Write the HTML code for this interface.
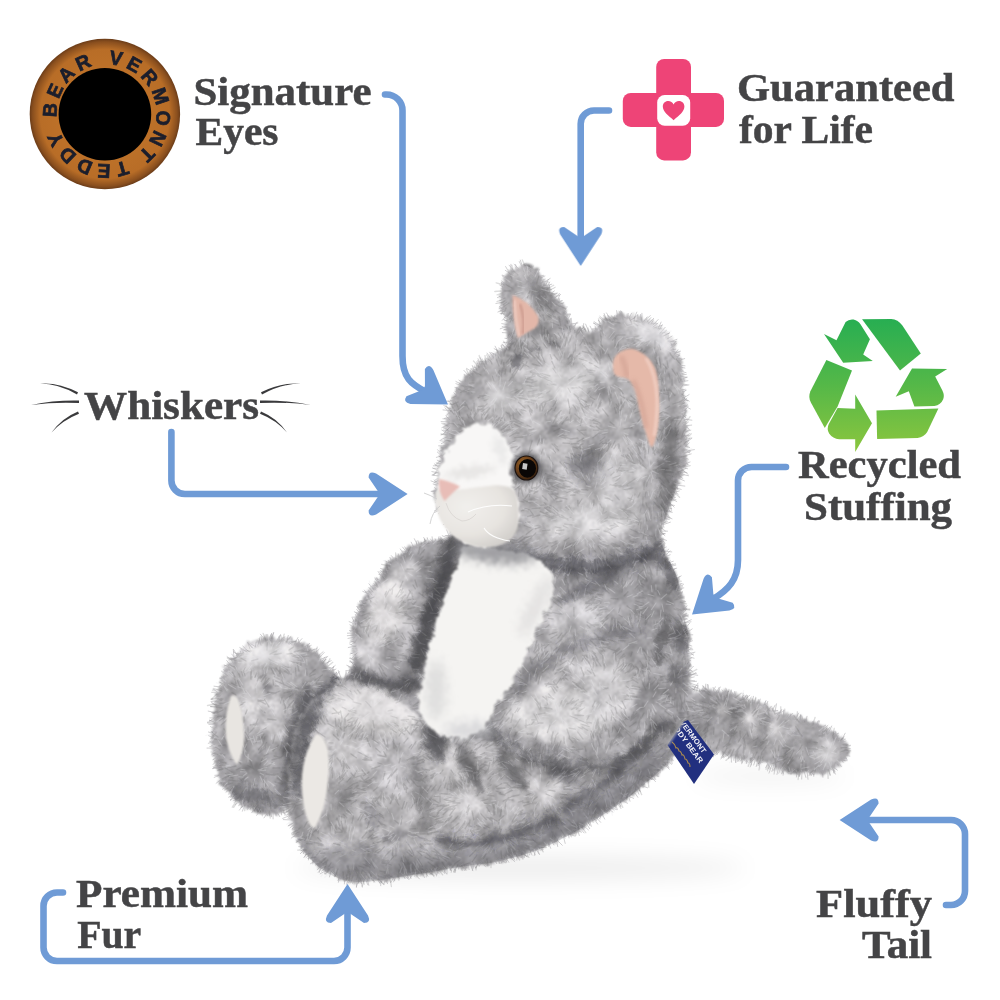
<!DOCTYPE html>
<html><head><meta charset="utf-8"><title>Plush cat features</title>
<style>
html,body{margin:0;padding:0;background:#fff;}
body{width:1000px;height:1000px;overflow:hidden;font-family:"Liberation Serif",serif;}
svg{display:block}
.lbl text{font-family:"Liberation Serif",serif;font-weight:bold;fill:#444446;stroke:#444446;stroke-width:0.5px;}
</style></head>
<body>
<svg width="1000" height="1000" viewBox="0 0 1000 1000">
<defs>

<radialGradient id="eyeg" cx="50%" cy="50%" r="50%">
<stop offset="0" stop-color="#c87a2c"/><stop offset="0.86" stop-color="#b86d27"/><stop offset="0.96" stop-color="#8a4f1e"/><stop offset="1" stop-color="#6b3c18"/>
</radialGradient>

<linearGradient id="recg" x1="0" y1="115" x2="0" y2="950" gradientUnits="userSpaceOnUse"><stop offset="0" stop-color="#27ae52"/><stop offset="0.5" stop-color="#55b848"/><stop offset="1" stop-color="#8cc63e"/></linearGradient>

<filter id="fur" filterUnits="userSpaceOnUse" x="180" y="240" width="700" height="670" color-interpolation-filters="sRGB">
  <feTurbulence type="fractalNoise" baseFrequency="0.07" numOctaves="1" seed="2" result="n0"/>
  <feDisplacementMap in="SourceGraphic" in2="n0" scale="9" xChannelSelector="R" yChannelSelector="G" result="d0"/>
  <feTurbulence type="fractalNoise" baseFrequency="0.28" numOctaves="2" seed="7" result="n"/>
  <feDisplacementMap in="d0" in2="n" scale="7" xChannelSelector="R" yChannelSelector="G" result="d"/>
  <feTurbulence type="fractalNoise" baseFrequency="0.05" numOctaves="2" seed="5" result="nl"/>
  <feTurbulence type="fractalNoise" baseFrequency="0.4" numOctaves="2" seed="9" result="nh"/>
  <feComposite in="nl" in2="nh" operator="arithmetic" k1="0" k2="0.55" k3="0.45" k4="0" result="nm"/>
  <feColorMatrix in="nm" type="matrix" values="2 0 0 0 -0.5  2 0 0 0 -0.5  2 0 0 0 -0.5  0 0 0 0 1" result="ns"/>
  <feComposite in="d" in2="ns" operator="arithmetic" k1="0.56" k2="0.73" k3="0" k4="0" result="m"/>
  <feComposite in="m" in2="d" operator="in" result="mm"/>
  <feGaussianBlur in="mm" stdDeviation="0.8" result="bl"/>
  <feColorMatrix in="bl" type="matrix" values="0.945 0 0 0 0  0 0.935 0 0 0  0 0 0.928 0 0  0 0 0 1 0"/>
</filter>
<filter id="furW" filterUnits="userSpaceOnUse" x="180" y="240" width="700" height="670" color-interpolation-filters="sRGB">
  <feTurbulence type="fractalNoise" baseFrequency="0.15" numOctaves="2" seed="17" result="n"/>
  <feDisplacementMap in="SourceGraphic" in2="n" scale="10" xChannelSelector="R" yChannelSelector="G" result="d"/>
  <feGaussianBlur in="d" stdDeviation="1.2"/>
</filter>
<filter id="rag" filterUnits="userSpaceOnUse" x="180" y="240" width="700" height="670">
  <feTurbulence type="fractalNoise" baseFrequency="0.09" numOctaves="2" seed="31" result="n"/>
  <feDisplacementMap in="SourceGraphic" in2="n" scale="16" xChannelSelector="R" yChannelSelector="G" result="d"/>
  <feTurbulence type="fractalNoise" baseFrequency="0.35" numOctaves="1" seed="4" result="n2"/>
  <feDisplacementMap in="d" in2="n2" scale="6" xChannelSelector="R" yChannelSelector="G"/>
</filter>
<filter id="hb" filterUnits="userSpaceOnUse" x="180" y="240" width="700" height="670"><feGaussianBlur stdDeviation="0.45"/></filter>
<filter id="bs"><feGaussianBlur stdDeviation="0.8"/></filter>
<filter id="b2" x="-30%" y="-30%" width="160%" height="160%"><feGaussianBlur stdDeviation="2"/></filter>
<filter id="b3" x="-30%" y="-30%" width="160%" height="160%"><feGaussianBlur stdDeviation="3"/></filter>
<filter id="gb8" filterUnits="userSpaceOnUse" x="150" y="220" width="760" height="720"><feGaussianBlur stdDeviation="8"/></filter>
<filter id="gb5" filterUnits="userSpaceOnUse" x="150" y="220" width="760" height="720"><feGaussianBlur stdDeviation="5"/></filter>
<filter id="gb3" filterUnits="userSpaceOnUse" x="150" y="220" width="760" height="720"><feGaussianBlur stdDeviation="3"/></filter>
<filter id="gb2" filterUnits="userSpaceOnUse" x="150" y="220" width="760" height="720"><feGaussianBlur stdDeviation="1.8"/></filter>
<filter id="gbs" filterUnits="userSpaceOnUse" x="150" y="220" width="760" height="720"><feGaussianBlur stdDeviation="0.9"/></filter>
<filter id="sh" filterUnits="userSpaceOnUse" x="150" y="700" width="800" height="260"><feGaussianBlur stdDeviation="11"/></filter>

<clipPath id="catclip"><path d="M436.0,491.0 C435.8,484.0 436.0,475.5 437.5,467.0 C439.0,458.5 443.2,449.5 445.0,440.0 C446.8,430.5 445.5,419.3 448.0,410.0 C450.5,400.7 455.0,391.3 460.0,384.0 C465.0,376.7 471.5,371.5 478.0,366.0 C484.5,360.5 493.8,354.8 499.0,351.0 C504.2,347.2 508.2,349.0 509.0,343.0 C509.8,337.0 504.9,323.7 503.5,315.0 C502.1,306.3 499.5,298.2 500.5,291.0 C501.5,283.8 505.5,275.8 509.5,271.5 C513.5,267.2 519.2,264.8 524.5,265.5 C529.8,266.2 535.8,270.8 541.0,276.0 C546.2,281.2 551.5,290.0 556.0,297.0 C560.5,304.0 564.5,312.8 568.0,318.0 C571.5,323.2 573.0,326.5 577.0,328.5 C581.0,330.5 587.5,331.5 592.0,330.0 C596.5,328.5 598.0,322.0 604.0,319.5 C610.0,317.0 620.0,314.8 628.0,315.0 C636.0,315.2 644.8,317.0 652.0,321.0 C659.2,325.0 666.5,331.5 671.5,339.0 C676.5,346.5 679.8,356.5 682.0,366.0 C684.2,375.5 684.3,385.0 685.0,396.0 C685.7,407.0 685.5,423.0 686.0,432.0 C686.5,441.0 688.7,442.8 688.0,450.0 C687.3,457.2 684.7,466.7 682.0,475.0 C679.3,483.3 675.0,491.8 672.0,500.0 C669.0,508.2 665.7,516.7 664.0,524.0 C662.3,531.3 659.7,534.7 662.0,544.0 C664.3,553.3 674.0,567.3 678.0,580.0 C682.0,592.7 684.0,606.7 686.0,620.0 C688.0,633.3 688.8,648.7 690.0,660.0 C691.2,671.3 690.0,683.0 693.0,688.0 C696.0,693.0 700.2,688.7 708.0,690.0 C715.8,691.3 728.0,692.3 740.0,696.0 C752.0,699.7 766.7,707.0 780.0,712.0 C793.3,717.0 809.3,721.3 820.0,726.0 C830.7,730.7 839.5,735.0 844.0,740.0 C848.5,745.0 849.0,751.0 847.0,756.0 C845.0,761.0 839.8,767.0 832.0,770.0 C824.2,773.0 812.0,775.0 800.0,774.0 C788.0,773.0 772.0,767.0 760.0,764.0 C748.0,761.0 737.0,758.0 728.0,756.0 C719.0,754.0 713.3,753.3 706.0,752.0 C698.7,750.7 692.7,744.0 684.0,748.0 C675.3,752.0 664.3,767.0 654.0,776.0 C643.7,785.0 634.3,793.2 622.0,802.0 C609.7,810.8 593.7,821.2 580.0,829.0 C566.3,836.8 553.3,843.7 540.0,849.0 C526.7,854.3 513.3,858.0 500.0,861.0 C486.7,864.0 476.7,864.3 460.0,867.0 C443.3,869.7 417.3,874.5 400.0,877.0 C382.7,879.5 368.3,882.8 356.0,882.0 C343.7,881.2 334.8,877.3 326.0,872.0 C317.2,866.7 308.8,858.3 303.0,850.0 C297.2,841.7 293.7,828.7 291.0,822.0 C288.3,815.3 290.5,811.3 287.0,810.0 C283.5,808.7 277.5,814.7 270.0,814.0 C262.5,813.3 250.0,811.3 242.0,806.0 C234.0,800.7 227.0,793.0 222.0,782.0 C217.0,771.0 212.8,755.0 212.0,740.0 C211.2,725.0 213.5,706.0 217.0,692.0 C220.5,678.0 224.5,665.2 233.0,656.0 C241.5,646.8 256.8,639.2 268.0,637.0 C279.2,634.8 291.3,640.0 300.0,643.0 C308.7,646.0 313.7,649.3 320.0,655.0 C326.3,660.7 333.2,673.8 338.0,677.0 C342.8,680.2 346.3,677.5 349.0,674.0 C351.7,670.5 353.5,663.7 354.0,656.0 C354.5,648.3 350.0,638.0 352.0,628.0 C354.0,618.0 359.7,606.7 366.0,596.0 C372.3,585.3 381.3,572.7 390.0,564.0 C398.7,555.3 408.8,548.2 418.0,544.0 C427.2,539.8 439.2,541.3 445.0,539.0 C450.8,536.7 453.5,535.0 452.5,530.0 C451.5,525.0 441.8,515.5 439.0,509.0 C436.2,502.5 436.2,498.0 436.0,491.0Z"/></clipPath>
<radialGradient id="pg1" gradientUnits="userSpaceOnUse" cx="770" cy="728" r="70"><stop offset="0" stop-color="#c4c4c8"/><stop offset="1" stop-color="#a8a8ad"/></radialGradient>
<clipPath id="pc1"><path d="M686.0,704.0 C688.0,694.7 694.3,694.3 698.0,692.0 C701.7,689.7 701.0,689.3 708.0,690.0 C715.0,690.7 728.0,692.3 740.0,696.0 C752.0,699.7 766.7,707.0 780.0,712.0 C793.3,717.0 809.3,721.3 820.0,726.0 C830.7,730.7 839.5,735.0 844.0,740.0 C848.5,745.0 849.0,751.0 847.0,756.0 C845.0,761.0 839.8,767.0 832.0,770.0 C824.2,773.0 812.0,775.0 800.0,774.0 C788.0,773.0 772.0,767.0 760.0,764.0 C748.0,761.0 737.0,758.0 728.0,756.0 C719.0,754.0 713.0,753.3 706.0,752.0 C699.0,750.7 689.3,756.0 686.0,748.0 C682.7,740.0 684.0,713.3 686.0,704.0Z"/></clipPath>
<radialGradient id="pg2" gradientUnits="userSpaceOnUse" cx="600" cy="640" r="110"><stop offset="0" stop-color="#bcbcc0"/><stop offset="1" stop-color="#a8a8ad"/></radialGradient>
<clipPath id="pc2"><path d="M450.0,540.0 C435.0,544.2 435.0,550.0 430.0,560.0 C425.0,570.0 422.5,583.3 420.0,600.0 C417.5,616.7 415.0,640.0 415.0,660.0 C415.0,680.0 415.8,703.3 420.0,720.0 C424.2,736.7 426.7,748.3 440.0,760.0 C453.3,771.7 480.0,783.3 500.0,790.0 C520.0,796.7 540.0,798.3 560.0,800.0 C580.0,801.7 604.7,804.7 620.0,800.0 C635.3,795.3 641.7,781.3 652.0,772.0 C662.3,762.7 675.2,756.0 682.0,744.0 C688.8,732.0 691.7,714.0 693.0,700.0 C694.3,686.0 691.2,673.3 690.0,660.0 C688.8,646.7 688.0,633.3 686.0,620.0 C684.0,606.7 682.0,592.7 678.0,580.0 C674.0,567.3 675.0,550.7 662.0,544.0 C649.0,537.3 623.7,541.5 600.0,540.0 C576.3,538.5 545.0,535.0 520.0,535.0 C495.0,535.0 465.0,535.8 450.0,540.0Z"/></clipPath>
<radialGradient id="pg3" gradientUnits="userSpaceOnUse" cx="262" cy="700" r="95"><stop offset="0" stop-color="#cdcdd1"/><stop offset="1" stop-color="#a2a2a7"/></radialGradient>
<clipPath id="pc3"><path d="M268.0,637.0 C279.2,634.8 291.0,639.8 300.0,643.0 C309.0,646.2 315.3,649.8 322.0,656.0 C328.7,662.2 335.8,669.3 340.0,680.0 C344.2,690.7 346.7,705.0 347.0,720.0 C347.3,735.0 346.2,755.7 342.0,770.0 C337.8,784.3 330.7,798.3 322.0,806.0 C313.3,813.7 300.0,814.7 290.0,816.0 C280.0,817.3 270.0,815.7 262.0,814.0 C254.0,812.3 248.7,811.3 242.0,806.0 C235.3,800.7 227.0,793.0 222.0,782.0 C217.0,771.0 212.8,755.0 212.0,740.0 C211.2,725.0 213.5,706.0 217.0,692.0 C220.5,678.0 224.5,665.2 233.0,656.0 C241.5,646.8 256.8,639.2 268.0,637.0Z"/></clipPath>
<radialGradient id="pg4" gradientUnits="userSpaceOnUse" cx="388" cy="615" r="62"><stop offset="0" stop-color="#cdcdd1"/><stop offset="1" stop-color="#a0a0a5"/></radialGradient>
<clipPath id="pc4"><path d="M462.0,535.0 C457.3,530.7 446.3,533.5 440.0,534.0 C433.7,534.5 430.2,535.0 424.0,538.0 C417.8,541.0 409.5,546.7 403.0,552.0 C396.5,557.3 390.8,562.7 385.0,570.0 C379.2,577.3 372.8,586.8 368.0,596.0 C363.2,605.2 359.2,616.0 356.0,625.0 C352.8,634.0 349.3,642.3 349.0,650.0 C348.7,657.7 350.2,666.0 354.0,671.0 C357.8,676.0 365.2,677.8 372.0,680.0 C378.8,682.2 387.3,683.3 395.0,684.0 C402.7,684.7 411.2,686.7 418.0,684.0 C424.8,681.3 431.7,677.3 436.0,668.0 C440.3,658.7 440.5,640.7 444.0,628.0 C447.5,615.3 453.0,603.3 457.0,592.0 C461.0,580.7 467.2,569.5 468.0,560.0 C468.8,550.5 466.7,539.3 462.0,535.0Z"/></clipPath>
<radialGradient id="pg5" gradientUnits="userSpaceOnUse" cx="400" cy="770" r="240"><stop offset="0" stop-color="#c8c8cc"/><stop offset="0.55" stop-color="#b6b6ba"/><stop offset="1" stop-color="#a6a6ab"/></radialGradient>
<clipPath id="pc5"><path d="M346.0,679.0 C336.8,679.3 332.3,684.5 325.0,690.0 C317.7,695.5 307.8,702.0 302.0,712.0 C296.2,722.0 292.3,737.0 290.0,750.0 C287.7,763.0 287.8,778.0 288.0,790.0 C288.2,802.0 288.5,812.0 291.0,822.0 C293.5,832.0 297.2,841.7 303.0,850.0 C308.8,858.3 317.2,866.7 326.0,872.0 C334.8,877.3 343.7,881.2 356.0,882.0 C368.3,882.8 382.7,879.5 400.0,877.0 C417.3,874.5 443.3,869.7 460.0,867.0 C476.7,864.3 486.7,864.0 500.0,861.0 C513.3,858.0 526.7,854.3 540.0,849.0 C553.3,843.7 566.3,836.8 580.0,829.0 C593.7,821.2 609.7,810.8 622.0,802.0 C634.3,793.2 643.7,785.0 654.0,776.0 C664.3,767.0 677.7,758.0 684.0,748.0 C690.3,738.0 696.0,719.3 692.0,716.0 C688.0,712.7 675.3,723.2 660.0,728.0 C644.7,732.8 620.0,742.2 600.0,745.0 C580.0,747.8 560.0,745.8 540.0,745.0 C520.0,744.2 495.8,741.7 480.0,740.0 C464.2,738.3 454.2,738.0 445.0,735.0 C435.8,732.0 431.7,727.2 425.0,722.0 C418.3,716.8 412.5,709.7 405.0,704.0 C397.5,698.3 389.8,692.2 380.0,688.0 C370.2,683.8 355.2,678.7 346.0,679.0Z"/></clipPath>
<radialGradient id="pg6" gradientUnits="userSpaceOnUse" cx="575" cy="680" r="105"><stop offset="0" stop-color="#c6c6ca"/><stop offset="1" stop-color="#a3a3a8"/></radialGradient>
<clipPath id="pc6"><path d="M560.0,570.0 C553.3,576.3 546.7,588.3 540.0,600.0 C533.3,611.7 526.7,626.7 520.0,640.0 C513.3,653.3 505.0,667.5 500.0,680.0 C495.0,692.5 490.5,705.0 490.0,715.0 C489.5,725.0 492.0,733.2 497.0,740.0 C502.0,746.8 509.5,751.5 520.0,756.0 C530.5,760.5 546.7,765.2 560.0,767.0 C573.3,768.8 588.3,769.5 600.0,767.0 C611.7,764.5 621.3,759.5 630.0,752.0 C638.7,744.5 646.0,734.0 652.0,722.0 C658.0,710.0 662.7,693.7 666.0,680.0 C669.3,666.3 671.7,653.3 672.0,640.0 C672.3,626.7 671.7,610.8 668.0,600.0 C664.3,589.2 659.7,581.3 650.0,575.0 C640.3,568.7 621.7,564.2 610.0,562.0 C598.3,559.8 588.3,560.7 580.0,562.0 C571.7,563.3 566.7,563.7 560.0,570.0Z"/></clipPath>
<radialGradient id="pg7" gradientUnits="userSpaceOnUse" cx="525" cy="300" r="45"><stop offset="0" stop-color="#c0c0c4"/><stop offset="1" stop-color="#a4a4a9"/></radialGradient>
<clipPath id="pc7"><path d="M507.0,348.0 C500.1,342.2 504.6,324.5 503.5,315.0 C502.4,305.5 499.5,298.2 500.5,291.0 C501.5,283.8 505.5,275.8 509.5,271.5 C513.5,267.2 519.2,264.8 524.5,265.5 C529.8,266.2 535.8,270.8 541.0,276.0 C546.2,281.2 551.5,290.0 556.0,297.0 C560.5,304.0 564.0,311.8 568.0,318.0 C572.0,324.2 583.8,328.7 580.0,334.0 C576.2,339.3 557.2,347.7 545.0,350.0 C532.8,352.3 513.9,353.8 507.0,348.0Z"/></clipPath>
<radialGradient id="pg8" gradientUnits="userSpaceOnUse" cx="560" cy="430" r="150"><stop offset="0" stop-color="#c6c6ca"/><stop offset="0.55" stop-color="#bcbcc0"/><stop offset="1" stop-color="#a9a9ae"/></radialGradient>
<clipPath id="pc8"><path d="M436.0,491.0 C435.4,483.0 436.0,475.5 437.5,467.0 C439.0,458.5 443.2,449.5 445.0,440.0 C446.8,430.5 445.5,419.3 448.0,410.0 C450.5,400.7 455.0,391.3 460.0,384.0 C465.0,376.7 471.5,371.5 478.0,366.0 C484.5,360.5 492.0,355.3 499.0,351.0 C506.0,346.7 512.3,343.0 520.0,340.0 C527.7,337.0 535.5,334.9 545.0,333.0 C554.5,331.1 569.2,329.0 577.0,328.5 C584.8,328.0 587.5,331.5 592.0,330.0 C596.5,328.5 598.0,322.0 604.0,319.5 C610.0,317.0 620.0,314.8 628.0,315.0 C636.0,315.2 644.8,317.0 652.0,321.0 C659.2,325.0 666.5,331.5 671.5,339.0 C676.5,346.5 679.8,356.5 682.0,366.0 C684.2,375.5 684.3,385.0 685.0,396.0 C685.7,407.0 685.5,423.0 686.0,432.0 C686.5,441.0 688.7,442.8 688.0,450.0 C687.3,457.2 684.7,466.7 682.0,475.0 C679.3,483.3 675.0,491.8 672.0,500.0 C669.0,508.2 666.8,516.3 664.0,524.0 C661.2,531.7 660.7,540.0 655.0,546.0 C649.3,552.0 640.8,556.3 630.0,560.0 C619.2,563.7 603.3,567.3 590.0,568.0 C576.7,568.7 561.7,566.3 550.0,564.0 C538.3,561.7 528.3,556.8 520.0,554.0 C511.7,551.2 506.7,548.0 500.0,547.0 C493.3,546.0 486.0,549.0 480.0,548.0 C474.0,547.0 469.3,544.3 464.0,541.0 C458.7,537.7 451.8,532.3 448.0,528.0 C444.2,523.7 443.0,521.2 441.0,515.0 C439.0,508.8 436.6,499.0 436.0,491.0Z"/></clipPath>
<radialGradient id="muzg" cx="0.38" cy="0.35" r="0.75"><stop offset="0" stop-color="#f1efec"/><stop offset="0.6" stop-color="#e7e4e0"/><stop offset="1" stop-color="#cfccc8"/></radialGradient>
<radialGradient id="cateye" cx="0.35" cy="0.3" r="0.8"><stop offset="0" stop-color="#96642a"/><stop offset="0.5" stop-color="#6a3f1a"/><stop offset="1" stop-color="#36200e"/></radialGradient>
<clipPath id="tagclip"><path d="M683,722 L688,720 L714,754.5 L694,784 L667.5,745 Z"/></clipPath>
</defs>
<rect width="1000" height="1000" fill="#fff"/>
<g filter="url(#sh)" fill="#000"><ellipse cx="520" cy="868" rx="225" ry="12" opacity="0.07"/><ellipse cx="770" cy="776" rx="75" ry="7" opacity="0.06"/></g>
<g filter="url(#fur)"><g clip-path="url(#catclip)"><path d="M436.0,491.0 C435.8,484.0 436.0,475.5 437.5,467.0 C439.0,458.5 443.2,449.5 445.0,440.0 C446.8,430.5 445.5,419.3 448.0,410.0 C450.5,400.7 455.0,391.3 460.0,384.0 C465.0,376.7 471.5,371.5 478.0,366.0 C484.5,360.5 493.8,354.8 499.0,351.0 C504.2,347.2 508.2,349.0 509.0,343.0 C509.8,337.0 504.9,323.7 503.5,315.0 C502.1,306.3 499.5,298.2 500.5,291.0 C501.5,283.8 505.5,275.8 509.5,271.5 C513.5,267.2 519.2,264.8 524.5,265.5 C529.8,266.2 535.8,270.8 541.0,276.0 C546.2,281.2 551.5,290.0 556.0,297.0 C560.5,304.0 564.5,312.8 568.0,318.0 C571.5,323.2 573.0,326.5 577.0,328.5 C581.0,330.5 587.5,331.5 592.0,330.0 C596.5,328.5 598.0,322.0 604.0,319.5 C610.0,317.0 620.0,314.8 628.0,315.0 C636.0,315.2 644.8,317.0 652.0,321.0 C659.2,325.0 666.5,331.5 671.5,339.0 C676.5,346.5 679.8,356.5 682.0,366.0 C684.2,375.5 684.3,385.0 685.0,396.0 C685.7,407.0 685.5,423.0 686.0,432.0 C686.5,441.0 688.7,442.8 688.0,450.0 C687.3,457.2 684.7,466.7 682.0,475.0 C679.3,483.3 675.0,491.8 672.0,500.0 C669.0,508.2 665.7,516.7 664.0,524.0 C662.3,531.3 659.7,534.7 662.0,544.0 C664.3,553.3 674.0,567.3 678.0,580.0 C682.0,592.7 684.0,606.7 686.0,620.0 C688.0,633.3 688.8,648.7 690.0,660.0 C691.2,671.3 690.0,683.0 693.0,688.0 C696.0,693.0 700.2,688.7 708.0,690.0 C715.8,691.3 728.0,692.3 740.0,696.0 C752.0,699.7 766.7,707.0 780.0,712.0 C793.3,717.0 809.3,721.3 820.0,726.0 C830.7,730.7 839.5,735.0 844.0,740.0 C848.5,745.0 849.0,751.0 847.0,756.0 C845.0,761.0 839.8,767.0 832.0,770.0 C824.2,773.0 812.0,775.0 800.0,774.0 C788.0,773.0 772.0,767.0 760.0,764.0 C748.0,761.0 737.0,758.0 728.0,756.0 C719.0,754.0 713.3,753.3 706.0,752.0 C698.7,750.7 692.7,744.0 684.0,748.0 C675.3,752.0 664.3,767.0 654.0,776.0 C643.7,785.0 634.3,793.2 622.0,802.0 C609.7,810.8 593.7,821.2 580.0,829.0 C566.3,836.8 553.3,843.7 540.0,849.0 C526.7,854.3 513.3,858.0 500.0,861.0 C486.7,864.0 476.7,864.3 460.0,867.0 C443.3,869.7 417.3,874.5 400.0,877.0 C382.7,879.5 368.3,882.8 356.0,882.0 C343.7,881.2 334.8,877.3 326.0,872.0 C317.2,866.7 308.8,858.3 303.0,850.0 C297.2,841.7 293.7,828.7 291.0,822.0 C288.3,815.3 290.5,811.3 287.0,810.0 C283.5,808.7 277.5,814.7 270.0,814.0 C262.5,813.3 250.0,811.3 242.0,806.0 C234.0,800.7 227.0,793.0 222.0,782.0 C217.0,771.0 212.8,755.0 212.0,740.0 C211.2,725.0 213.5,706.0 217.0,692.0 C220.5,678.0 224.5,665.2 233.0,656.0 C241.5,646.8 256.8,639.2 268.0,637.0 C279.2,634.8 291.3,640.0 300.0,643.0 C308.7,646.0 313.7,649.3 320.0,655.0 C326.3,660.7 333.2,673.8 338.0,677.0 C342.8,680.2 346.3,677.5 349.0,674.0 C351.7,670.5 353.5,663.7 354.0,656.0 C354.5,648.3 350.0,638.0 352.0,628.0 C354.0,618.0 359.7,606.7 366.0,596.0 C372.3,585.3 381.3,572.7 390.0,564.0 C398.7,555.3 408.8,548.2 418.0,544.0 C427.2,539.8 439.2,541.3 445.0,539.0 C450.8,536.7 453.5,535.0 452.5,530.0 C451.5,525.0 441.8,515.5 439.0,509.0 C436.2,502.5 436.2,498.0 436.0,491.0Z" fill="#adadb2"/>
<path d="M686.0,704.0 C688.0,694.7 694.3,694.3 698.0,692.0 C701.7,689.7 701.0,689.3 708.0,690.0 C715.0,690.7 728.0,692.3 740.0,696.0 C752.0,699.7 766.7,707.0 780.0,712.0 C793.3,717.0 809.3,721.3 820.0,726.0 C830.7,730.7 839.5,735.0 844.0,740.0 C848.5,745.0 849.0,751.0 847.0,756.0 C845.0,761.0 839.8,767.0 832.0,770.0 C824.2,773.0 812.0,775.0 800.0,774.0 C788.0,773.0 772.0,767.0 760.0,764.0 C748.0,761.0 737.0,758.0 728.0,756.0 C719.0,754.0 713.0,753.3 706.0,752.0 C699.0,750.7 689.3,756.0 686.0,748.0 C682.7,740.0 684.0,713.3 686.0,704.0Z" fill="url(#pg1)"/><g clip-path="url(#pc1)"><g filter="url(#gb3)"><ellipse cx="712" cy="714" rx="5" ry="20" fill="#85858a" opacity="0.5" transform="rotate(15 712 714)"/><ellipse cx="737" cy="723" rx="5" ry="20" fill="#85858a" opacity="0.5" transform="rotate(18 737 723)"/><ellipse cx="762" cy="733" rx="5" ry="20" fill="#85858a" opacity="0.5" transform="rotate(20 762 733)"/><ellipse cx="790" cy="745" rx="5" ry="20" fill="#85858a" opacity="0.5" transform="rotate(22 790 745)"/><ellipse cx="828" cy="752" rx="15" ry="12" fill="#cbcbcf" opacity="0.9" transform="rotate(0 828 752)"/><path d="M712.0,754.0 C720.0,755.8 745.3,761.8 760.0,765.0 C774.7,768.2 788.3,772.3 800.0,773.0 C811.7,773.7 825.0,769.7 830.0,769.0" fill="none" stroke="#9c9ca1" stroke-width="6" stroke-linecap="round" opacity="0.7"/></g><g filter="url(#gb2)"><ellipse cx="724" cy="710" rx="8" ry="6" fill="#d6d6da" opacity="0.8" transform="rotate(20 724 710)"/><ellipse cx="750" cy="718" rx="8" ry="6" fill="#d6d6da" opacity="0.8" transform="rotate(20 750 718)"/><ellipse cx="776" cy="728" rx="8" ry="6" fill="#d6d6da" opacity="0.8" transform="rotate(20 776 728)"/></g></g>
<path d="M450.0,540.0 C435.0,544.2 435.0,550.0 430.0,560.0 C425.0,570.0 422.5,583.3 420.0,600.0 C417.5,616.7 415.0,640.0 415.0,660.0 C415.0,680.0 415.8,703.3 420.0,720.0 C424.2,736.7 426.7,748.3 440.0,760.0 C453.3,771.7 480.0,783.3 500.0,790.0 C520.0,796.7 540.0,798.3 560.0,800.0 C580.0,801.7 604.7,804.7 620.0,800.0 C635.3,795.3 641.7,781.3 652.0,772.0 C662.3,762.7 675.2,756.0 682.0,744.0 C688.8,732.0 691.7,714.0 693.0,700.0 C694.3,686.0 691.2,673.3 690.0,660.0 C688.8,646.7 688.0,633.3 686.0,620.0 C684.0,606.7 682.0,592.7 678.0,580.0 C674.0,567.3 675.0,550.7 662.0,544.0 C649.0,537.3 623.7,541.5 600.0,540.0 C576.3,538.5 545.0,535.0 520.0,535.0 C495.0,535.0 465.0,535.8 450.0,540.0Z" fill="url(#pg2)"/><g clip-path="url(#pc2)"><g filter="url(#gb5)"><ellipse cx="640" cy="600" rx="20" ry="30" fill="#cbcbcf" opacity="0.6" transform="rotate(0 640 600)"/></g><g filter="url(#gb3)"><ellipse cx="673" cy="574" rx="8" ry="20" fill="#85858a" opacity="0.8" transform="rotate(-20 673 574)"/><ellipse cx="680" cy="638" rx="8" ry="17" fill="#85858a" opacity="0.8" transform="rotate(-15 680 638)"/><ellipse cx="676" cy="676" rx="9" ry="13" fill="#85858a" opacity="0.75" transform="rotate(-20 676 676)"/><ellipse cx="682" cy="712" rx="7" ry="16" fill="#85858a" opacity="0.5" transform="rotate(0 682 712)"/></g><g filter="url(#gb2)"><ellipse cx="655" cy="560" rx="20" ry="5" fill="#85858a" opacity="0.6" transform="rotate(18 655 560)"/></g></g>
<path d="M268.0,637.0 C279.2,634.8 291.0,639.8 300.0,643.0 C309.0,646.2 315.3,649.8 322.0,656.0 C328.7,662.2 335.8,669.3 340.0,680.0 C344.2,690.7 346.7,705.0 347.0,720.0 C347.3,735.0 346.2,755.7 342.0,770.0 C337.8,784.3 330.7,798.3 322.0,806.0 C313.3,813.7 300.0,814.7 290.0,816.0 C280.0,817.3 270.0,815.7 262.0,814.0 C254.0,812.3 248.7,811.3 242.0,806.0 C235.3,800.7 227.0,793.0 222.0,782.0 C217.0,771.0 212.8,755.0 212.0,740.0 C211.2,725.0 213.5,706.0 217.0,692.0 C220.5,678.0 224.5,665.2 233.0,656.0 C241.5,646.8 256.8,639.2 268.0,637.0Z" fill="url(#pg3)"/><g clip-path="url(#pc3)"><g filter="url(#gb3)"><ellipse cx="268" cy="656" rx="30" ry="14" fill="#e0e0e3" opacity="0.9" transform="rotate(-10 268 656)"/><ellipse cx="252" cy="700" rx="10" ry="24" fill="#d6d6da" opacity="0.8" transform="rotate(10 252 700)"/><ellipse cx="280" cy="720" rx="14" ry="22" fill="#cbcbcf" opacity="0.7" transform="rotate(10 280 720)"/><ellipse cx="300" cy="740" rx="12" ry="55" fill="#85858a" opacity="0.8" transform="rotate(8 300 740)"/><ellipse cx="255" cy="796" rx="26" ry="9" fill="#9c9ca1" opacity="0.8" transform="rotate(15 255 796)"/></g><g filter="url(#gb2)"><ellipse cx="268" cy="689" rx="4" ry="7" fill="#85858a" opacity="0.7" transform="rotate(0 268 689)"/><ellipse cx="262" cy="750" rx="6" ry="20" fill="#85858a" opacity="0.5" transform="rotate(15 262 750)"/><ellipse cx="226" cy="735" rx="5" ry="40" fill="#9c9ca1" opacity="0.6" transform="rotate(5 226 735)"/></g></g>
<g filter="url(#gb5)"><path d="M462.0,535.0 C457.3,530.7 446.3,533.5 440.0,534.0 C433.7,534.5 430.2,535.0 424.0,538.0 C417.8,541.0 409.5,546.7 403.0,552.0 C396.5,557.3 390.8,562.7 385.0,570.0 C379.2,577.3 372.8,586.8 368.0,596.0 C363.2,605.2 359.2,616.0 356.0,625.0 C352.8,634.0 349.3,642.3 349.0,650.0 C348.7,657.7 350.2,666.0 354.0,671.0 C357.8,676.0 365.2,677.8 372.0,680.0 C378.8,682.2 387.3,683.3 395.0,684.0 C402.7,684.7 411.2,686.7 418.0,684.0 C424.8,681.3 431.7,677.3 436.0,668.0 C440.3,658.7 440.5,640.7 444.0,628.0 C447.5,615.3 453.0,603.3 457.0,592.0 C461.0,580.7 467.2,569.5 468.0,560.0 C468.8,550.5 466.7,539.3 462.0,535.0Z" fill="#55555a" opacity="0.6" transform="translate(0,6)"/></g><path d="M462.0,535.0 C457.3,530.7 446.3,533.5 440.0,534.0 C433.7,534.5 430.2,535.0 424.0,538.0 C417.8,541.0 409.5,546.7 403.0,552.0 C396.5,557.3 390.8,562.7 385.0,570.0 C379.2,577.3 372.8,586.8 368.0,596.0 C363.2,605.2 359.2,616.0 356.0,625.0 C352.8,634.0 349.3,642.3 349.0,650.0 C348.7,657.7 350.2,666.0 354.0,671.0 C357.8,676.0 365.2,677.8 372.0,680.0 C378.8,682.2 387.3,683.3 395.0,684.0 C402.7,684.7 411.2,686.7 418.0,684.0 C424.8,681.3 431.7,677.3 436.0,668.0 C440.3,658.7 440.5,640.7 444.0,628.0 C447.5,615.3 453.0,603.3 457.0,592.0 C461.0,580.7 467.2,569.5 468.0,560.0 C468.8,550.5 466.7,539.3 462.0,535.0Z" fill="url(#pg4)"/><g clip-path="url(#pc4)"><g filter="url(#gb3)"><ellipse cx="386" cy="612" rx="17" ry="34" fill="#e0e0e3" opacity="0.95" transform="rotate(18 386 612)"/><ellipse cx="368" cy="652" rx="13" ry="15" fill="#d6d6da" opacity="0.85" transform="rotate(0 368 652)"/><ellipse cx="404" cy="572" rx="14" ry="9" fill="#d6d6da" opacity="0.8" transform="rotate(-35 404 572)"/><path d="M452.0,548.0 C449.8,555.0 443.2,577.0 439.0,590.0 C434.8,603.0 430.5,614.0 427.0,626.0 C423.5,638.0 419.5,656.0 418.0,662.0" fill="none" stroke="#707075" stroke-width="18" stroke-linecap="round" opacity="1"/><path d="M360.0,674.0 C364.7,675.7 379.0,682.7 388.0,684.0 C397.0,685.3 409.7,682.3 414.0,682.0" fill="none" stroke="#707075" stroke-width="9" stroke-linecap="round" opacity="0.85"/></g><g filter="url(#gb2)"><path d="M450.0,556.0 C448.0,562.0 441.7,581.0 438.0,592.0 C434.3,603.0 429.7,617.0 428.0,622.0" fill="none" stroke="#5a5a5f" stroke-width="7" stroke-linecap="round" opacity="0.7"/><ellipse cx="362" cy="612" rx="4" ry="22" fill="#9c9ca1" opacity="0.6" transform="rotate(20 362 612)"/></g></g>
<g filter="url(#gb5)"><path d="M346.0,679.0 C336.8,679.3 332.3,684.5 325.0,690.0 C317.7,695.5 307.8,702.0 302.0,712.0 C296.2,722.0 292.3,737.0 290.0,750.0 C287.7,763.0 287.8,778.0 288.0,790.0 C288.2,802.0 288.5,812.0 291.0,822.0 C293.5,832.0 297.2,841.7 303.0,850.0 C308.8,858.3 317.2,866.7 326.0,872.0 C334.8,877.3 343.7,881.2 356.0,882.0 C368.3,882.8 382.7,879.5 400.0,877.0 C417.3,874.5 443.3,869.7 460.0,867.0 C476.7,864.3 486.7,864.0 500.0,861.0 C513.3,858.0 526.7,854.3 540.0,849.0 C553.3,843.7 566.3,836.8 580.0,829.0 C593.7,821.2 609.7,810.8 622.0,802.0 C634.3,793.2 643.7,785.0 654.0,776.0 C664.3,767.0 677.7,758.0 684.0,748.0 C690.3,738.0 696.0,719.3 692.0,716.0 C688.0,712.7 675.3,723.2 660.0,728.0 C644.7,732.8 620.0,742.2 600.0,745.0 C580.0,747.8 560.0,745.8 540.0,745.0 C520.0,744.2 495.8,741.7 480.0,740.0 C464.2,738.3 454.2,738.0 445.0,735.0 C435.8,732.0 431.7,727.2 425.0,722.0 C418.3,716.8 412.5,709.7 405.0,704.0 C397.5,698.3 389.8,692.2 380.0,688.0 C370.2,683.8 355.2,678.7 346.0,679.0Z" fill="#55555a" opacity="0.6" transform="translate(-4,-3)"/></g><path d="M346.0,679.0 C336.8,679.3 332.3,684.5 325.0,690.0 C317.7,695.5 307.8,702.0 302.0,712.0 C296.2,722.0 292.3,737.0 290.0,750.0 C287.7,763.0 287.8,778.0 288.0,790.0 C288.2,802.0 288.5,812.0 291.0,822.0 C293.5,832.0 297.2,841.7 303.0,850.0 C308.8,858.3 317.2,866.7 326.0,872.0 C334.8,877.3 343.7,881.2 356.0,882.0 C368.3,882.8 382.7,879.5 400.0,877.0 C417.3,874.5 443.3,869.7 460.0,867.0 C476.7,864.3 486.7,864.0 500.0,861.0 C513.3,858.0 526.7,854.3 540.0,849.0 C553.3,843.7 566.3,836.8 580.0,829.0 C593.7,821.2 609.7,810.8 622.0,802.0 C634.3,793.2 643.7,785.0 654.0,776.0 C664.3,767.0 677.7,758.0 684.0,748.0 C690.3,738.0 696.0,719.3 692.0,716.0 C688.0,712.7 675.3,723.2 660.0,728.0 C644.7,732.8 620.0,742.2 600.0,745.0 C580.0,747.8 560.0,745.8 540.0,745.0 C520.0,744.2 495.8,741.7 480.0,740.0 C464.2,738.3 454.2,738.0 445.0,735.0 C435.8,732.0 431.7,727.2 425.0,722.0 C418.3,716.8 412.5,709.7 405.0,704.0 C397.5,698.3 389.8,692.2 380.0,688.0 C370.2,683.8 355.2,678.7 346.0,679.0Z" fill="url(#pg5)"/><g clip-path="url(#pc5)"><g filter="url(#gb3)"><ellipse cx="372" cy="712" rx="46" ry="22" fill="#e0e0e3" opacity="0.95" transform="rotate(12 372 712)"/><ellipse cx="340" cy="745" rx="18" ry="20" fill="#d6d6da" opacity="0.8" transform="rotate(0 340 745)"/><ellipse cx="350" cy="848" rx="40" ry="18" fill="#cbcbcf" opacity="0.7" transform="rotate(8 350 848)"/><ellipse cx="398" cy="765" rx="24" ry="30" fill="#cbcbcf" opacity="0.8" transform="rotate(0 398 765)"/><ellipse cx="470" cy="800" rx="26" ry="16" fill="#d6d6da" opacity="0.8" transform="rotate(-20 470 800)"/><ellipse cx="540" cy="792" rx="24" ry="13" fill="#d6d6da" opacity="0.8" transform="rotate(-25 540 792)"/><ellipse cx="600" cy="762" rx="22" ry="11" fill="#d6d6da" opacity="0.8" transform="rotate(-35 600 762)"/><ellipse cx="448" cy="765" rx="13" ry="20" fill="#d6d6da" opacity="0.8" transform="rotate(-20 448 765)"/><ellipse cx="346" cy="795" rx="8" ry="20" fill="#85858a" opacity="0.5" transform="rotate(10 346 795)"/><ellipse cx="372" cy="815" rx="6" ry="16" fill="#85858a" opacity="0.45" transform="rotate(-20 372 815)"/><ellipse cx="420" cy="792" rx="8" ry="40" fill="#85858a" opacity="0.5" transform="rotate(-12 420 792)"/><ellipse cx="436" cy="742" rx="10" ry="18" fill="#707075" opacity="0.8" transform="rotate(-20 436 742)"/><path d="M320.0,874.0 C333.3,873.8 375.0,874.8 400.0,873.0 C425.0,871.2 446.7,867.7 470.0,863.0 C493.3,858.3 518.3,853.7 540.0,845.0 C561.7,836.3 581.7,823.3 600.0,811.0 C618.3,798.7 641.7,777.7 650.0,771.0" fill="none" stroke="#9c9ca1" stroke-width="9" stroke-linecap="round" opacity="0.7"/></g><g filter="url(#gb2)"><ellipse cx="395" cy="836" rx="14" ry="5" fill="#85858a" opacity="0.7" transform="rotate(-20 395 836)"/><ellipse cx="300" cy="830" rx="6" ry="30" fill="#9c9ca1" opacity="0.6" transform="rotate(-10 300 830)"/><path d="M440.0,840.0 C446.7,840.5 466.7,844.2 480.0,843.0 C493.3,841.8 507.3,837.2 520.0,833.0 C532.7,828.8 550.0,820.5 556.0,818.0" fill="none" stroke="#85858a" stroke-width="8" stroke-linecap="round" opacity="0.75"/><path d="M566.0,808.0 C571.7,804.3 589.3,794.0 600.0,786.0 C610.7,778.0 621.0,768.3 630.0,760.0 C639.0,751.7 650.0,740.0 654.0,736.0" fill="none" stroke="#85858a" stroke-width="7" stroke-linecap="round" opacity="0.75"/><ellipse cx="470" cy="768" rx="6" ry="28" fill="#85858a" opacity="0.7" transform="rotate(-25 470 768)"/><ellipse cx="512" cy="772" rx="6" ry="24" fill="#85858a" opacity="0.7" transform="rotate(-40 512 772)"/><ellipse cx="560" cy="772" rx="6" ry="20" fill="#85858a" opacity="0.6" transform="rotate(-50 560 772)"/></g></g>
<g filter="url(#gb5)"><path d="M560.0,570.0 C553.3,576.3 546.7,588.3 540.0,600.0 C533.3,611.7 526.7,626.7 520.0,640.0 C513.3,653.3 505.0,667.5 500.0,680.0 C495.0,692.5 490.5,705.0 490.0,715.0 C489.5,725.0 492.0,733.2 497.0,740.0 C502.0,746.8 509.5,751.5 520.0,756.0 C530.5,760.5 546.7,765.2 560.0,767.0 C573.3,768.8 588.3,769.5 600.0,767.0 C611.7,764.5 621.3,759.5 630.0,752.0 C638.7,744.5 646.0,734.0 652.0,722.0 C658.0,710.0 662.7,693.7 666.0,680.0 C669.3,666.3 671.7,653.3 672.0,640.0 C672.3,626.7 671.7,610.8 668.0,600.0 C664.3,589.2 659.7,581.3 650.0,575.0 C640.3,568.7 621.7,564.2 610.0,562.0 C598.3,559.8 588.3,560.7 580.0,562.0 C571.7,563.3 566.7,563.7 560.0,570.0Z" fill="#55555a" opacity="0.55" transform="translate(-2,6)"/></g><path d="M560.0,570.0 C553.3,576.3 546.7,588.3 540.0,600.0 C533.3,611.7 526.7,626.7 520.0,640.0 C513.3,653.3 505.0,667.5 500.0,680.0 C495.0,692.5 490.5,705.0 490.0,715.0 C489.5,725.0 492.0,733.2 497.0,740.0 C502.0,746.8 509.5,751.5 520.0,756.0 C530.5,760.5 546.7,765.2 560.0,767.0 C573.3,768.8 588.3,769.5 600.0,767.0 C611.7,764.5 621.3,759.5 630.0,752.0 C638.7,744.5 646.0,734.0 652.0,722.0 C658.0,710.0 662.7,693.7 666.0,680.0 C669.3,666.3 671.7,653.3 672.0,640.0 C672.3,626.7 671.7,610.8 668.0,600.0 C664.3,589.2 659.7,581.3 650.0,575.0 C640.3,568.7 621.7,564.2 610.0,562.0 C598.3,559.8 588.3,560.7 580.0,562.0 C571.7,563.3 566.7,563.7 560.0,570.0Z" fill="url(#pg6)"/><g clip-path="url(#pc6)"><g filter="url(#gb5)"><ellipse cx="560" cy="715" rx="55" ry="30" fill="#e0e0e3" opacity="0.8" transform="rotate(-5 560 715)"/><ellipse cx="610" cy="690" rx="30" ry="30" fill="#d6d6da" opacity="0.7" transform="rotate(0 610 690)"/><ellipse cx="575" cy="620" rx="30" ry="26" fill="#d6d6da" opacity="0.7" transform="rotate(20 575 620)"/></g><g filter="url(#gb3)"><path d="M560.0,650.0 C566.3,648.0 584.3,641.3 598.0,638.0 C611.7,634.7 634.7,631.3 642.0,630.0" fill="none" stroke="#85858a" stroke-width="9" stroke-linecap="round" opacity="0.55"/><path d="M516.0,694.0 C518.7,690.3 525.3,677.7 532.0,672.0 C538.7,666.3 552.0,662.0 556.0,660.0" fill="none" stroke="#85858a" stroke-width="8" stroke-linecap="round" opacity="0.5"/></g><g filter="url(#gb2)"><ellipse cx="588" cy="588" rx="36" ry="6" fill="#85858a" opacity="0.7" transform="rotate(-25 588 588)"/><ellipse cx="662" cy="640" rx="6" ry="26" fill="#85858a" opacity="0.7" transform="rotate(10 662 640)"/><ellipse cx="640" cy="702" rx="6" ry="28" fill="#85858a" opacity="0.6" transform="rotate(25 640 702)"/><ellipse cx="598" cy="698" rx="3" ry="8" fill="#85858a" opacity="0.6" transform="rotate(0 598 698)"/><ellipse cx="540" cy="745" rx="30" ry="6" fill="#9c9ca1" opacity="0.5" transform="rotate(15 540 745)"/></g></g>
<path d="M507.0,348.0 C500.1,342.2 504.6,324.5 503.5,315.0 C502.4,305.5 499.5,298.2 500.5,291.0 C501.5,283.8 505.5,275.8 509.5,271.5 C513.5,267.2 519.2,264.8 524.5,265.5 C529.8,266.2 535.8,270.8 541.0,276.0 C546.2,281.2 551.5,290.0 556.0,297.0 C560.5,304.0 564.0,311.8 568.0,318.0 C572.0,324.2 583.8,328.7 580.0,334.0 C576.2,339.3 557.2,347.7 545.0,350.0 C532.8,352.3 513.9,353.8 507.0,348.0Z" fill="url(#pg7)"/><g clip-path="url(#pc7)"><g filter="url(#gb3)"><ellipse cx="541" cy="300" rx="6" ry="24" fill="#85858a" opacity="0.6" transform="rotate(-28 541 300)"/><ellipse cx="516" cy="272" rx="9" ry="6" fill="#d6d6da" opacity="0.8" transform="rotate(0 516 272)"/><ellipse cx="548" cy="320" rx="8" ry="10" fill="#cbcbcf" opacity="0.6" transform="rotate(-30 548 320)"/></g></g>
<g filter="url(#gb5)"><path d="M436.0,491.0 C435.4,483.0 436.0,475.5 437.5,467.0 C439.0,458.5 443.2,449.5 445.0,440.0 C446.8,430.5 445.5,419.3 448.0,410.0 C450.5,400.7 455.0,391.3 460.0,384.0 C465.0,376.7 471.5,371.5 478.0,366.0 C484.5,360.5 492.0,355.3 499.0,351.0 C506.0,346.7 512.3,343.0 520.0,340.0 C527.7,337.0 535.5,334.9 545.0,333.0 C554.5,331.1 569.2,329.0 577.0,328.5 C584.8,328.0 587.5,331.5 592.0,330.0 C596.5,328.5 598.0,322.0 604.0,319.5 C610.0,317.0 620.0,314.8 628.0,315.0 C636.0,315.2 644.8,317.0 652.0,321.0 C659.2,325.0 666.5,331.5 671.5,339.0 C676.5,346.5 679.8,356.5 682.0,366.0 C684.2,375.5 684.3,385.0 685.0,396.0 C685.7,407.0 685.5,423.0 686.0,432.0 C686.5,441.0 688.7,442.8 688.0,450.0 C687.3,457.2 684.7,466.7 682.0,475.0 C679.3,483.3 675.0,491.8 672.0,500.0 C669.0,508.2 666.8,516.3 664.0,524.0 C661.2,531.7 660.7,540.0 655.0,546.0 C649.3,552.0 640.8,556.3 630.0,560.0 C619.2,563.7 603.3,567.3 590.0,568.0 C576.7,568.7 561.7,566.3 550.0,564.0 C538.3,561.7 528.3,556.8 520.0,554.0 C511.7,551.2 506.7,548.0 500.0,547.0 C493.3,546.0 486.0,549.0 480.0,548.0 C474.0,547.0 469.3,544.3 464.0,541.0 C458.7,537.7 451.8,532.3 448.0,528.0 C444.2,523.7 443.0,521.2 441.0,515.0 C439.0,508.8 436.6,499.0 436.0,491.0Z" fill="#55555a" opacity="0.7" transform="translate(0,7)"/></g><path d="M436.0,491.0 C435.4,483.0 436.0,475.5 437.5,467.0 C439.0,458.5 443.2,449.5 445.0,440.0 C446.8,430.5 445.5,419.3 448.0,410.0 C450.5,400.7 455.0,391.3 460.0,384.0 C465.0,376.7 471.5,371.5 478.0,366.0 C484.5,360.5 492.0,355.3 499.0,351.0 C506.0,346.7 512.3,343.0 520.0,340.0 C527.7,337.0 535.5,334.9 545.0,333.0 C554.5,331.1 569.2,329.0 577.0,328.5 C584.8,328.0 587.5,331.5 592.0,330.0 C596.5,328.5 598.0,322.0 604.0,319.5 C610.0,317.0 620.0,314.8 628.0,315.0 C636.0,315.2 644.8,317.0 652.0,321.0 C659.2,325.0 666.5,331.5 671.5,339.0 C676.5,346.5 679.8,356.5 682.0,366.0 C684.2,375.5 684.3,385.0 685.0,396.0 C685.7,407.0 685.5,423.0 686.0,432.0 C686.5,441.0 688.7,442.8 688.0,450.0 C687.3,457.2 684.7,466.7 682.0,475.0 C679.3,483.3 675.0,491.8 672.0,500.0 C669.0,508.2 666.8,516.3 664.0,524.0 C661.2,531.7 660.7,540.0 655.0,546.0 C649.3,552.0 640.8,556.3 630.0,560.0 C619.2,563.7 603.3,567.3 590.0,568.0 C576.7,568.7 561.7,566.3 550.0,564.0 C538.3,561.7 528.3,556.8 520.0,554.0 C511.7,551.2 506.7,548.0 500.0,547.0 C493.3,546.0 486.0,549.0 480.0,548.0 C474.0,547.0 469.3,544.3 464.0,541.0 C458.7,537.7 451.8,532.3 448.0,528.0 C444.2,523.7 443.0,521.2 441.0,515.0 C439.0,508.8 436.6,499.0 436.0,491.0Z" fill="url(#pg8)"/><g clip-path="url(#pc8)"><g filter="url(#gb5)"><ellipse cx="563" cy="385" rx="48" ry="24" fill="#d6d6da" opacity="0.85" transform="rotate(-15 563 385)"/><ellipse cx="595" cy="490" rx="55" ry="42" fill="#cbcbcf" opacity="0.7" transform="rotate(0 595 490)"/><ellipse cx="585" cy="528" rx="55" ry="16" fill="#d6d6da" opacity="0.7" transform="rotate(-5 585 528)"/><ellipse cx="588" cy="466" rx="22" ry="15" fill="#85858a" opacity="0.6" transform="rotate(-10 588 466)"/></g><g filter="url(#gb3)"><ellipse cx="500" cy="395" rx="22" ry="13" fill="#cbcbcf" opacity="0.7" transform="rotate(-35 500 395)"/><ellipse cx="655" cy="336" rx="24" ry="17" fill="#d6d6da" opacity="0.9" transform="rotate(20 655 336)"/><ellipse cx="640" cy="322" rx="20" ry="7" fill="#d6d6da" opacity="0.8" transform="rotate(5 640 322)"/><ellipse cx="679" cy="395" rx="6" ry="45" fill="#cbcbcf" opacity="0.7" transform="rotate(0 679 395)"/><path d="M490.0,390.0 C495.0,389.3 510.0,386.8 520.0,386.0 C530.0,385.2 540.3,386.0 550.0,385.0 C559.7,384.0 573.3,380.8 578.0,380.0" fill="none" stroke="#9c9ca1" stroke-width="9" stroke-linecap="round" opacity="0.55"/><ellipse cx="468" cy="402" rx="7" ry="20" fill="#9c9ca1" opacity="0.7" transform="rotate(30 468 402)"/><ellipse cx="668" cy="470" rx="10" ry="50" fill="#9c9ca1" opacity="0.8" transform="rotate(5 668 470)"/><ellipse cx="640" cy="440" rx="6" ry="25" fill="#9c9ca1" opacity="0.4" transform="rotate(-10 640 440)"/><ellipse cx="548" cy="480" rx="10" ry="14" fill="#9c9ca1" opacity="0.5" transform="rotate(0 548 480)"/><ellipse cx="600" cy="440" rx="16" ry="8" fill="#9c9ca1" opacity="0.5" transform="rotate(-20 600 440)"/><path d="M520.0,556.0 C526.7,557.7 545.0,564.3 560.0,566.0 C575.0,567.7 594.2,568.7 610.0,566.0 C625.8,563.3 647.5,552.7 655.0,550.0" fill="none" stroke="#85858a" stroke-width="9" stroke-linecap="round" opacity="0.7"/></g><g filter="url(#gb2)"><ellipse cx="517" cy="361" rx="4" ry="10" fill="#85858a" opacity="0.8" transform="rotate(18 517 361)"/><ellipse cx="536" cy="348" rx="6" ry="3" fill="#85858a" opacity="0.75" transform="rotate(-20 536 348)"/><ellipse cx="553" cy="343" rx="7" ry="3" fill="#85858a" opacity="0.75" transform="rotate(5 553 343)"/><ellipse cx="601" cy="388" rx="5" ry="16" fill="#9c9ca1" opacity="0.7" transform="rotate(-15 601 388)"/><ellipse cx="535" cy="441" rx="15" ry="5" fill="#9c9ca1" opacity="0.7" transform="rotate(-15 535 441)"/><ellipse cx="560" cy="430" rx="18" ry="4" fill="#9c9ca1" opacity="0.5" transform="rotate(10 560 430)"/></g></g></g></g>
<g fill="none" stroke-linecap="round" filter="url(#hb)"><path d="M440,492l-8.2,-0.4M439,490l-7.9,1.3M439,489l-4.7,3.5M440,486l-6.9,-2.0M439,484l-8.0,-3.1M439,484l-4.9,-4.0M440,481l-5.1,0.2M439,480l-4.8,2.5M441,478l-5.3,1.4M440,476l-7.4,-0.7M440,475l-2.2,-6.7M439,473l-7.1,-1.4M439,472l-7.0,3.0M440,471l-7.6,-3.0M440,468l-6.5,0.4M440,468l-5.7,-4.1M440,466l-6.7,-0.2M442,466l-4.8,2.6M442,464l-5.8,-1.1M441,462l-3.8,-1.8M443,459l-4.0,-2.9M443,457l-5.7,-5.0M443,456l-5.4,-6.3M444,455l-7.7,2.4M445,454l-5.4,2.2M444,451l-4.3,0.0M446,450l-5.3,0.8M445,448l-4.2,-1.0M447,447l-5.5,0.5M446,446l-7.4,-0.2M448,445l-4.3,0.8M447,442l-7.0,-1.4M448,440l-6.7,3.7M448,439l-3.6,2.2M447,437l-6.0,2.6M448,435l-4.3,-1.1M448,434l-6.2,-3.9M449,432l-7.9,2.9M449,431l-5.8,-0.9M449,428l-5.2,5.1M450,427l-5.1,5.4M450,425l-6.2,-1.6M449,424l-7.2,3.7M450,422l-8.9,-0.4M450,420l-4.2,-4.1M450,419l-7.1,-0.2M450,417l-5.6,1.4M451,414l-1.2,-5.9M450,414l-5.0,-6.2M451,411l-4.6,4.3M451,411l-3.0,-3.2M451,411l-8.0,-1.1M451,409l-7.2,-3.5M453,406l-4.7,-5.4M454,406l-3.6,-2.9M455,405l-5.9,-1.1M454,402l-7.7,-0.8M455,401l-4.6,-0.6M456,400l-6.1,0.3M457,397l-0.6,-8.7M457,396l-3.1,-3.2M459,394l-2.3,-6.3M459,393l-3.9,-1.5M461,392l-4.1,-4.8M461,389l-6.0,-1.5M462,389l-5.3,1.5M463,386l-7.1,-2.3M462,387l-2.7,-3.9M463,385l-7.1,-3.5M465,384l-6.1,-3.9M467,383l-4.5,-1.6M467,382l-2.0,-4.5M467,380l-2.8,-5.7M469,380l-1.1,-5.5M470,377l-6.1,-6.6M471,376l-0.6,-5.5M472,376l-2.5,-4.4M474,373l-7.3,-4.5M475,373l-2.7,-7.4M477,372l-0.4,-6.9M478,370l-6.4,-1.2M479,369l-5.4,-1.8M480,369l-3.1,-7.4M481,367l-3.0,-8.3M482,367l-4.4,-6.3M484,366l-7.3,-2.9M484,365l-3.7,-7.3M487,365l-1.7,-5.0M489,362l-2.5,-3.7M488,362l-8.4,-0.7M490,361l-2.7,-3.1M492,360l-5.0,-6.9M493,359l0.2,-5.3M494,358l-4.4,-5.8M495,357l1.1,-4.1M497,356l-4.1,-2.0M498,355l-6.9,-2.4M499,354l-3.9,-7.8M501,353l-6.9,-4.4M503,352l-2.0,-6.1M503,351l-1.5,-5.9M505,351l-6.2,-3.0M506,350l-3.5,-5.9M507,348l-4.9,-3.2M508,348l-4.4,-6.9M510,346l-3.3,-2.6M512,342l-8.8,0.5M512,340l-2.9,3.4M510,339l-5.1,-0.7M512,338l-5.5,4.7M512,336l-5.0,4.5M510,335l-3.2,3.2M509,333l-6.7,-0.4M511,331l-7.0,-1.6M509,329l-5.2,1.0M510,328l-7.8,-1.4M508,326l-7.8,2.8M509,325l-7.2,-1.4M509,322l-5.1,-2.2M508,321l-3.9,-1.1M508,320l-3.7,-2.7M507,317l-4.1,-3.6M507,315l-4.7,5.3M506,314l-5.9,-0.5M506,312l-5.5,-1.2M506,311l-4.3,-2.4M506,311l-6.5,-4.0M505,309l-7.1,3.0M505,307l-5.9,1.6M504,305l-2.1,8.6M504,304l-4.8,3.0M504,302l-8.1,1.5M504,300l-4.1,0.6M505,300l-4.4,5.3M504,298l-4.4,-1.3M503,294l-4.0,1.3M505,294l-7.6,3.6M503,292l-1.2,7.2M503,291l-1.6,-8.5M505,290l-3.9,-1.4M504,290l-1.6,-3.7M506,288l-6.2,-2.8M506,286l-4.3,-3.2M507,285l-5.3,-3.9M508,284l-5.2,-0.9M509,282l-3.0,3.8M508,280l-6.0,-4.3M509,278l-6.7,-2.9M511,277l-2.2,-7.2M512,276l-4.0,-3.8M511,274l-5.7,-3.6M510,274l-4.4,-7.5M511,273l-0.1,-8.7M513,273l-1.1,-7.8M515,272l-5.9,-6.8M517,273l-1.8,-6.1M518,272l-2.4,-7.5M520,270l-5.9,-5.7M521,270l3.8,-6.3M523,269l-3.7,-7.4M525,269l1.8,-3.6M523,268l-2.7,-7.9M525,269l-1.5,-4.6M526,269l-0.1,-5.3M526,272l7.4,-1.1M528,271l5.3,-4.7M529,272l-2.5,-7.2M530,273l7.7,-3.5M532,274l-0.9,-4.1M535,274l-2.9,-2.8M536,277l3.2,-4.1M537,277l6.5,-1.6M537,278l2.1,-8.5M538,279l4.0,-1.3M540,278l4.9,-2.0M540,281l5.0,-1.9M542,281l6.5,1.1M543,283l7.2,-4.6M543,285l6.6,2.7M545,286l6.8,-1.8M545,287l3.2,-7.4M546,289l3.7,-6.9M548,289l1.8,-4.0M548,291l7.2,-3.6M549,292l0.5,-6.5M550,294l4.4,-3.1M551,294l6.4,-0.9M552,296l4.6,-2.4M553,298l3.5,-2.7M554,298l6.6,-3.5M554,299l5.4,-5.6M555,302l7.4,-1.3M557,303l4.7,-2.1M557,303l2.5,-7.8M557,305l6.8,-2.4M558,306l1.6,-7.3M559,308l8.3,-1.0M559,309l6.6,-0.3M560,311l-1.4,-6.9M562,312l4.1,-0.8M562,313l4.2,-4.5M563,314l7.5,0.1M564,316l2.4,-3.6M566,318l3.3,-3.9M565,319l2.3,-4.3M567,321l3.3,-6.6M568,324l2.9,-5.8M569,323l-1.5,-5.0M571,324l6.8,-1.0M571,327l0.3,-8.3M573,327l4.2,-4.9M573,330l2.7,-5.6M578,332l1.9,-4.7M579,332l6.5,-3.0M580,331l3.8,-3.7M582,332l-1.9,-5.6M583,332l0.7,-8.4M585,332l-0.7,-4.6M586,332l-1.1,-3.9M589,332l-3.4,-7.9M589,333l-1.0,-5.1M593,332l-2.9,-5.8M596,332l-3.3,-2.5M596,331l-0.9,-5.1M598,329l-5.7,-0.1M599,327l-5.4,-4.0M601,326l-6.9,-4.3M602,326l-8.4,-2.7M602,325l-3.5,-4.6M604,324l2.0,-5.2M605,322l-5.8,-4.4M606,322l-6.2,-5.7M607,321l-2.9,-7.5M609,321l-1.2,-5.6M611,320l-4.5,-7.1M613,321l1.6,-5.3M614,320l-5.8,-3.9M617,321l-0.4,-5.4M618,319l-1.4,-8.4M620,319l0.5,-8.1M621,319l0.9,-6.8M623,320l-1.5,-8.7M623,319l-3.9,-7.8M626,318l-6.8,-3.0M627,319l0.0,-5.0M628,318l0.2,-4.6M629,318l2.5,-4.7M631,320l3.8,-2.8M633,319l4.9,-4.3M634,319l2.8,-6.9M634,321l1.0,-4.7M636,321l5.2,-1.3M638,320l-0.3,-5.0M641,321l-0.5,-6.5M642,321l-0.1,-7.7M643,322l4.1,-5.1M644,321l6.3,-5.3M647,322l3.9,-4.4M649,324l-2.6,-5.1M649,323l4.7,-4.7M651,324l2.5,-4.3M651,324l5.5,-0.8M653,325l5.2,-5.5M653,327l4.9,-3.8M654,328l8.0,-2.7M656,328l5.4,0.7M658,329l3.1,-6.9M659,330l3.3,-5.2M660,333l5.2,-5.7M660,333l4.9,-0.5M662,334l4.4,-3.6M663,336l6.0,-2.7M664,336l5.7,-3.3M666,338l0.2,-4.3M667,339l5.0,-2.9M668,339l-0.0,-4.1M668,341l8.1,0.9M670,342l6.9,-2.7M671,343l2.5,7.0M671,345l4.0,-1.5M671,347l5.1,-5.9M671,348l5.5,-4.5M671,350l4.7,-0.8M672,351l7.9,2.2M674,353l5.4,2.1M674,353l6.5,-1.8M674,355l3.9,-5.2M676,357l3.8,-1.7M676,359l5.5,-0.6M676,360l3.2,-5.6M677,361l7.7,-2.4M678,363l4.2,-3.8M678,365l3.7,4.5M678,365l7.0,0.8M679,365l3.1,2.5M680,367l4.9,1.0M679,369l4.4,2.0M680,371l6.1,1.7M680,373l4.3,0.9M681,375l5.2,-0.5M680,376l6.9,1.4M681,379l6.1,-1.9M680,379l4.5,1.3M680,382l7.9,-1.3M680,383l0.6,-6.2M681,384l6.2,0.7M682,386l6.9,-1.1M680,389l2.8,-4.1M681,390l4.4,-0.7M682,392l4.3,-1.8M681,394l4.7,2.4M681,396l4.2,-5.2M681,396l6.5,4.9M682,397l7.2,4.2M682,399l7.1,-4.4M683,400l5.1,0.5M682,403l4.9,-4.9M683,405l7.4,4.0M682,406l6.3,0.2M682,407l4.7,1.6M682,408l5.7,-3.2M682,411l2.3,-4.7M682,412l4.3,-3.0M682,414l4.0,4.0M682,415l3.1,6.3M682,418l4.3,-2.5M683,419l8.9,1.2M683,421l4.5,-2.1M682,423l3.9,-1.0M683,424l6.6,5.5M683,426l8.7,-0.9M682,427l6.5,-5.0M682,429l5.2,-2.2M682,431l4.5,6.8M684,432l6.8,-1.8M683,435l5.7,-5.2M683,436l4.7,-0.9M684,437l4.9,-1.7M683,439l6.3,-5.3M684,440l7.4,-2.1M684,442l4.4,-1.3M685,443l6.9,-4.7M685,446l4.7,1.5M685,447l4.2,-4.0M685,449l5.7,2.1M684,449l5.5,3.8M686,451l8.4,-1.4M683,452l6.7,0.1M685,453l5.0,-1.5M684,456l7.2,-2.1M684,457l4.2,2.2M683,459l5.3,5.8M682,460l4.2,-1.1M683,462l4.7,2.4M682,463l4.1,1.4M682,465l8.1,-3.0M682,467l5.5,1.7M681,469l4.0,2.7M681,469l7.0,5.2M680,472l6.8,0.5M679,472l3.9,1.5M680,474l8.5,1.7M679,476l3.9,2.5M679,477l5.3,-2.3M678,478l6.4,2.9M677,481l0.5,8.3M676,481l2.3,4.1M675,484l4.7,-0.3M676,485l8.8,1.1M674,486l4.1,3.1M673,487l8.2,2.4M673,490l3.7,2.3M672,491l6.1,3.1M672,493l7.2,-2.0M671,494l4.5,-0.5M671,496l4.5,-1.4M670,498l6.7,3.5M670,499l5.4,-1.5M668,501l7.9,-1.4M669,502l5.1,5.1M668,504l6.4,1.5M666,505l3.9,6.1M666,506l6.3,-0.7M667,508l4.7,0.6M665,510l6.0,1.6M665,511l7.3,1.3M664,514l5.1,3.5M665,516l7.0,2.8M663,516l3.0,2.8M663,518l6.2,1.4M662,520l2.1,-5.4M662,521l1.9,6.2M661,524l6.3,-2.3M662,525l8.4,-2.8M660,526l6.3,-4.9M661,528l4.4,2.9M660,531l7.5,0.2M660,531l4.9,4.7M659,534l6.3,-0.3M659,536l5.7,-2.6M660,537l4.9,6.4M660,538l6.5,2.4M659,541l4.4,-1.8M659,543l4.1,-1.1M659,546l3.8,-1.9M659,546l4.9,3.7M661,549l5.3,-2.0M661,551l2.9,-5.0M663,551l8.8,0.9M663,553l3.9,1.3M662,555l6.8,-5.9M665,556l5.0,-5.2M664,557l6.2,-2.2M664,560l0.8,7.6M667,561l3.6,2.0M667,563l3.4,-2.5M667,563l6.3,-1.7M668,565l7.6,-1.1M668,567l7.8,-1.9M669,567l3.2,-3.3M669,569l4.1,-4.6M670,570l6.7,-1.8M672,572l3.1,-3.3M672,573l2.1,-4.1M673,576l4.3,-0.9M673,577l5.4,1.3M675,579l4.8,-2.5M675,580l6.2,-4.1M675,581l6.4,0.2M676,582l7.6,2.3M676,584l6.6,1.7M676,585l3.2,-6.0M677,587l5.4,-0.1M677,589l4.1,-5.0M676,589l7.8,-1.1M677,592l5.1,-3.1M677,593l5.5,-0.2M678,596l4.6,-4.8M679,596l3.0,-2.8M680,597l4.5,0.1M679,601l5.6,0.1M679,601l6.5,0.5M680,603l4.6,2.4M679,606l4.5,0.4M681,607l4.4,2.6M681,608l5.5,0.6M682,609l7.9,0.1M682,612l4.9,-6.2M681,613l7.3,3.7M682,614l4.5,-4.5M682,616l4.7,-2.8M683,617l5.5,-1.9M683,619l4.3,0.2M683,620l4.0,-1.6M684,623l7.3,-3.3M683,623l8.0,-1.2M684,624l1.0,-5.4M683,627l4.5,0.9M683,629l3.5,6.4M684,630l5.6,-6.8M685,632l3.6,-3.6M685,634l7.2,-5.1M685,635l7.8,-0.2M685,637l5.0,-0.6M686,637l3.3,-2.8M684,640l7.8,-1.0M684,642l6.6,-1.9M686,643l6.4,-2.2M686,644l5.8,2.0M685,646l5.2,-4.8M685,647l7.1,1.3M687,650l6.5,5.2M686,650l6.8,-0.3M686,652l5.0,-3.5M687,654l7.9,-1.8M687,656l6.4,-2.0M686,656l8.1,2.2M686,659l4.3,5.0M687,660l4.7,-2.1M686,662l4.6,-1.6M686,665l4.5,-0.0M687,665l4.4,0.2M687,666l4.1,0.5M688,668l5.1,4.4M687,670l4.9,0.4M688,672l5.4,-5.7M689,674l8.7,1.3M689,675l7.6,-1.8M689,677l6.6,-4.3M690,678l4.2,-1.1M688,680l6.7,0.8M689,682l7.5,-0.7M690,683l8.1,3.0M690,686l7.7,1.9M690,687l3.7,2.4M693,690l5.0,-6.8M694,692l0.7,-4.0M696,692l0.1,-4.2M697,691l0.9,-6.0M700,692l-1.3,-4.0M701,692l2.6,-5.5M703,692l3.4,-3.4M704,693l3.0,-3.2M705,693l0.8,-8.9M707,693l0.4,-8.6M709,693l-0.8,-8.1M710,694l-6.3,-5.4M712,694l3.3,-7.1M715,695l4.1,-7.6M715,694l-1.9,-6.6M717,695l3.2,-8.0M718,696l1.1,-6.4M719,696l-3.4,-6.4M722,696l3.7,-4.7M723,696l5.9,-4.8M726,697l-3.7,-4.7M726,696l-4.1,-6.2M729,696l-3.2,-7.8M730,696l1.1,-6.1M731,698l0.2,-7.7M734,697l0.7,-5.6M735,697l1.0,-5.1M736,698l-4.5,-6.2M738,700l-2.8,-4.4M740,699l3.9,-1.7M741,699l2.8,-3.9M742,701l1.2,-7.8M743,701l3.1,-5.9M745,700l4.6,-4.8M746,702l1.3,-6.2M748,702l3.2,-5.0M749,702l-4.0,-6.2M752,704l1.4,-7.7M754,704l-1.9,-5.4M754,705l0.8,-4.9M755,705l0.9,-6.8M758,706l2.2,-6.9M759,708l-0.4,-8.3M760,708l4.1,-2.6M763,707l3.0,-6.4M763,709l2.4,-7.2M765,709l0.3,-4.4M766,709l1.8,-7.6M767,711l4.4,-4.8M769,711l-2.8,-5.8M772,711l5.7,-0.5M772,711l3.1,-5.9M775,712l1.5,-8.2M775,714l7.6,-2.3M777,715l4.8,-5.6M778,716l3.3,-5.5M781,715l-0.2,-8.3M783,717l1.1,-6.6M784,717l-0.6,-7.0M785,716l-0.2,-7.0M786,718l2.7,-3.5M788,718l4.5,-4.7M790,719l0.5,-4.9M791,720l-3.4,-3.0M793,719l4.4,0.5M795,720l3.6,-6.9M796,721l5.0,-5.8M797,720l0.3,-8.3M800,722l0.7,-6.6M801,722l-0.4,-7.4M802,724l6.8,-1.7M804,723l-2.2,-6.8M805,724l2.0,-7.7M807,724l-0.7,-4.3M809,725l-4.5,-6.0M810,726l3.0,-4.8M811,727l6.9,-2.3M812,727l5.4,-2.8M815,728l2.9,-7.0M816,727l2.7,-6.3M817,729l2.5,-8.0M818,729l3.4,-2.2M819,729l6.7,-3.8M821,731l6.9,-5.6M823,731l0.7,-4.7M824,732l3.4,-5.0M825,733l4.9,-5.8M828,734l3.7,-8.0M828,734l3.2,-3.0M831,735l3.0,-3.3M832,736l6.6,-2.8M833,736l3.1,-3.8M833,738l-0.9,-6.0M835,739l3.1,-2.8M836,739l-0.4,-7.8M839,740l-4.5,-6.8M840,742l5.4,-2.8M840,741l4.1,-4.4M841,741l4.2,-7.8M842,742l4.0,-1.0M841,744l5.6,0.3M842,745l5.9,-0.3M842,748l8.6,-2.7M842,748l8.3,0.6M843,750l6.1,2.4M843,752l7.7,-1.2M843,754l6.3,-3.0M844,755l5.9,1.1M844,754l3.2,6.0M843,755l3.0,3.3M842,757l4.0,1.9M840,758l3.1,4.3M839,758l6.1,2.9M839,760l7.9,0.7M838,761l3.4,5.7M836,762l-4.3,7.3M835,763l3.5,2.1M834,765l-0.1,7.5M832,766l5.4,4.2M832,766l3.4,8.1M832,767l2.1,6.3M829,768l6.1,3.2M828,768l2.1,7.6M826,767l-1.2,6.9M824,769l-1.6,4.1M823,768l4.3,1.6M822,769l0.9,8.2M821,769l2.0,5.9M818,769l2.6,3.8M818,768l2.2,5.9M815,769l-3.8,6.8M813,768l0.7,8.3M812,769l-1.6,6.1M811,769l-1.9,6.5M810,769l3.6,5.9M807,771l1.0,8.3M807,770l4.1,4.6M804,771l1.9,6.4M802,770l-2.0,4.9M802,771l-0.3,8.1M800,772l-0.4,4.1M800,770l-0.9,6.4M797,771l-0.6,6.0M796,770l1.9,4.5M795,769l-3.3,3.5M793,769l-1.5,4.8M792,769l-0.2,4.1M789,768l1.9,6.3M789,767l1.1,4.2M785,768l3.3,5.4M784,768l-2.4,5.8M784,768l-0.9,7.2M781,767l-2.2,6.2M780,765l3.1,8.4M779,766l-2.0,8.4M777,765l-3.9,5.6M775,766l-0.9,8.1M774,764l-2.1,7.5M772,765l-3.0,8.1M770,764l-1.4,4.7M768,764l-2.3,3.5M768,763l1.2,6.3M766,761l4.8,7.6M763,762l-5.2,1.7M762,761l-3.0,4.2M760,762l-1.0,8.1M759,761l-1.0,4.7M758,760l-1.8,6.6M755,761l-1.3,4.0M754,759l-3.7,3.7M753,759l-2.8,7.9M751,758l0.6,4.2M750,758l1.4,6.9M747,758l-0.5,5.4M745,757l-4.9,4.0M744,758l-1.8,4.8M743,756l5.1,6.4M741,757l-2.8,4.3M740,755l5.4,6.2M738,755l-0.3,6.2M736,755l-0.2,7.3M736,754l-0.3,8.5M734,754l-0.1,6.3M731,755l0.6,7.2M730,753l-6.3,4.7M729,754l-0.4,4.3M727,754l-6.2,4.8M724,753l-1.9,3.8M724,753l-2.8,4.7M722,751l6.1,4.9M719,752l-3.4,3.1M717,752l-4.5,4.7M716,750l1.2,4.6M715,751l-1.6,5.9M713,751l-1.2,4.0M712,751l0.3,5.6M710,749l0.5,4.5M708,749l4.8,7.0M706,749l-2.5,4.3M705,749l-3.9,3.9M703,748l2.5,6.4M702,749l-4.0,2.2M699,747l0.9,4.7M699,748l1.6,8.2M696,747l-8.4,1.4M695,746l-3.8,7.9M694,746l-2.2,3.4M691,747l-4.4,3.4M691,746l-1.9,4.3M688,746l-0.8,4.3M686,746l-2.4,5.2M682,746l8.1,1.8M681,748l4.0,7.8M680,747l0.8,4.6M678,749l3.4,8.3M677,751l7.3,4.8M676,751l4.2,5.0M674,752l4.3,4.2M673,754l5.8,4.5M673,754l-1.0,6.3M671,755l1.1,8.7M670,757l3.2,3.7M668,758l2.6,3.2M668,760l3.4,4.4M666,760l1.1,5.1M665,761l3.9,6.8M665,763l-2.4,4.8M663,763l6.3,6.2M662,765l0.5,5.0M660,765l0.1,7.9M659,766l0.1,4.3M657,768l-1.0,5.3M657,768l5.9,0.9M655,770l3.2,3.4M654,771l4.8,5.7M653,772l1.9,6.5M653,773l4.8,3.6M650,775l1.3,4.5M650,776l5.5,5.6M648,776l4.6,2.2M646,777l6.4,2.5M647,779l8.8,0.2M644,779l0.5,5.1M642,781l2.2,3.6M642,783l1.1,4.5M641,782l-0.9,4.2M640,785l7.5,2.8M638,785l2.0,4.0M638,785l2.3,6.7M636,787l2.9,7.2M634,787l6.0,3.8M633,790l4.8,7.3M632,791l-0.3,4.1M631,791l3.8,2.6M629,792l1.2,5.8M628,794l2.0,7.2M627,794l-2.6,5.1M626,795l7.7,3.4M624,797l8.3,-2.9M622,797l4.5,5.0M622,798l-1.3,4.4M621,800l6.5,3.3M619,800l1.4,6.7M618,800l-4.1,4.5M617,802l4.0,3.9M615,802l2.3,7.7M614,804l1.6,4.1M613,804l-2.9,3.6M610,805l2.8,3.7M610,807l6.4,2.6M609,807l5.0,2.9M607,808l5.9,4.1M606,809l3.6,2.6M603,810l4.4,3.3M602,811l-0.6,4.2M601,812l3.7,7.1M600,813l0.6,5.1M599,814l-2.5,6.5M597,814l2.8,5.1M597,814l3.5,2.5M595,816l5.6,6.3M593,817l4.7,7.1M592,817l1.1,5.4M590,818l5.4,1.7M589,819l2.3,7.3M588,821l1.6,3.8M587,821l2.9,4.6M586,823l3.7,5.7M584,823l0.3,4.9M583,825l5.4,4.9M580,824l3.2,5.8M580,826l6.7,0.0M579,827l5.0,5.9M577,827l-1.2,8.6M577,828l2.3,7.5M574,829l7.6,3.2M573,829l3.9,3.1M572,829l2.5,4.8M569,831l2.3,5.9M568,831l1.0,6.9M568,832l5.3,0.5M565,832l1.0,4.8M564,834l1.0,4.3M563,835l2.2,8.4M560,834l2.2,3.7M559,836l-2.3,5.4M558,836l-0.5,4.2M556,838l1.7,8.5M556,839l6.3,6.3M553,838l2.3,4.9M551,839l7.0,3.1M551,840l2.9,4.9M549,841l-0.4,5.4M548,842l2.7,6.3M547,843l-3.6,4.5M545,842l-0.1,5.2M543,844l-0.3,6.2M541,846l1.9,3.6M541,845l0.6,4.5M539,846l1.2,4.7M537,847l2.0,6.7M536,848l-1.8,7.7M535,848l4.6,6.6M532,848l3.3,6.9M531,848l-1.4,6.9M529,848l3.0,7.1M529,850l5.1,1.1M528,850l-0.2,6.2M525,851l-0.7,6.7M523,851l2.8,4.8M523,851l-0.1,8.2M520,852l6.7,4.6M520,852l1.1,4.1M517,852l-0.2,8.1M515,853l4.9,1.5M515,854l7.1,3.8M512,854l2.7,6.2M512,855l-5.0,3.7M510,854l3.0,3.9M509,856l5.7,5.8M507,856l-0.9,6.8M505,856l3.8,6.3M504,856l-2.8,7.4M502,856l4.7,6.0M501,857l6.7,3.2M500,859l-0.9,4.5M498,858l7.5,4.7M496,858l3.9,5.6M495,859l1.7,4.4M493,859l3.2,4.1M492,858l-0.7,4.2M489,859l0.2,6.6M488,860l-0.0,5.8M487,861l-2.4,4.2M486,860l1.3,4.6M483,861l3.7,5.2M483,860l-3.7,6.2M480,861l5.7,5.9M479,861l-3.0,6.7M476,861l0.0,9.0M475,861l4.0,4.9M474,863l-1.5,7.3M473,862l2.6,5.7M471,862l-5.3,5.8M470,863l2.8,7.7M468,863l1.1,6.6M466,864l-1.2,6.6M465,863l2.0,4.2M462,863l4.0,7.2M461,864l4.2,4.0M460,864l2.2,6.4M459,864l-0.5,5.0M456,866l-0.6,6.3M454,865l0.3,7.5M453,864l-1.8,8.3M452,866l3.6,4.5M451,866l-0.3,4.5M448,865l3.1,5.6M447,867l-0.0,7.0M446,866l-1.0,5.5M444,866l0.6,7.4M442,867l4.4,6.8M440,868l-3.3,2.7M439,867l-1.8,7.4M438,867l-4.6,3.5M436,868l0.4,8.0M434,868l5.4,6.0M432,868l-2.0,6.7M431,869l5.4,5.9M429,870l5.1,6.8M427,869l-2.2,4.5M427,870l4.7,4.2M425,871l2.8,5.2M422,871l2.4,6.5M421,870l6.5,2.2M420,871l0.1,5.2M418,870l2.9,3.6M418,872l-7.3,1.4M416,872l-1.4,4.2M414,873l5.4,5.9M413,872l-1.8,5.2M410,873l0.6,4.7M409,873l1.9,5.6M408,873l-0.5,4.5M406,872l3.2,7.1M403,874l1.7,4.2M402,874l6.4,5.2M401,873l4.0,5.4M399,874l-0.1,6.3M398,873l1.3,5.4M397,875l-3.5,6.9M395,875l-4.1,7.4M393,874l1.7,6.7M391,874l-2.7,5.0M389,876l-3.9,5.5M388,875l2.4,7.1M387,876l-3.3,8.2M384,876l-2.7,6.8M384,876l3.6,7.7M383,876l-2.0,5.9M381,877l-0.3,8.7M378,877l4.3,6.3M377,876l3.0,7.5M375,876l4.5,6.7M373,878l1.0,4.4M372,877l7.5,2.9M371,878l3.8,3.9M370,878l2.8,3.0M367,878l1.8,7.2M365,878l2.8,6.8M364,878l-6.4,5.0M363,879l1.2,5.3M361,879l1.3,8.1M359,879l-2.6,7.6M358,878l3.4,5.5M357,879l-0.6,8.4M356,879l-4.9,1.2M354,877l-1.4,6.2M353,878l-4.3,4.5M350,876l-7.7,2.8M349,877l-2.4,7.4M348,875l-3.0,6.4M345,875l-0.6,8.9M344,874l-0.9,4.1M342,874l-2.0,6.1M342,874l-4.1,6.4M340,874l-1.6,8.3M337,873l-2.0,3.9M337,872l1.8,8.0M335,872l-0.7,4.6M333,871l4.0,3.3M331,871l-1.5,5.9M331,871l5.4,5.4M328,870l-3.0,4.0M327,870l-6.8,3.8M327,868l-5.3,3.0M326,868l-1.4,5.6M324,866l-5.7,6.2M323,864l-5.8,5.7M322,864l-2.8,8.5M320,863l-5.3,-1.0M319,862l-3.7,3.2M319,860l-1.3,4.9M317,860l-6.5,3.7M317,859l-3.7,1.6M315,857l-2.2,6.8M313,855l-1.9,4.0M313,854l-0.4,8.0M312,853l-6.0,4.5M309,852l-5.1,5.5M309,852l-0.5,7.9M308,850l-3.5,7.0M306,848l-5.7,5.7M305,849l-3.9,1.6M305,847l-6.3,-0.4M305,846l-1.5,7.5M304,845l-3.7,4.2M304,842l-3.4,5.4M303,841l-1.5,7.6M303,839l-6.1,2.7M301,839l-4.5,1.7M302,837l-4.4,1.5M299,836l-5.4,0.6M300,835l-4.1,2.2M298,833l-6.5,4.9M299,830l-4.1,-1.3M297,830l-1.7,5.2M298,829l-5.9,0.9M295,826l-2.7,3.0M296,826l-3.7,2.8M295,824l-5.0,3.8M295,822l-6.3,3.8M294,822l-5.9,3.8M292,820l-8.7,-0.4M293,817l-4.1,1.6M291,815l-8.3,3.4M291,815l-2.9,3.4M291,813l-4.8,2.2M289,811l-4.9,1.8M287,807l-0.6,5.3M285,807l-0.1,8.2M283,807l0.5,5.7M281,809l0.6,5.9M280,808l-1.0,4.5M279,810l6.4,4.1M276,810l3.7,6.6M275,809l1.1,6.8M273,810l0.1,8.9M271,811l0.6,5.8M270,811l-0.6,4.4M269,811l-5.0,6.9M268,810l1.4,4.2M266,809l1.7,6.7M265,809l-0.3,4.2M263,808l-0.1,6.4M261,809l-4.3,6.3M261,809l1.3,6.9M258,808l2.4,5.9M257,808l-0.3,4.1M256,806l-4.2,6.7M253,807l1.1,4.0M253,805l-3.2,4.2M250,805l-2.3,4.3M250,805l0.8,5.0M248,804l-7.0,3.1M245,804l-2.6,7.2M244,804l-2.2,3.6M244,804l-4.6,6.1M243,802l-4.3,3.5M243,801l-1.3,4.2M242,799l-6.5,5.7M239,799l-5.0,3.4M239,799l-5.9,1.8M237,797l-6.5,2.5M237,795l-5.5,1.6M235,795l-4.6,5.6M235,793l-6.4,4.2M234,792l-3.9,5.6M232,789l-0.8,8.1M232,789l-3.4,5.2M232,787l-6.0,5.2M229,786l-6.5,3.2M229,785l-6.5,0.9M227,783l-3.4,3.0M227,782l0.6,4.4M226,781l-6.9,2.8M224,781l-3.0,4.9M225,779l-4.0,-2.1M223,778l-6.9,5.3M225,776l-4.5,1.7M223,775l-8.2,0.3M222,774l-7.8,3.4M222,771l-4.1,5.1M221,769l-7.9,-2.2M221,768l-8.6,0.6M222,766l-8.3,1.7M220,764l-3.6,4.2M222,764l-7.0,1.4M220,762l-6.5,5.9M219,760l-4.6,1.1M219,758l-5.9,6.5M219,757l-5.9,2.7M219,755l-6.1,4.5M218,753l-5.0,2.9M218,752l-6.4,1.9M218,751l-6.0,3.5M217,749l-4.0,2.5M216,748l-9.0,0.1M216,747l-6.2,-0.5M215,744l-3.8,1.8M215,743l-5.4,-1.7M215,741l-6.7,2.3M216,741l-3.6,-6.4M214,738l-5.4,-2.3M216,736l-5.2,2.5M215,735l-3.1,-3.1M215,734l-6.6,-2.0M217,732l-5.1,0.5M216,732l-5.0,-0.6M215,729l-4.6,-2.4M217,728l-4.2,-1.2M217,726l-4.7,5.9M217,724l-8.1,0.4M217,723l-7.6,-2.9M216,721l-8.6,1.2M218,719l-8.5,1.6M218,718l-8.2,-0.1M217,716l-7.3,5.1M217,714l-4.2,-1.2M217,713l-8.8,-1.9M218,712l-6.4,0.5M218,710l-3.2,4.6M219,708l-8.3,-1.5M218,707l-7.0,-5.1M218,705l-5.9,-1.3M219,703l-4.7,-0.7M219,701l-8.1,-1.7M219,701l-7.4,0.4M219,700l-4.2,1.6M219,697l-7.7,2.0M221,695l-4.9,2.2M221,695l-3.9,4.8M220,694l-6.9,-5.1M220,692l-8.3,0.3M221,690l-8.7,0.1M223,689l-2.2,-3.6M221,687l-7.0,-0.8M223,686l-4.1,-3.6M223,684l-3.5,-2.0M225,682l-5.7,4.1M225,682l-1.3,-5.8M225,679l-5.3,-0.9M227,678l-5.3,-1.3M227,676l-6.9,2.3M228,676l-6.4,-4.7M229,673l-5.4,-3.4M230,673l-1.2,-5.3M230,670l-5.2,-0.9M230,670l-5.9,1.1M231,668l-6.8,-3.0M232,667l-5.3,-6.5M231,664l-6.5,1.9M233,663l-2.7,-5.3M233,661l-5.9,-4.3M235,661l-3.7,-2.9M236,658l-7.2,1.9M234,658l-0.7,-8.6M236,659l-4.0,-4.6M238,657l-4.2,-7.1M240,656l-6.5,-4.1M241,656l-0.5,-4.8M242,654l-4.6,-0.9M243,655l0.1,-4.6M244,653l-2.9,-3.7M247,652l-7.2,-4.4M248,651l-5.2,-4.9M250,652l-4.4,-2.7M250,649l-2.3,-6.4M252,648l-2.6,-3.3M253,648l-4.9,-5.2M256,647l-5.1,-3.1M255,648l1.1,-5.7M258,645l1.0,-4.3M259,644l1.0,-6.9M261,645l-1.8,-6.5M262,643l-0.8,-6.3M263,643l0.3,-4.5M266,643l0.2,-8.5M266,641l-5.6,-6.8M268,641l3.5,-7.4M268,640l-0.3,-5.4M270,640l0.9,-5.1M270,640l3.8,-7.0M272,641l1.4,-8.6M273,642l-2.1,-3.6M276,642l4.4,-7.3M278,641l2.2,-5.3M280,641l3.2,-3.6M280,642l-1.1,-5.2M282,643l-1.2,-7.9M283,642l1.7,-5.4M286,643l2.3,-7.6M287,643l0.6,-4.0M289,644l-5.1,-4.3M289,644l7.1,-3.2M291,644l-3.9,-2.9M292,645l-0.1,-7.1M294,645l3.9,-7.4M296,645l6.0,-6.4M297,646l4.2,-3.0M299,645l-0.5,-5.5M299,647l0.6,-4.7M301,648l6.2,-2.5M304,648l5.7,-4.6M305,649l6.2,-3.6M305,650l3.3,-2.9M307,651l0.3,-4.0M309,652l7.7,-3.4M309,652l5.1,-2.9M311,652l-2.0,-6.5M314,654l5.1,-4.8M313,654l6.5,1.8M316,655l1.2,-8.0M317,657l0.9,-6.1M317,657l6.1,-5.3M319,658l5.2,-5.5M319,660l7.5,-3.2M321,662l6.8,-5.6M322,661l2.6,-3.5M322,663l3.8,-3.8M324,664l7.2,-3.3M324,666l4.0,-3.7M326,667l4.8,0.7M328,669l5.4,-1.4M328,671l5.5,-1.4M329,671l6.2,-5.5M330,672l5.9,-2.9M331,675l2.5,-8.5M333,674l1.0,-4.4M333,676l3.3,-3.4M334,678l5.4,-6.3M338,680l-1.6,-7.8M341,680l-2.6,-3.4M341,678l-2.7,-7.4M344,679l5.2,-6.8M345,678l1.1,-6.7M347,677l-0.4,-4.2M348,678l1.8,-8.4M353,675l-4.5,-2.6M353,674l-6.0,1.7M353,671l-7.1,-0.4M353,669l-4.7,-2.3M353,668l-6.2,-2.7M355,666l-4.3,-4.3M355,666l-5.0,-5.6M356,663l-6.3,-1.2M356,661l-6.5,-2.8M356,661l-5.4,-3.1M356,659l-0.9,-5.0M357,656l-4.2,-0.3M356,655l-4.9,-1.7M357,653l-4.5,4.5M357,651l-6.9,3.0M357,649l-4.6,-0.7M356,647l-6.3,-3.0M356,646l-7.7,1.5M356,643l-5.1,-2.0M355,642l-3.5,2.4M356,641l-6.1,1.2M357,639l-3.2,5.0M355,637l-7.0,1.4M356,635l-2.5,4.0M356,635l-8.7,0.7M355,633l-7.6,0.2M355,630l-5.6,0.6M355,630l-4.8,1.7M354,629l-1.2,-5.4M355,628l-5.1,-3.2M356,625l-3.6,-6.9M357,625l-7.9,-3.4M357,622l-4.1,-0.3M358,623l-4.9,-2.9M358,620l-2.6,-5.5M360,618l-4.2,-5.6M360,617l-8.0,0.2M362,615l-7.7,-3.2M361,614l-4.4,-4.3M361,612l-3.5,-5.0M363,610l-5.5,-1.2M364,609l-4.2,-7.0M363,608l-6.3,-1.4M365,606l-7.6,1.3M366,606l-1.0,-6.1M367,604l-6.0,-3.2M367,602l-5.1,-1.2M367,601l-7.6,0.2M369,600l-3.7,-2.7M368,599l-5.0,3.7M369,596l-4.6,-5.9M369,594l-6.2,-2.6M372,595l-3.4,-4.4M372,592l-6.2,-0.2M373,592l-4.1,-4.5M374,590l-5.1,-6.2M376,590l-3.7,-2.0M376,588l-5.9,-0.0M377,587l-3.1,-3.3M377,585l-6.2,1.5M379,583l-2.2,-5.4M380,583l-4.9,-3.8M381,581l-6.1,-3.0M383,580l-2.6,-3.2M383,579l-4.9,-7.5M385,578l-5.3,-6.2M385,576l-6.2,-1.6M385,574l-0.3,-4.1M386,574l-5.7,-3.2M388,573l-2.2,-4.9M389,571l-8.4,-2.5M389,569l-2.6,-7.6M390,569l-2.0,-5.3M392,568l-3.4,-7.4M391,567l-5.7,-6.3M393,565l-3.1,-7.6M394,565l-5.2,-1.9M397,564l-3.6,-1.9M397,562l-5.7,-6.4M399,562l-2.3,-3.7M400,561l-1.7,-7.2M401,560l-6.5,-2.0M403,559l-2.1,-3.9M405,558l1.7,-7.0M405,556l-4.7,-7.0M407,555l0.1,-6.9M408,554l-5.4,-6.9M409,554l-4.2,-7.1M411,552l-8.7,-0.9M412,552l-6.5,0.0M413,552l-0.6,-4.6M415,550l-3.8,-7.8M416,548l0.8,-7.0M417,548l-4.6,-0.3M419,548l-6.4,-2.0M418,546l-3.7,-7.3M420,548l-2.0,-7.3M422,547l-0.5,-4.4M424,547l4.4,-4.2M424,546l0.5,-6.9M426,546l-1.4,-6.7M428,545l-4.3,-7.5M429,544l-1.7,-6.2M432,545l-2.3,-4.0M433,545l-0.9,-8.2M434,544l-3.5,-5.0M437,544l-1.8,-5.2M438,543l0.9,-6.2M439,544l1.7,-6.0M441,542l-2.0,-3.8M443,543l3.9,-5.3M444,542l-3.5,-5.1M448,540l-3.7,-1.7M449,539l-6.8,-3.3M450,538l-3.3,-8.1M451,537l-5.2,-1.4M451,537l-0.8,-8.6M452,535l-7.1,1.0M454,534l-3.8,-2.3M454,529l-4.7,4.4M455,526l-3.0,2.8M452,526l-4.3,1.3M452,525l-6.0,1.9M451,522l-0.8,4.6M450,520l-2.0,5.1M450,521l-6.7,3.6M449,519l-6.0,1.1M448,516l-3.6,6.2M447,516l0.1,8.8M446,513l-5.1,0.0M445,513l-4.6,1.2M445,511l3.3,6.3M444,509l-5.6,4.7M442,508l-7.6,2.9M442,509l-7.5,3.5M442,507l-2.9,-3.7M442,505l-4.0,4.1M441,503l-5.0,7.3M440,502l-3.9,6.9M441,500l-5.4,2.6M441,498l-5.1,-1.7M441,496l-5.1,4.0M439,495l-5.3,-1.7M440,493l-5.4,-5.6M439,491l-6.0,0.1" stroke="#a9a8ab" stroke-width="0.9" opacity="0.6"/><path d="M428,862l7.2,5.3M765,741l-4.3,4.3M579,720l4.8,1.9M713,742l-2.5,5.3M251,651l-6.1,-0.2M470,753l5.2,-0.8M644,585l-4.2,-3.1M398,597l5.5,-5.0M431,833l7.2,-1.6M595,381l-5.5,1.5M440,868l3.4,4.2M411,759l4.1,-2.2M323,845l-4.5,-0.1M353,725l-4.5,1.7M365,878l-2.7,8.1M362,870l4.1,3.1M650,674l-3.9,-7.4M405,615l8.1,3.5M574,658l-4.0,6.9M540,710l-4.0,-7.5M645,513l1.8,7.8M553,671l3.8,-8.0M593,548l2.6,3.9M619,411l-2.5,-3.7M639,574l3.7,-3.8M639,584l5.1,-5.9M226,763l-5.6,-1.4M646,608l-6.2,3.3M633,627l-3.6,-8.0M543,762l-1.9,-7.5M633,610l3.9,3.6M434,578l2.5,3.6M420,555l4.7,-5.6M454,820l-2.9,2.8M219,740l-7.0,-2.0M263,748l3.5,-5.4M277,795l5.7,2.7M677,620l4.8,2.0M645,535l7.2,1.3M339,802l8.0,0.7M582,408l3.2,7.6M290,704l-3.0,4.8M620,608l-1.3,4.4M428,747l-7.5,-2.3M588,760l-5.6,-0.6M586,608l3.6,-3.0M316,818l-8.0,3.5M485,833l-5.5,3.8M572,525l-7.3,-1.0M627,512l7.2,1.1M450,779l1.3,5.2M670,731l1.7,4.0M551,322l7.9,3.3M649,508l2.1,7.5M285,725l2.1,3.9M511,771l-6.8,-5.3M299,766l7.1,-2.3M588,370l-5.4,-5.6M370,626l-8.6,1.2M505,788l-8.1,0.5M559,819l3.3,5.1M240,768l-3.8,1.8M614,674l-0.2,-4.3M567,819l5.5,5.3M556,373l-3.0,-4.5M518,316l-1.9,7.2M690,738l-7.2,5.0M527,276l-3.0,-4.7M300,656l5.5,-1.8M568,520l-6.4,-4.7M620,519l5.4,0.0M296,722l7.3,-2.3M456,782l6.2,6.0M334,685l6.2,0.7M833,737l1.2,-8.7M359,740l8.5,-1.5M373,844l8.0,-2.3M570,716l7.8,3.0M446,783l-1.5,4.9M422,869l4.1,3.6M546,815l-0.4,5.3M521,488l2.1,8.1M802,736l-3.3,-4.1M518,275l-3.9,-3.7M259,677l-1.8,4.0M293,655l7.7,0.7M558,511l-4.9,-4.0M286,737l-0.7,4.5M757,752l-2.8,5.7M262,710l3.1,2.7M235,677l-2.5,-4.7M413,585l2.4,3.8M413,833l7.3,4.9M558,435l8.8,0.8M520,719l-4.4,7.2M561,772l0.9,-5.2M653,453l2.5,-3.4M629,459l-7.7,-3.7M269,659l3.9,2.8M550,508l-6.0,-5.4M276,693l-8.4,-0.7M583,673l-1.9,-5.3M573,484l-4.6,-2.7M683,690l4.2,6.7M629,672l6.7,-5.3M405,613l5.6,4.3M740,731l0.3,6.0M405,857l3.8,6.8M263,685l5.9,-6.4M388,840l-4.7,1.7M611,444l-4.4,7.8M803,751l-3.8,7.9M686,445l3.3,-6.8M574,708l6.4,-1.7M542,411l3.8,-8.1M287,784l4.1,-0.7M532,450l-4.1,4.1M463,748l3.7,-2.4M526,545l-6.3,-1.5M575,414l4.8,4.8M456,555l4.9,-1.1M308,696l6.2,1.9M533,529l-6.6,5.3M361,725l-4.4,6.1M585,692l-4.3,-0.2M386,875l5.6,1.7M683,417l3.5,-6.2M422,810l2.6,-3.5M557,543l-5.3,3.6M443,770l-2.7,3.4M644,713l-3.0,5.6M547,479l1.5,6.4M535,720l-3.3,4.4M632,699l-7.2,0.3M636,785l-0.3,4.7M623,518l7.3,1.7M639,670l0.8,6.0M537,390l-8.3,1.6M568,399l1.4,8.4M662,468l5.6,1.0M547,621l-8.0,2.7M708,692l-5.4,-6.2M590,624l4.8,2.8M532,664l-0.2,-4.9M516,304l-1.9,4.0M429,760l-6.0,-3.6M554,431l5.7,-2.3M703,708l-3.4,-3.4M622,656l-3.9,5.6M573,483l-7.9,-2.6M621,410l1.8,-7.2M514,376l4.4,-7.3M567,764l-5.3,0.2M530,492l-5.3,6.8M532,383l-6.4,-1.7M654,502l5.7,6.1M567,499l-6.8,-1.3M737,751l-2.0,7.2M540,353l-0.2,-6.4M747,732l1.2,4.2M382,862l4.2,-1.0M648,429l7.3,-2.8M552,518l-5.9,-4.5M628,374l6.9,-2.8M565,420l4.7,-0.0M537,552l-6.2,3.3M512,477l5.0,1.6M383,816l-3.5,-2.4M529,787l-7.2,-1.6M625,713l2.5,6.1M619,725l4.5,4.4M388,659l7.6,1.1M343,829l-1.7,-7.5M237,686l-5.4,-2.9M554,776l3.8,-1.2M588,344l-3.9,-6.4M263,789l5.4,6.0M566,675l-4.0,-4.8M598,422l-8.0,-2.4M602,430l-8.6,0.1M275,782l7.3,1.7M519,396l3.9,-4.2M582,727l5.5,3.2M377,674l1.7,3.9M413,759l8.1,-2.9M685,694l-0.5,8.0M582,499l-3.3,4.9M575,601l-3.7,-7.3M676,623l4.5,7.2M587,622l7.0,4.2M357,788l8.2,2.6M456,744l2.4,-4.4M537,797l-5.2,4.5M621,712l4.2,5.5M559,606l-5.4,-4.2M333,774l-1.4,-4.1M623,637l-6.7,-0.9M358,874l2.5,6.1M421,779l4.2,3.7M667,361l1.1,6.1M607,320l-3.3,-4.5M637,615l6.3,2.4M697,747l-6.6,3.0M584,701l-3.9,1.2M343,761l4.3,7.3M654,727l2.4,4.8M653,402l4.6,-2.0M352,694l-2.1,-3.8M374,777l-4.6,3.0M571,704l7.4,-4.4M425,544l4.2,-0.8M592,355l-3.8,-4.1M550,391l-3.7,2.2M516,704l-4.8,1.1M482,419l-0.8,-5.0M562,801l5.8,5.2M504,415l0.7,6.4M466,404l-4.1,0.3M687,721l-3.3,2.5M454,780l-0.7,8.1M444,746l-2.1,-6.0M483,746l4.3,-3.4M752,723l0.5,5.1M369,667l-1.7,6.3M575,715l8.6,0.6M413,616l3.2,2.8M606,564l-3.6,-6.7M523,310l-0.0,5.6M681,439l2.6,-8.1M560,706l2.1,-5.5M710,714l-6.3,-2.9M657,372l1.1,4.5M254,769l-6.6,-3.6M432,760l-4.9,-4.5M408,609l6.9,-1.7M594,375l-4.1,-0.9M564,530l-7.4,0.5M616,571l-1.8,-6.2M314,730l-3.7,-7.8M409,708l6.1,2.5M531,775l-6.1,-5.4M617,803l4.0,5.3M513,776l-2.7,-3.4M304,800l-7.6,2.5M425,788l-4.5,4.2M613,363l1.1,-5.5M669,614l3.8,3.0M279,686l-4.0,-0.2M478,409l-3.4,5.9M620,395l7.3,4.7M527,541l-3.9,1.9M549,457l4.1,7.5M643,561l-4.9,-2.0M610,749l1.9,-6.6M590,391l-2.8,3.5M509,381l4.4,-6.0M364,670l-1.0,4.7M551,506l-4.4,1.3M544,770l2.9,-5.0M458,816l-5.3,5.7M628,374l4.2,-2.1M556,775l6.2,-4.5M649,680l-0.5,-6.1M412,625l2.4,5.7M509,303l-4.9,3.2M552,815l1.3,5.9M562,605l-3.3,-4.4M614,744l3.9,-2.8M687,641l1.9,-3.5M397,783l1.9,5.5M468,388l-7.2,4.4M632,385l5.9,3.1M575,351l0.9,-6.5M511,318l-4.7,3.1M558,733l-2.7,3.1M626,636l-4.1,1.4M675,589l2.8,-7.4M421,544l5.3,-3.6M371,804l-4.2,-1.5M333,743l-4.2,-0.2M561,680l5.4,-5.0M534,387l-7.0,-1.8M652,417l2.4,-6.9M229,776l-6.7,2.8M519,795l-7.3,1.5M451,539l5.0,-4.3M368,838l4.8,-3.7M460,803l-6.8,-0.1M589,353l-6.5,-1.6M378,743l-5.6,-4.1M580,552l2.3,6.4M695,703l-8.4,-1.7M579,552l-3.3,6.9M524,341l-4.5,6.2M598,546l3.9,5.6M401,859l4.4,6.2M655,539l1.0,-7.7M291,688l-8.0,-4.0M579,493l-5.4,-0.9M640,672l-3.7,-5.3M525,831l5.1,-3.4M531,528l-6.7,-2.3M623,650l-6.7,5.2M629,617l1.9,3.6M568,519l-8.5,-2.3M258,659l-6.5,1.8M609,443l-6.5,0.3M354,708l-4.6,3.3M327,861l-2.3,7.1M331,765l-2.3,4.1M553,732l-2.0,8.4M661,654l3.2,4.6M437,822l3.9,-1.1M538,731l-2.2,8.3M222,708l-5.3,-0.6M593,794l-2.2,4.6M342,832l-6.5,0.2M640,661l3.7,5.8M560,803l6.7,0.1M628,448l4.4,6.2M554,445l2.4,3.9M325,754l-5.2,5.7M492,821l-3.1,-2.8M425,654l4.1,0.2M257,724l-6.7,1.0M626,366l2.4,-4.3M565,325l5.6,6.7M324,776l-4.1,-5.9M399,799l-0.2,-4.7M631,381l5.2,3.1M611,629l-2.2,4.0M710,693l-3.8,-3.5M678,738l3.9,-3.0M291,766l8.0,0.3M357,793l8.3,-0.1M371,602l-3.0,-6.2M537,467l-0.9,4.8M741,745l-5.1,6.9M646,503l1.2,4.0M698,706l-4.5,-2.4M439,816l-7.1,1.3M248,727l0.2,7.3M340,845l-6.6,-1.7M591,611l5.9,-3.7M675,425l2.7,-6.2M605,434l-4.6,-0.3M353,677l1.2,8.0M486,364l-1.0,-8.4M639,728l-5.1,4.6M568,798l5.9,3.0M647,361l-2.5,6.6M753,716l4.2,-5.4M609,554l7.3,4.8M534,465l-0.5,5.7M541,564l-1.0,7.2M800,733l-4.3,-6.2M379,804l-3.5,-6.4M413,621l8.4,-0.4M541,484l-3.9,4.6M578,378l4.1,-2.0M603,441l-3.7,3.0M567,799l5.4,2.8M559,317l1.7,8.4M369,637l-3.4,-6.9M654,656l5.0,6.9M669,589l5.4,-5.9M690,684l4.9,2.9M269,790l3.5,3.1M310,753l-4.1,0.2M339,773l1.3,6.6M291,733l2.6,5.8M394,856l-5.4,6.7M673,617l5.7,6.5M611,535l4.2,2.2M552,832l4.0,6.2M588,812l-3.0,4.4M420,786l2.6,6.5M631,401l3.8,2.4M583,810l5.0,6.4M469,392l-4.4,-0.7M469,863l-8.1,3.2M644,399l8.4,2.2M568,334l1.5,-7.4M253,768l-3.0,-7.9M526,509l-4.7,1.8M660,758l5.2,-5.1M688,669l2.3,-5.0M530,548l-4.4,1.0M323,722l-2.3,-3.5M579,583l-2.7,-8.1M734,749l-2.6,6.0M363,731l-3.3,2.5M422,628l8.1,3.1M553,449l2.3,3.6M637,583l1.8,-8.5M497,723l-4.7,4.8M234,708l-2.8,3.9M635,464l-6.0,-3.3M577,356l2.9,-2.8M799,722l-5.1,-6.4M580,403l2.9,2.8M633,612l3.1,3.5M617,319l-4.1,-1.9M399,730l5.5,4.6M436,741l-2.4,-3.4M456,436l-6.5,-2.1M316,781l-2.4,-4.5M629,717l-4.1,2.2M403,623l8.3,0.7M527,476l0.3,4.7M365,851l5.2,1.1M323,663l3.0,-3.7M423,605l7.2,2.9M529,489l0.5,6.2M593,594l-6.9,-2.6M635,791l-5.6,5.3M368,673l0.3,8.6M573,365l1.7,-5.7M328,766l-5.6,6.6M485,367l-1.7,-6.3M536,720l-4.4,-0.0M488,415l-2.7,4.2M350,739l2.6,-4.7M579,387l3.4,2.1M423,612l5.3,-1.1M319,701l3.5,6.5M658,559l-1.0,-6.6M383,638l2.4,-3.4M454,806l-5.1,1.2M546,686l2.5,-3.1M407,680l1.3,-5.9M525,408l-6.5,-5.7M313,835l-4.4,-2.4M532,536l-8.1,1.8M268,692l7.0,1.1M469,418l-1.9,-3.8M414,727l3.9,-5.4M338,869l-2.8,6.9M677,739l4.3,0.4M534,516l-3.4,-4.9M572,561l-5.1,5.4M614,365l0.2,-5.3M218,711l-5.0,2.4M614,523l4.2,3.4M617,745l3.4,-2.1M631,737l-4.9,-5.2M567,704l7.3,-3.1M393,848l-0.6,7.5M515,455l-3.2,3.1M542,366l-4.9,-5.7M599,368l-4.9,-2.8M294,805l-8.2,-0.9M243,672l2.1,-4.2M238,800l-4.3,7.4M254,781l0.6,4.2M399,681l5.7,-2.4M517,475l-1.1,8.7M611,765l4.5,1.3M665,477l4.2,5.6M557,568l-6.5,5.0M470,820l-0.7,4.9M515,817l6.7,-4.4M632,324l-2.4,-5.3M447,794l-5.8,-0.4M293,807l-7.1,-0.5M720,705l-3.7,-4.7M611,567l-1.8,-4.5M367,739l3.4,7.6M293,694l-4.4,3.4M577,442l6.7,-3.7M603,651l-5.7,-1.6M655,637l7.8,2.4M408,600l5.2,-0.8M583,749l-6.4,0.8M528,396l4.3,-0.3M525,848l4.4,1.0M238,707l-2.5,3.4M552,709l-7.8,-2.0M785,762l-2.6,3.8M660,556l2.1,-5.4M337,758l3.2,4.0M659,414l4.3,-2.5M575,640l-0.9,5.4M488,779l5.7,-5.0M555,693l-3.2,-5.6M599,743l-1.5,-7.2M534,642l-5.9,6.3M548,337l2.3,7.5M672,369l4.2,6.3M545,560l-4.9,5.4M390,696l2.7,-3.7M548,546l-3.7,2.1M550,765l1.4,-5.4M645,426l7.8,1.1M633,371l7.7,-1.5M463,418l-6.6,-1.9M571,444l7.7,-0.6M267,650l0.3,-7.6M435,773l-4.2,2.6M775,714l-2.5,-5.6M612,745l1.6,-4.4M324,702l6.5,0.6M549,292l6.1,2.9M245,735l2.1,6.7M574,633l-0.0,8.5M649,668l-6.1,-1.1M280,797l5.2,7.2M691,741l-6.2,5.9M235,760l-4.8,-0.7M485,762l6.6,-1.6M637,764l-5.9,5.0M623,489l4.6,0.7M325,745l-8.4,1.7M428,735l-4.8,-4.9M632,686l7.6,1.4M300,839l-3.7,3.4M505,808l0.8,-4.8M635,765l-5.9,4.6M455,785l3.9,4.0M339,825l-2.7,-6.0M404,685l2.5,-3.3M641,444l4.0,0.9M592,791l-1.3,3.8M236,684l-1.1,-4.8M403,784l1.7,5.7M640,322l-5.9,-1.2M531,662l-0.9,-4.6M481,375l-6.4,-3.0M538,684l1.9,-7.3M623,487l7.1,-4.8M580,458l-7.3,-4.6M770,711l-2.4,-4.5M396,613l6.1,-0.6M561,757l-6.5,-3.6M558,514l-4.5,-5.0M514,315l-3.8,7.0M390,589l-4.4,7.9M530,291l-2.6,6.6M582,457l-3.8,-2.4M597,720l-1.1,8.4M678,377l3.1,3.0M563,557l-2.7,3.9M601,666l-4.4,-6.3M388,860l-2.0,5.6M353,876l-2.1,6.6M333,867l-4.7,2.2M308,754l-4.2,1.4M266,778l-0.4,8.4M519,310l-2.3,4.1M730,734l1.2,3.9M666,690l-5.2,4.9M396,687l3.1,-4.7M569,728l6.3,1.2M669,719l4.3,4.7M572,512l-2.9,-6.3M814,770l-3.5,2.8M325,737l-7.0,-4.8M531,352l-3.5,-4.0M648,443l-1.1,-4.1M353,700l-5.8,-5.0M407,598l3.3,-6.4M668,466l7.0,-1.2M399,864l2.0,3.9M279,758l4.0,-2.1M438,573l6.7,4.0M631,396l4.1,3.4M584,722l3.7,2.0M289,674l-4.9,-2.9M667,643l4.3,-1.3M511,709l-5.0,6.1M371,839l6.7,-2.1M315,680l7.4,-5.0M586,655l2.4,6.8M444,805l-7.1,1.7M437,865l1.7,5.5M550,725l-2.6,7.5M236,695l-3.8,-2.3M603,430l-4.4,-1.5M674,492l5.6,5.4M449,741l3.1,-7.0M598,719l0.4,4.1M669,615l2.4,3.5M665,676l-4.5,0.8M606,702l7.2,4.7M388,657l7.4,0.6M556,813l5.0,2.8M343,695l-4.6,-2.2M600,639l5.4,1.3M535,650l2.4,-4.6M440,461l-4.4,4.2M329,700l6.0,-2.2M672,378l0.1,7.1M661,633l3.6,-1.9M630,541l3.8,1.3M684,654l1.6,-6.7M398,823l-4.0,-3.1M667,703l6.8,2.3M644,342l-3.6,1.9M691,707l4.1,3.5M625,373l4.1,-0.7M827,748l-5.3,-1.5M286,642l4.7,-5.3M438,869l4.7,5.8M548,697l5.9,1.9M323,782l-0.6,-4.1M302,750l2.9,6.3M652,684l4.4,-5.0M267,789l0.8,6.8M732,735l-3.2,7.8M563,600l-4.7,-3.0M583,807l6.1,3.2M525,366l2.0,-4.2M582,460l1.9,-6.2M401,697l4.4,-2.7M592,651l3.3,2.7M769,722l-6.8,-2.7M495,712l-5.8,4.2M679,747l7.5,-3.4M600,423l-6.5,-3.4M420,789l1.7,6.9M625,656l-5.5,2.8M712,696l-6.7,-3.4M251,679l-0.5,-6.8M362,775l-8.1,2.8M641,775l-2.9,8.4M430,563l5.5,-2.7M681,438l3.3,-2.8M367,814l-6.6,-1.6M511,744l-2.0,-8.4M418,859l4.5,7.3M356,711l-4.3,-0.9M633,495l-3.0,5.7M325,701l6.5,1.0M535,766l-1.0,-4.6M557,635l-5.9,3.2M653,451l0.9,-4.3M646,451l-2.3,-3.7M608,688l-4.5,1.2M645,351l-4.1,3.5M609,398l1.7,8.1M576,336l1.2,-4.4M513,849l4.1,7.8M579,377l6.4,-1.4M415,580l2.1,6.9M579,740l-6.7,-2.2M313,763l-4.6,1.7M525,487l0.9,4.0M553,479l-5.2,-3.0M539,653l-0.5,-8.9M669,616l2.0,6.4M516,409l4.3,5.9M514,543l-5.8,1.9M294,735l4.3,3.7M641,634l-0.8,-6.5M366,861l4.2,4.1M326,780l1.3,-4.6M540,659l4.2,-7.8M622,471l-5.6,-1.1M590,799l-0.7,4.8M505,298l-8.0,3.6M804,759l-1.7,4.0M615,619l-1.3,4.5M665,711l6.4,5.0M460,860l-5.5,3.9M417,764l6.8,-1.6M331,867l-5.1,7.2M418,565l4.1,-2.8M240,687l-2.6,-6.5M595,814l-1.3,4.4M419,800l1.5,-3.9M263,744l1.9,-7.4M346,822l0.0,-4.2M265,676l-2.8,4.4M751,758l-2.7,8.3M273,768l7.0,-0.2M285,671l6.0,3.2M617,780l3.7,6.2M678,472l7.7,-3.5M636,443l3.6,2.6M843,745l4.9,0.2M486,396l-6.3,0.0M531,306l-1.2,5.4M621,399l1.0,8.6M235,659l-4.0,-0.7M593,364l-3.8,-1.3M507,430l6.0,-2.4M369,688l-2.7,-3.9M451,770l4.6,6.0M510,372l1.7,-7.3M643,587l-6.1,-4.9M299,671l-1.6,-6.9M225,703l-5.0,0.5M550,376l-8.1,-2.3M441,583l5.5,2.1M501,779l3.4,-3.8M560,347l-4.5,-3.4M623,544l2.9,3.5M424,727l-4.1,-7.5M285,706l-1.7,-5.8M497,708l-6.6,5.0M440,592l6.6,3.8M630,579l1.8,-3.9M481,801l6.7,-1.9M827,734l-0.6,-5.9M351,804l5.5,-3.6M597,722l2.1,8.0M657,622l-1.4,4.0M465,421l-5.0,-3.2M307,675l-0.5,-6.2M639,628l-0.2,-7.5M634,571l0.0,-8.6M547,413l4.9,-4.4M537,283l1.8,-6.8M523,423l-6.4,-2.3M615,320l-3.4,-4.1M442,862l4.6,7.5M754,703l1.7,-5.6M404,784l3.7,4.5M488,399l-3.9,1.6M366,863l4.0,4.7M575,495l-4.5,0.2M617,522l7.0,2.4M303,765l-5.3,0.3M594,812l-2.5,6.8M227,720l-5.9,4.9M340,760l1.8,6.2M232,783l-8.4,3.1M382,860l6.7,0.9M515,474l2.2,5.5M671,420l5.2,0.3M647,730l-2.4,3.9M260,787l3.5,6.9M411,663l5.1,2.2M456,437l-5.7,1.3M332,773l0.4,-5.2M539,847l4.2,4.8M412,850l1.6,4.8M609,593l-6.1,-5.4M615,346l0.0,-5.8M341,852l-8.0,0.9M662,411l7.5,-4.8M636,554l0.5,-5.4M523,437l-8.1,0.7M336,700l4.3,1.0M658,746l5.8,-2.8M745,747l-0.9,6.9M523,680l-7.3,-4.0M558,360l-3.9,-5.0M613,478l7.3,-2.6M427,834l4.5,-0.1M397,645l5.5,1.6M417,810l4.9,-6.6M818,749l-8.9,-0.1M369,872l2.4,4.3M365,847l4.8,0.2M455,833l-0.5,4.0M741,737l-2.8,5.1M605,624l-2.9,3.5M664,549l0.2,-5.0M616,661l-0.5,-7.9M536,681l1.8,-6.8M556,765l3.0,-4.2M333,708l5.9,6.0M547,474l0.2,4.8M554,500l-5.2,-6.4M616,445l-2.1,3.7M464,430l-4.6,2.1M608,571l-2.9,-5.5M642,360l-2.4,5.7M545,401l-4.1,3.1M653,388l5.3,2.8M537,492l-6.9,-1.6M419,851l5.6,1.7M497,376l2.3,-5.5M614,553l2.3,3.8M552,737l-0.3,6.6M517,432l-7.1,4.2M620,736l-1.1,-6.5M506,363l5.5,-6.8M439,550l3.7,-4.7M333,771l-0.5,6.9M516,328l-3.7,6.2M656,372l1.5,4.0M458,561l6.8,-2.6M600,325l-1.5,-6.1M642,322l-0.5,-4.0M595,351l-3.8,-1.4M393,680l5.5,6.6M263,769l6.9,-4.2M431,618l6.5,1.3M564,737l0.2,6.3M359,866l4.9,1.6M559,436l6.5,2.6M567,651l-2.9,4.2M646,492l-1.0,4.9M398,603l3.7,-2.3M455,864l-2.8,3.7M319,828l-2.8,2.9M602,455l-2.9,7.8M589,804l-2.1,7.9M264,756l4.2,-2.1M628,565l-0.5,-4.9M339,783l4.5,-4.4M568,663l-0.0,7.9M522,839l6.7,0.8M645,721l1.8,3.9M411,749l4.8,-7.0M533,380l-7.4,-1.5M515,787l-4.6,0.8M645,530l-1.9,8.6M571,416l-0.4,5.5M668,708l6.6,-1.2M345,700l-6.8,-1.5M410,692l4.4,-3.2M515,393l7.7,-4.5M557,809l3.6,5.1M545,655l2.5,-3.4M396,597l4.5,-7.3M253,805l2.2,5.5M360,781l8.1,1.7M678,378l1.3,4.2M674,727l3.6,2.9M737,704l4.3,-3.9M499,358l-2.3,-8.7M375,632l2.2,-6.1M675,678l3.6,-7.2M463,425l-3.4,-5.5M564,597l-3.6,-5.8M413,605l2.6,-3.2M557,478l-5.3,-2.2M644,686l-2.1,-5.6M243,793l-2.4,4.6M719,700l-2.2,-3.9M378,876l7.1,1.9M575,489l-8.1,3.6M537,342l-5.4,-6.0M477,370l-2.5,-3.8M394,795l-1.1,4.7M502,545l-5.9,2.3M441,576l7.0,-0.1M633,488l-7.5,1.6M612,362l-3.8,-7.8M641,533l6.2,1.8M595,387l-4.3,0.8M523,359l4.4,-5.7M555,310l5.8,4.3M674,609l4.5,1.2M623,792l-1.6,6.9M225,745l-8.0,1.2M421,846l6.2,4.5M623,509l4.4,1.8M392,594l0.8,-6.4M330,761l-3.9,5.8M368,787l-5.0,2.0M653,402l5.5,-5.8M269,811l1.7,5.3M646,662l1.4,6.3M532,413l-2.1,-3.6M390,878l1.4,8.5M408,619l4.0,0.2M263,778l0.6,4.9M510,448l7.1,-1.7M648,454l1.2,-8.8M484,746l5.6,-2.5M464,823l-4.6,7.4M438,805l-4.6,-0.8M595,730l-2.0,4.0M648,480l-1.6,6.0M500,739l-3.2,7.9M458,407l-2.3,-5.0M276,668l3.5,4.1M427,776l-5.8,4.3M598,797l-1.8,4.6M442,743l-0.7,-4.7M547,311l3.7,3.6M673,664l-3.1,-5.4M553,811l2.8,4.3M383,644l6.1,0.5M440,598l7.0,-0.6M282,641l2.2,-6.8M306,850l-8.4,0.1M266,728l-4.0,2.1M608,579l-4.0,-5.5M642,426l5.1,-2.1M553,699l-4.3,-5.1M522,853l6.9,4.4M411,808l4.0,-5.8M382,794l-1.6,4.6M544,746l-2.1,7.3M245,702l-6.5,4.4M545,753l0.4,-8.7M515,854l4.7,6.0M735,725l-5.2,2.1M271,775l7.0,-1.1M573,447l4.3,1.5M621,671l3.2,-3.1M556,819l0.9,8.9M476,750l5.7,-5.3M737,718l-5.0,-0.8M469,375l-2.6,-5.7M612,618l-1.2,4.2M518,347l2.7,-6.8M596,648l5.7,4.0M432,851l5.5,1.8M638,387l6.2,5.1M574,648l-0.6,5.1M385,873l5.5,6.2M249,738l-3.6,-5.6M500,834l1.4,-4.9M365,820l2.9,-6.2M584,675l-2.2,-4.6M593,600l-7.1,2.3M482,764l7.6,2.0M639,745l-0.4,-8.9M361,776l3.8,6.2M405,728l4.8,5.8M361,684l-1.9,-6.1M403,856l-2.1,5.1M380,752l-4.2,-3.8M683,467l7.2,-1.4M372,729l-0.9,6.3M420,611l5.7,0.5M434,826l4.8,-5.3M660,617l1.5,4.1M600,381l-7.3,1.4M408,716l6.6,1.1M532,756l-1.3,-5.7M390,780l-3.6,7.4M356,713l-7.5,-2.4M614,673l3.2,-5.0M539,823l-2.0,4.4M561,603l-6.0,-5.3M656,429l5.3,1.0M519,398l8.5,1.4M543,397l-4.6,1.0M402,590l-0.5,4.5M283,749l1.9,3.6M424,840l6.7,1.2M516,326l-2.2,7.6M499,820l4.8,-4.2M554,491l-7.2,-1.9M371,758l-8.2,1.6M662,727l4.9,7.3M570,702l3.2,-3.8M312,767l-8.0,3.1M527,765l-0.3,-4.4M401,636l3.0,3.6M604,807l0.8,4.2M224,685l-3.7,-2.8M505,374l0.8,-4.9M642,338l-4.8,1.6M569,538l-4.7,2.9M682,733l5.5,1.3M602,334l0.1,-7.1M373,687l2.0,-5.1M369,831l4.7,-0.8M659,665l-3.9,-2.9M649,341l-4.3,2.1M519,701l-5.0,1.9M660,492l3.0,8.4M320,851l-3.3,4.0M518,480l-6.2,5.1M546,786l3.1,-4.7M565,338l-1.3,-6.0M528,358l-2.5,-3.1M508,748l-1.7,-4.9M381,794l-0.7,4.5M454,424l-6.0,-0.8M467,405l-5.3,0.5M673,404l8.2,-2.6M541,564l-6.3,2.9M612,543l7.6,3.3M319,724l-7.6,-1.6M629,459l-5.2,-4.4M656,353l1.8,7.3M660,456l3.2,-3.9M626,436l2.9,8.2M509,848l4.4,4.4M547,348l-3.2,-3.9M552,764l4.8,-6.6M505,427l7.2,-4.3M556,736l-1.6,5.9M667,635l5.8,-2.5M290,768l8.2,1.7M269,766l3.5,-3.5M451,567l7.2,-3.6M723,752l0.4,4.9M312,844l-5.3,-0.5M594,633l3.8,3.2M603,514l3.5,-2.4M644,776l-3.3,3.7M422,649l3.6,4.0M564,789l8.3,0.7M579,711l5.6,-3.3M600,747l-1.4,-7.3M571,360l2.7,-8.1M442,856l6.5,3.0M788,752l-4.5,4.8M652,579l-2.1,-6.3M438,615l6.4,3.4M392,799l0.4,-5.7M692,689l8.3,2.4M603,353l-0.9,-7.3M531,549l-3.8,1.6M591,594l-4.0,-2.3M509,413l1.6,6.4M415,619l2.0,6.3M316,830l-4.5,3.8M542,326l-0.6,7.8M596,474l-2.7,-5.8M570,672l-3.3,-5.7M355,869l1.9,4.2M535,358l-5.8,-5.9M706,740l-4.1,5.4M840,752l5.0,-1.7M612,715l-0.9,5.3M413,706l5.6,-3.9M546,304l4.8,5.9M719,742l-2.6,6.5M469,808l-1.6,6.5M557,339l-2.5,-4.5M447,541l7.1,-2.1M582,703l-5.7,6.3M599,360l-3.1,-7.2M679,622l6.5,6.1M649,764l6.4,3.0M293,706l-0.1,7.7M746,734l-3.1,4.5M509,718l-4.6,5.2M668,566l-0.7,-5.3M518,849l4.0,5.5M422,769l7.4,1.2M369,815l-3.9,-3.4M507,750l-3.8,-8.0M607,580l-3.9,-7.6M591,600l2.4,-3.8M586,430l-6.3,0.3M292,808l-5.2,3.9M628,638l-8.9,0.0M446,452l-3.2,3.8M503,433l7.2,-3.6M307,822l-2.7,4.9M500,817l1.6,-8.5M553,423l3.9,-7.1M595,561l-0.4,7.8M369,625l-3.2,6.3M370,798l7.8,0.1M659,437l3.6,-7.1M629,732l-6.9,-5.5M599,357l-3.3,-4.5M580,491l-5.9,-1.9M618,444l0.9,4.6M389,875l-3.6,2.5M678,444l3.4,-2.4M606,607l-6.1,0.4M346,764l3.7,4.3M562,633l-4.2,5.1M566,750l1.2,8.4M257,673l-2.0,4.3M593,347l-3.6,-4.2M622,509l5.6,6.5M582,469l-6.9,-4.7M530,460l0.9,4.9M396,560l-0.4,-7.0M292,656l6.8,2.0M710,713l-7.1,2.7M310,674l5.2,-4.6M563,635l-2.3,5.3M346,709l-3.9,-1.9M685,659l-0.3,-6.4M624,596l4.0,-4.2M474,822l-1.4,6.1M428,801l3.4,-3.9M501,364l1.1,-4.0M512,375l4.0,-5.9M627,400l8.1,2.0M595,371l-8.7,-1.3M504,311l-2.7,3.2M705,737l-4.4,4.2M492,364l-3.2,-7.2M640,454l-2.2,-7.8M353,784l4.4,-1.3M574,616l-0.2,-8.7M595,676l-3.4,-6.8M403,588l-2.2,4.7M560,534l-4.5,-1.1M632,652l-1.1,4.0M706,735l-4.3,7.3M556,543l-7.6,-0.1M578,472l-6.3,-1.8M708,731l-3.7,3.1M674,418l7.3,-1.2M595,560l2.7,3.0M395,700l4.5,-1.0M560,762l5.4,-5.1M592,601l2.0,-3.6M441,564l6.8,1.0M780,761l-7.9,2.7M521,839l7.2,-4.6M464,392l-5.4,-2.8M595,350l-3.7,-2.7M586,611l5.3,-2.3M561,741l-3.2,8.0M607,528l4.2,1.9M274,655l7.1,-1.7M388,649l6.3,1.9M678,597l6.1,1.7M433,858l6.1,1.7M334,754l-5.1,5.6M365,808l7.0,-1.5M717,705l-6.2,-2.8M621,670l3.5,-6.9M567,729l2.6,8.0M632,786l-3.9,7.8M458,539l3.0,-6.5M553,619l-4.7,-0.7M437,865l4.5,6.1M247,776l-5.8,3.9M298,768l4.3,0.8M701,730l-5.9,6.1M625,673l7.7,-3.6M528,342l-0.8,5.5M394,723l4.3,3.0M661,377l1.0,7.9M575,803l4.9,3.1M638,582l4.3,-1.8M271,668l3.8,8.2M591,453l-6.8,4.0M554,594l-5.0,-4.6M453,809l-7.7,0.8M538,347l-5.9,-6.0M611,623l-0.5,7.2M662,510l-0.2,6.5M469,805l-2.6,7.4M264,743l-5.4,6.5M343,872l1.1,8.9M683,690l4.9,0.5M482,396l-3.9,1.8M481,741l4.1,-1.7M533,456l-2.0,5.2M241,796l-5.5,4.1M676,440l5.0,-1.5M645,605l-8.9,0.7M610,746l2.0,-5.6M515,830l4.2,0.8M615,754l4.8,-1.2M427,803l4.5,-4.4M660,729l1.4,7.2M751,727l0.6,5.5M329,790l-2.0,-6.6M596,597l-7.3,3.9M520,708l-2.6,3.6M445,591l6.5,3.6M655,725l4.9,3.5M232,772l-7.1,-4.2M667,586l0.2,-7.3M535,699l4.7,6.1M406,650l5.1,-1.6M436,600l6.5,2.0M504,371l-0.2,-8.6M396,851l-0.1,4.8M334,727l-5.9,-3.4M480,766l4.2,-3.0M354,793l4.7,-0.2M442,593l3.6,4.4M616,404l4.5,6.6M243,791l-4.1,6.4M484,803l6.1,2.7M266,774l8.9,1.3M628,514l-0.7,7.4M308,772l-3.4,-2.2M540,526l-5.4,-0.0M582,419l-1.7,6.4M537,308l3.1,2.7M569,738l4.1,4.6M435,855l7.5,1.5M386,756l-2.2,-4.4M586,805l-3.0,6.9M393,772l-5.2,6.9M424,645l5.6,5.4M637,689l-6.6,-0.9M636,716l-5.3,4.6M286,668l3.6,4.6M657,635l4.5,-0.7M523,810l-4.1,3.2M746,708l0.1,-6.0M515,759l-6.1,0.1M676,674l5.2,-4.1M751,706l2.3,-5.8M228,788l-3.7,2.0M708,724l-0.5,6.9M357,635l-1.3,-5.7M300,734l7.6,4.4M597,666l-3.4,-7.4M637,446l5.9,-0.5M409,708l8.1,-2.5M541,374l-8.7,0.0M604,670l0.5,-6.4M599,621l6.0,0.2M754,756l-4.2,6.0M626,361l3.8,-3.4M551,467l2.5,5.0M556,407l-1.7,3.7M270,654l6.8,-3.1M281,703l1.0,-5.6M569,380l6.4,-3.9M458,759l3.5,-2.5M561,798l7.4,-0.1M641,464l-2.3,-4.7M648,398l6.5,4.0M538,487l-6.0,1.3M630,693l4.0,0.6M510,312l-3.3,8.2M582,771l-4.2,1.5M529,652l-0.8,-7.7M678,468l7.5,-2.8M616,359l3.0,-6.1M408,860l-1.7,8.3M653,470l7.4,-0.5M307,801l-5.3,-4.0M451,738l2.7,-8.6M669,389l5.8,6.3M402,720l6.6,-0.5M465,781l-2.5,-6.3M657,575l0.3,-9.0M409,637l2.7,4.2M660,362l0.8,6.0M652,719l3.7,7.4M497,416l-4.3,6.3M553,553l-3.1,3.0M806,767l1.2,4.6M457,805l-4.8,1.4M540,847l6.3,0.5M400,729l3.9,2.4M351,754l5.3,3.8M658,419l3.6,-2.5M490,781l3.2,-6.8M446,435l-5.0,-1.0M576,333l3.8,-5.8M363,864l4.6,2.2M296,676l-0.5,-8.0M419,749l5.4,-5.7M380,871l5.3,1.0M541,361l-5.2,-5.8M422,768l4.5,4.2M357,731l5.8,-1.5M794,750l-3.8,8.0M656,495l0.8,4.3M436,746l-3.5,-6.7M453,757l3.5,-8.3M638,776l-0.8,5.1M520,486l-5.9,3.8M322,844l-7.7,-1.5M568,528l-4.6,-2.2M675,698l-1.8,7.8M305,838l-5.0,2.3M455,808l-5.2,7.3M325,724l-4.4,-5.5M298,651l4.9,-0.9M512,696l-6.7,5.1M440,581l7.0,4.8M397,751l2.6,-7.8M638,683l-6.5,-4.1M323,722l-2.4,-5.0M620,801l2.8,6.4M495,730l-1.6,6.7M487,404l-5.6,5.2M424,615l7.8,-1.0M561,662l1.3,-8.3M648,780l0.8,7.1M328,722l-3.1,-7.0M504,544l-4.0,0.1M519,433l-4.8,0.6M520,347l4.3,-6.3M377,815l-6.8,2.8M292,748l2.2,5.1M447,855l3.6,2.6M343,814l3.8,3.8M670,729l5.3,5.6M425,661l6.1,2.3M692,743l-2.6,3.2M540,755l-0.1,-6.0M802,745l-3.1,5.7M644,483l-0.1,6.5M311,853l-5.6,1.9M501,430l6.1,-3.4M767,740l-6.7,2.8M260,752l1.8,-4.0M576,337l-1.3,-6.5M420,753l3.1,-5.0M316,857l-8.0,1.3M767,765l-1.0,4.3M475,827l-6.5,-1.2M589,587l-7.1,-5.5M616,481l3.9,-3.2M467,387l-5.1,-1.3M633,460l-5.8,-5.1M520,427l-5.6,-2.9M407,554l3.5,-6.7M258,797l-1.5,7.0M217,694l-5.1,4.7M430,826l4.1,-0.2M627,606l3.8,2.9M407,852l5.2,4.4M658,369l-2.3,5.8M552,382l-7.5,-3.5M538,817l-0.8,4.9M283,684l-7.3,-3.0M686,439l5.2,-5.3M445,777l-1.5,4.1M613,717l2.8,4.0M615,495l4.2,4.7M294,786l-6.8,-5.7M275,782l7.3,2.0M614,425l-4.0,-3.0M461,761l6.7,-3.1M625,641l-6.3,-0.4M834,740l-1.4,-4.6M302,770l-2.6,-3.7M227,743l-2.9,-5.2M379,668l3.5,7.8M762,752l-1.7,6.6M546,378l-5.5,-0.8M364,726l-2.6,5.0M813,724l2.1,-6.7M503,720l-4.4,6.0M233,778l-7.5,-4.2M505,352l-1.6,-3.9M381,806l-4.1,-3.1M622,592l0.7,-7.1M600,429l-3.7,-2.6M447,563l4.2,0.4M652,511l-1.2,7.5M447,751l-0.1,-6.7M658,398l3.3,-8.0M434,849l6.5,5.6M612,682l3.2,-5.0M424,584l5.2,4.0M618,668l6.2,-5.4M574,394l4.4,3.7M455,436l-5.4,-0.2M465,767l6.8,2.2M332,761l-1.3,6.3M604,647l-4.3,0.6M533,482l-1.6,6.2M616,413l-1.3,-5.3M639,336l-5.3,1.0M622,701l3.8,7.5M540,411l1.0,-7.2M358,737l2.6,-6.2M496,423l3.3,-5.3M518,332l-1.5,4.2M579,775l-4.2,6.2M356,867l2.9,4.4M325,853l-4.8,0.3M647,686l2.9,-7.7M768,765l-0.5,5.8M532,793l-5.8,2.3M619,444l1.3,7.1M744,739l1.5,7.0M549,766l-1.8,-4.5M637,713l-5.4,5.0M468,388l-4.1,-1.2M640,730l-1.2,-8.1M474,758l8.1,-1.7M564,437l8.4,2.2M273,680l0.5,4.9M360,821l3.9,-7.7M552,399l-7.2,3.2M364,632l0.0,-4.2M550,530l-7.2,0.9M527,544l-5.2,6.5M654,770l6.3,-0.2M537,743l-2.7,3.2M474,411l0.1,-7.7M297,736l4.3,4.1M432,733l-4.6,-5.6M494,739l5.7,-3.5M370,759l-7.0,-4.9M571,673l-6.1,-4.4M627,525l7.0,-2.3M624,758l-3.9,1.6M474,750l6.5,-3.3M287,786l6.9,1.1M485,758l4.9,0.8M564,787l5.6,-1.0M426,811l7.2,-2.5M642,674l0.9,-5.7M534,433l-3.6,1.9M576,335l3.4,-3.3M601,358l-1.0,-8.1M454,414l-5.4,-5.4M448,818l-3.9,2.3M519,355l7.3,2.4M599,564l1.0,5.6M287,805l-7.8,0.1M559,646l-5.1,4.5M455,411l-4.4,-7.1M659,358l1.8,6.6M579,492l-6.3,-1.2M347,875l-0.8,5.4M401,720l5.8,1.3M655,419l4.0,-0.7M632,664l2.2,3.4M403,678l4.7,3.4M677,634l7.0,0.1M479,768l7.5,3.6M653,428l5.5,0.2M570,487l-7.1,-1.2M661,621l-0.1,5.3M526,720l-0.0,8.2M567,321l2.0,7.4M624,654l-3.9,4.3M549,625l-3.6,2.7M452,816l-3.4,4.4M292,691l-7.9,2.0M590,640l6.0,6.0M246,747l-3.3,-8.0M460,417l-1.2,-8.2M441,857l5.3,4.1M358,752l4.4,1.9M369,613l-6.8,2.7M597,724l4.0,6.7M476,850l-6.3,6.2M679,713l5.2,-0.1M558,489l-6.3,-3.2M816,767l-1.6,7.6M518,782l-7.4,-2.3M628,382l6.3,-0.6M623,407l2.1,-5.3M618,671l4.0,-2.6M616,557l6.4,5.3M542,393l-6.0,4.3M266,641l-2.9,-7.7M618,387l5.1,6.6M543,449l-1.9,5.3M539,319l0.2,4.2M412,623l5.2,0.9M730,750l-2.7,4.9M574,637l2.9,8.3M565,421l4.0,-1.8M570,409l-0.4,4.3M339,696l-5.9,-1.8M468,783l0.6,-5.5M638,407l1.4,-8.7M618,599l-6.9,-0.6M605,336l-4.2,-5.5M597,615l5.9,-3.0M581,647l2.3,4.4M492,819l-5.0,-1.6M554,556l-5.8,0.9M401,733l1.0,-5.1M376,807l-7.4,-4.6M594,427l-3.8,-1.3M586,781l-6.2,6.1M574,788l5.5,0.7M399,870l-0.7,7.4M690,716l-4.8,1.5M359,794l4.1,-1.4M704,751l-3.3,3.1M695,707l-7.9,-0.5M439,796l-4.7,0.3M549,746l-0.6,6.8M539,394l-7.7,1.9M556,685l4.6,-6.6M648,655l1.3,5.3M273,751l5.3,-5.8M658,441l-3.1,-7.3M240,677l-2.5,-7.0M429,872l5.1,3.4M512,822l4.2,-7.6M450,807l-7.4,3.2M648,663l4.3,3.8M658,681l-3.6,-3.6M624,739l-3.6,-5.2M572,543l-6.2,3.8M598,363l-3.7,-4.8M527,309l-0.5,4.5M504,285l-7.8,-2.2M532,411l-4.1,-5.6M564,680l-0.8,-4.0M384,876l4.5,-0.1M769,715l-1.9,-7.8M301,651l7.9,0.5M611,544l6.1,5.2M491,861l0.0,6.6M381,795l-5.7,6.4M432,610l7.0,-0.5M384,818l-6.5,-3.7M598,536l2.5,3.5M431,741l-3.2,-5.1M534,652l2.2,-7.1M587,692l-3.8,-3.8M619,615l5.6,3.3M649,574l-4.9,-7.2M540,366l-7.8,-2.0M628,498l4.6,1.7M642,427l5.6,-0.5M663,701l8.1,0.2M310,710l3.9,5.9M663,725l1.1,5.2M237,794l-5.1,3.5M560,614l-7.7,-1.7M405,731l3.3,-4.5M550,340l-4.5,-6.6M552,613l-6.9,-0.6M396,703l5.8,-2.9M574,779l-5.0,4.1M619,785l1.6,6.8M497,741l4.7,-3.2M570,439l7.6,-0.8M341,777l3.6,-6.7M564,476l-4.3,0.1M550,613l-7.6,-1.9M661,451l2.4,-3.9M514,347l3.0,-7.0M517,357l-2.8,-5.8M821,736l3.9,-1.8M421,737l2.7,-7.2M454,742l2.1,-7.1M594,738l-2.8,-7.1M224,717l-4.7,3.5M421,763l3.5,-2.4M582,464l-5.0,-6.9M565,488l-7.9,-1.4M547,700l-4.0,-3.3M522,326l-2.1,5.2M425,666l4.5,3.1M668,475l4.8,1.5M636,601l7.7,2.3M440,571l5.0,-0.6M533,735l-6.6,-1.8M401,598l4.6,-3.1M455,806l-4.5,3.9M680,695l1.6,7.1M241,655l-7.5,3.9M573,405l4.8,6.1M533,733l-5.5,1.3M419,553l0.6,-5.5M613,740l6.3,-3.5M600,613l-4.7,5.2M418,811l4.7,-1.3M661,531l-0.4,4.9M542,548l-6.5,0.3M465,754l3.6,-2.2M522,668l-1.2,-7.3M469,823l-3.9,5.6M321,841l-3.3,-3.3M673,419l7.5,-3.1M624,709l2.4,7.7M515,693l-8.2,2.2M425,632l4.7,5.0M488,841l-7.9,1.0M300,657l8.8,-0.8M376,631l0.6,-5.3M585,402l3.3,5.0M499,377l1.1,-6.2M270,802l0.8,6.8M420,819l3.9,-1.6M301,665l-0.1,-4.2M471,844l-3.6,2.2M555,417l6.1,-6.5M650,416l4.6,-7.1M575,561l-1.7,5.7M606,566l-1.7,-3.9M532,441l-2.0,6.4M556,588l-3.0,-4.7M661,483l5.1,4.4M621,713l2.6,4.6M395,669l5.6,2.2M431,786l-3.4,5.0M692,734l-4.2,-0.7M456,760l7.9,-4.1M285,667l5.0,0.4M643,461l-5.2,-7.2M352,718l-4.3,2.5M665,745l5.5,-2.8M361,675l1.2,6.6M509,350l2.7,-5.6M645,458l-0.2,-6.7M486,840l-7.3,-0.7M626,543l4.6,1.7M640,519l-1.7,5.5M793,760l-4.8,5.5M513,378l2.3,-4.6M218,737l-5.7,-4.2M617,472l4.3,-7.5M223,769l-5.2,1.3M537,766l-1.4,-8.3M409,850l2.8,3.5M623,586l3.4,-4.8M414,759l5.6,-4.4M749,701l-2.3,-5.7M421,838l6.2,1.4M362,838l4.9,-5.9M647,776l4.7,2.8M569,345l-2.6,-7.5M470,830l4.1,6.8M552,764l-0.9,-5.6M683,722l5.4,7.1M744,744l-0.8,8.9M484,409l-7.8,1.2M495,814l-1.6,-7.9M449,575l4.5,-0.5M311,769l-0.7,-4.0M525,474l-0.9,4.6M664,412l4.0,1.3M342,778l5.1,-7.2M541,743l-2.0,8.3M371,863l3.5,5.1M568,778l4.5,-3.9M643,593l-3.5,-2.5M449,579l6.6,-2.4M422,622l7.2,-1.5M558,302l4.9,1.6M618,705l3.8,3.4M619,738l-0.8,-7.4M513,414l0.8,4.8M418,554l2.2,-7.5M674,582l2.6,-3.6M312,765l-2.2,4.4M498,729l-4.6,4.7M479,367l-5.5,-6.0M460,777l4.2,6.5M577,397l2.7,4.3M552,607l-4.0,0.8M595,701l-2.5,5.6M608,530l4.5,-1.8M410,829l5.3,-0.3M586,590l3.9,-7.9M393,797l-2.7,6.7M624,510l6.8,1.2M456,396l-4.4,2.1M666,732l0.6,4.2M324,720l-0.6,-4.8M494,417l0.9,5.9M638,787l3.7,7.6M563,481l-8.1,-1.7M664,510l2.1,4.9M548,790l6.9,1.1M465,743l6.4,-5.1M507,708l-5.2,3.2M300,705l-0.9,5.7M362,770l3.6,4.6M601,400l-2.8,8.4M581,705l-4.2,4.0M568,680l-4.3,-3.7M455,801l-6.9,1.3M661,441l1.4,-7.5M608,645l-4.7,-0.3M291,807l-7.5,3.7M484,732l2.0,-4.0M545,415l2.7,-3.1M412,725l6.2,0.4M563,443l6.3,0.4M440,610l5.3,4.3M510,291l-5.2,-0.1M652,575l-2.4,-7.9M635,494l-2.0,8.2M773,751l0.6,6.5M680,602l6.5,1.8M325,753l-5.6,1.9M562,639l-6.1,4.9M587,485l-3.5,-7.2M598,591l-5.4,-1.1M320,774l-3.1,-6.9M417,657l6.1,-0.6M579,705l-7.5,4.6M525,768l-0.2,-5.2M555,368l-3.2,-6.6M424,771l-5.1,2.6M524,825l3.0,-3.7M369,772l-5.6,3.8M561,830l4.0,5.9M391,716l6.0,1.9M670,657l-3.3,-4.5M612,774l6.2,4.5M638,326l-4.1,-2.9M434,775l-2.9,2.8M631,523l7.2,-0.6M398,676l6.1,4.9M557,748l0.3,7.1M523,762l-2.9,-5.8M631,787l-5.6,5.2M521,424l-5.3,-1.9M546,662l5.9,-6.5M295,804l-6.3,-0.6M229,736l-5.0,-7.1M556,560l-2.7,3.3M433,619l5.5,0.1M699,742l-5.1,4.2M742,717l-7.9,-4.3M390,690l6.7,-3.8M700,690l6.4,1.9M470,779l-1.2,-6.9M343,738l1.5,-4.5M646,468l-3.4,-3.1M482,733l5.6,-0.6M661,488l-1.3,8.5M564,338l-1.8,-5.1M388,748l-0.9,-8.2M283,768l8.5,-0.3M543,634l-6.0,2.4M515,684l-7.5,2.5M294,652l7.7,-2.0M560,515l-6.8,0.3M483,728l3.7,-6.4M580,640l0.9,5.5M551,764l2.1,-7.1M229,730l-4.9,5.3M606,789l2.7,7.8M304,742l6.1,6.6M548,378l-6.4,-2.8M544,505l-4.6,0.4M548,567l-3.8,6.3M641,508l-1.0,4.1M216,733l-4.9,4.8M712,706l-3.7,-3.1M305,739l4.2,5.3M440,542l3.2,-3.1M549,643l-6.3,2.9M223,760l-4.7,0.4M599,787l5.2,3.7M594,500l-0.5,5.9M481,814l5.3,5.5M295,719l5.1,1.6M559,649l-2.6,3.8M316,684l4.1,-6.3M560,672l6.6,-4.0M410,709l8.5,-0.8M501,771l7.0,-2.7M289,650l4.1,-2.8M641,366l-2.2,5.1M598,536l3.9,3.5M636,522l5.2,0.3M399,608l4.7,-6.6M514,761l-2.8,-3.8M589,716l-2.2,4.1M618,351l0.2,-6.9M542,817l3.6,4.8M265,792l1.6,4.6M669,586l-0.1,-4.4M507,302l-3.7,2.6M361,704l-8.1,-2.2M517,741l-5.4,4.0M630,453l3.0,6.1M608,779l1.4,8.6M518,317l1.1,4.6M645,412l6.8,-0.1M583,444l-4.3,0.9M654,380l7.4,-0.9M580,345l4.8,-6.9M338,736l-1.6,-5.4M651,650l2.7,6.5M545,684l8.8,0.4M763,759l-2.8,3.3M738,723l-7.7,2.2M620,649l-4.6,3.2M647,666l3.7,5.2M469,765l7.0,1.9M644,654l2.5,5.4M545,713l-8.4,1.7M379,826l-6.1,0.7M638,747l0.2,-5.2M513,766l-3.4,-3.0M258,719l-3.3,7.7M752,713l3.7,-4.4M673,715l2.7,6.6M414,779l6.0,2.1M667,514l3.1,3.8M579,752l-5.8,-5.5M594,603l-8.3,0.3M465,743l4.9,-4.7M602,467l2.2,-4.8M399,805l-3.7,-5.9M219,706l-8.4,0.7M544,292l2.2,4.7M357,694l-2.8,-3.1M562,501l-5.2,0.8M342,831l-3.2,-2.8M517,732l-2.8,4.2M511,313l-3.0,3.3M431,637l8.7,-0.8M388,697l3.4,-7.4M382,863l4.7,0.5M582,560l-0.3,7.2M562,608l-6.2,-4.5M290,661l7.5,2.6M700,716l-7.4,-0.4M626,686l3.5,2.9M731,750l-4.1,6.5M593,402l-1.7,3.8M296,805l-3.2,6.2M775,759l0.9,7.8M759,756l-2.4,5.1M527,824l3.9,-2.7M556,346l-3.1,-4.9M639,403l0.8,-4.7M285,713l0.4,-7.1M686,707l2.0,7.9M349,678l-3.4,3.5M216,704l-8.5,1.5M537,374l-6.4,-2.0M515,312l-3.5,4.7M663,563l3.5,-3.4M630,541l5.9,1.4M556,483l-7.2,-0.4M416,693l4.1,-1.8M352,730l4.0,-4.7M564,484l-5.9,-0.8M520,447l-3.0,2.7M677,463l5.4,6.1M559,498l-6.7,-4.8M359,873l-2.4,6.3M417,851l4.9,4.5M505,769l-4.4,-6.1M371,618l-5.8,1.1M599,413l-3.2,-3.2M389,813l-2.0,-4.3M380,766l-8.3,2.8M582,827l3.8,5.6M611,573l-7.4,-3.8M399,736l4.2,-6.6M503,766l-4.6,-1.9M587,625l3.0,2.9M505,713l-4.3,6.8M321,784l-1.4,-5.3M518,331l-1.0,5.3M614,370l5.0,-7.4M628,575l0.4,-4.4M286,787l7.5,2.4M354,777l2.3,-6.1M533,515l-5.5,1.5M523,536l-6.2,4.6M439,803l-6.3,-3.6M219,755l-8.0,-3.1M326,800l-6.1,-3.2M269,812l1.3,6.0M450,573l7.4,-1.2M560,462l4.6,5.0M614,376l4.6,-5.0M583,739l-5.3,-7.0M627,682l5.6,-1.8M578,447l5.6,3.0M649,438l4.4,-0.6M653,425l5.5,-2.6M407,760l7.2,-3.4M707,737l-1.2,4.8M417,696l7.9,-4.2M627,695l3.3,2.4M546,329l1.2,4.5M655,341l-0.1,7.2M383,862l8.2,3.0M576,750l-3.8,-3.0M484,406l-5.7,0.6M559,319l1.6,5.5M331,863l-2.1,3.5M498,732l-6.3,4.3M340,725l-1.1,-5.8M223,710l-6.2,3.0M658,640l6.4,2.9M586,811l2.1,4.9M601,343l0.6,-6.3M543,378l-5.3,-2.6M685,424l5.1,-7.3M300,762l-8.4,1.9M372,670l3.7,4.2M585,643l2.9,7.7M619,412l0.1,-8.2M656,722l3.3,8.0M790,749l-6.0,5.1M459,772l7.3,-0.3M590,561l0.9,6.2M546,794l5.7,2.5M505,794l7.3,-3.8M385,646l4.5,-2.9M413,649l7.6,-2.6M639,769l1.8,5.3M385,609l1.6,-5.0M554,444l3.4,2.9M607,776l1.9,3.9M590,810l-0.3,4.9M621,763l-4.5,-0.5M426,730l-3.3,-6.6M263,807l0.1,4.4M389,637l-3.2,3.6M664,390l6.9,0.5M359,731l-3.8,7.6M688,726l-5.0,1.0M628,471l-4.1,-0.1M596,806l-1.1,7.1M508,702l-8.7,0.3M574,794l7.0,-1.9M407,842l4.4,7.2M606,712l0.6,7.8M462,774l4.9,2.9M547,288l4.3,1.5M555,576l-0.9,-4.1M262,803l3.2,2.4M635,633l-5.6,-1.5M263,675l-2.7,3.1M497,420l0.2,4.2M363,782l7.9,-1.6M683,432l2.8,-3.0M318,826l0.2,7.0M359,793l7.2,-0.4M538,554l-5.0,3.5M354,721l-5.0,1.5M507,749l-1.8,-3.6M459,781l3.1,3.9M484,412l-2.3,3.9M559,328l4.8,1.3M654,437l3.7,-4.8M606,731l-2.6,-6.2M680,751l4.4,-0.6M347,866l2.2,5.8M544,329l2.4,6.5M813,742l4.5,0.7M646,440l6.2,2.4M585,344l-2.5,-4.2M340,779l4.9,-5.5M225,755l-4.5,-0.8M547,761l5.9,-6.5M492,426l3.6,-6.3M222,700l-6.1,1.4M638,378l7.6,-2.9M387,642l6.6,-0.2M302,744l7.1,4.3M735,698l6.2,-4.8M619,371l0.8,-5.1M599,639l5.8,6.1M575,577l-1.6,-8.6M520,779l-6.3,-3.2M520,472l-5.0,7.0M775,748l1.3,8.3M324,781l-2.6,-3.6M663,737l3.8,-1.6M437,544l5.1,-1.2M665,472l7.8,0.5M472,811l1.8,8.8M336,726l-0.7,-7.7M347,810l4.0,2.9M697,748l-7.3,3.3M651,447l1.2,-8.9M390,566l-8.4,-1.7M574,753l-3.9,-1.5M441,785l-3.0,5.4M618,335l-5.6,5.0M565,751l0.2,4.5M362,802l4.9,0.3M459,748l4.8,-5.3M589,548l0.3,6.0M822,737l0.7,-5.7M477,796l2.2,-3.6M554,595l-6.9,-2.0M360,693l-2.7,-3.3M558,494l-8.5,0.1M302,804l-6.2,1.9M366,807l7.7,0.8M438,774l-7.0,4.7M707,712l-5.2,-0.1M783,756l-5.5,1.0M668,392l1.2,8.5M662,570l-4.0,-4.5M583,473l-3.7,-6.8M600,737l1.3,-8.7M326,752l-6.3,3.2M546,485l-6.1,-2.4M604,508l-1.5,5.9M598,803l-1.7,3.7M789,748l-6.8,0.1M500,829l-1.0,-6.3M603,726l-1.3,7.5M520,821l4.2,-2.6M598,424l-4.6,-1.0M572,388l4.9,-0.1M798,769l-1.5,3.9M505,352l3.0,-7.8M275,735l-2.1,8.4M839,741l4.5,-2.9M604,531l5.5,1.4M727,748l-2.8,4.9M220,750l-4.5,-3.1M488,771l1.5,-7.9M407,685l7.4,-3.0M378,682l0.5,-4.5M599,576l-4.7,-4.1M339,740l-5.5,-5.3M601,339l-0.9,-7.8M358,676l-0.1,4.8M366,603l-4.5,2.0M822,733l5.8,-4.3M553,778l2.2,-8.2M280,799l3.8,4.0M257,798l1.1,7.5M361,628l-3.5,-7.7M542,439l0.0,4.4M637,353l-1.3,4.8M443,817l-7.1,2.3M426,853l4.1,3.6M578,478l-4.7,-5.7M538,491l-3.7,2.2M532,312l3.8,5.5M377,681l1.4,8.7M609,695l2.1,4.8M520,365l2.8,-3.4M450,818l-5.0,3.9M682,703l-0.8,6.2M616,770l8.2,-0.3M530,491l-0.4,5.6M402,599l2.8,-3.8M321,724l-3.5,-4.6M538,344l-4.6,-3.7M402,643l5.1,1.0M732,755l-6.1,5.4M625,335l-8.5,0.2M402,809l2.5,-7.5M555,674l5.9,-5.2M274,756l7.1,1.7M542,651l-0.3,-6.5M348,788l5.4,-4.1M659,528l4.6,6.1M528,835l7.5,-0.8M758,738l-5.0,3.0M401,603l4.6,-0.5M391,850l-5.8,6.0M561,572l-3.8,6.1M738,751l-1.3,5.1M619,648l-5.7,5.3M734,733l-7.2,1.1M406,779l3.2,4.0M435,840l5.8,2.2M361,726l-4.8,6.4M744,755l0.2,4.0M310,676l5.3,-2.0M509,347l5.7,-5.1M586,722l5.4,1.0M581,724l8.1,2.7M482,364l-2.9,-8.5M555,748l-0.8,4.2M525,770l-5.3,-1.8M532,839l5.1,3.9M345,724l0.2,-5.9M521,676l-1.0,-5.2M529,489l1.0,4.7M526,411l-4.5,-1.4M643,649l3.9,5.2M385,684l5.2,-2.3M537,309l3.2,7.0M614,726l4.1,6.3M656,753l3.5,-2.1M276,720l-8.3,-1.0M661,420l4.4,-0.8M561,821l3.7,3.9M637,729l2.6,-7.7M566,602l-1.6,-5.9M449,740l-0.1,-5.8M252,677l-0.9,-8.0M590,530l8.9,-0.6M515,727l-5.4,1.6M630,584l3.3,-3.5M635,610l4.1,7.3M231,732l-3.5,4.4M518,708l-3.1,4.6M460,849l-8.2,2.1M501,703l-4.7,3.0M629,551l6.9,2.8M670,503l1.5,7.5M438,823l4.8,-0.8M510,362l2.3,-5.1M504,545l-5.7,-4.0M547,315l4.5,3.2M382,640l5.4,-2.3M551,609l-3.7,-2.0M299,689l-5.6,-3.2M477,733l4.5,-2.6M557,670l8.0,-3.1M396,584l-5.7,6.5M425,844l7.7,0.0M537,396l-8.4,1.0M727,696l2.0,-6.6M413,732l4.3,-4.8M235,667l-6.6,-2.1M462,826l-3.9,5.0M711,695l-6.4,-4.1M568,359l3.9,-4.5M770,718l-5.2,-4.1M513,480l2.4,4.8M659,478l3.3,2.5M344,696l-5.6,-3.3M451,808l-7.4,2.1M282,742l-1.4,6.3M417,808l5.2,-7.3M607,498l5.8,2.9M669,594l4.9,-6.2M602,614l-5.8,3.3M468,837l-7.6,-0.6M647,428l8.6,-2.3M328,849l-4.8,0.1M280,691l-6.9,2.8M466,428l-7.9,-3.6M457,438l-7.3,-2.2M325,694l5.4,1.0M646,616l-0.6,5.6M557,400l-4.0,6.3M639,443l5.0,6.9M622,584l0.3,-5.8M584,676l-1.7,-5.6M397,662l4.3,-0.6M568,585l-2.7,-7.3M300,745l5.3,6.3M531,427l-4.1,-1.8M530,510l-5.1,-1.7M620,623l-5.3,5.7M562,671l6.4,-1.9M404,743l3.9,-4.8M525,334l0.3,8.0M265,749l0.6,-4.1M587,361l-7.9,-2.4M450,777l-1.0,4.7M524,839l7.1,0.9M236,660l-8.7,-2.0M493,838l-4.2,5.2M661,393l6.3,1.4M665,615l-0.5,8.5M562,424l5.3,-7.1M246,661l-7.7,-4.4M709,709l-4.6,-1.9M542,470l-1.5,7.9M437,616l3.9,-1.4M285,760l4.7,-0.7M685,629l2.5,6.3M632,612l4.7,2.0M668,753l2.7,-3.2M545,614l-6.0,0.4M551,642l-6.2,6.1M686,728l-3.8,2.4M385,595l1.5,-3.7M472,393l-7.5,-5.0M573,489l-4.0,0.6M244,717l-0.2,6.0M630,614l1.4,4.9M578,727l4.3,1.9M380,849l-4.5,2.4M646,690l-3.3,-6.8M591,639l5.4,0.0M544,808l3.8,4.1M583,573l4.6,6.5M387,750l-2.6,-6.7M375,683l0.8,-4.7M558,333l3.8,6.1M480,755l4.6,-2.2M564,481l-7.5,-2.6M411,735l2.6,-5.2M325,743l-6.6,-1.4M554,813l2.9,6.3M660,478l4.0,5.1M371,839l2.9,-3.2M643,401l3.2,-2.7M469,409l-4.3,-6.9M560,661l4.8,-2.7M526,762l0.2,-5.1M661,520l1.2,8.4M624,429l8.2,-1.3M284,685l-2.2,-5.0M475,745l5.3,-3.0M543,723l-4.9,0.2M639,597l6.4,1.2M669,374l1.0,4.7M436,578l5.5,1.9M479,410l-4.9,6.8M788,757l-4.8,3.8M567,590l1.5,-6.2M409,650l4.2,2.0M671,355l3.6,4.0M458,402l-6.2,2.8M511,697l-5.7,1.4M264,734l-3.6,5.3M559,758l1.3,-4.1M602,350l-1.3,-8.8M376,818l-5.0,-3.4M494,763l3.8,-3.6M632,412l3.4,-3.8M496,728l-4.9,3.1M523,760l-6.3,-6.4M670,426l1.5,-5.0M683,390l0.1,4.3M529,367l-6.9,-4.0M531,314l-0.3,5.1M556,517l-5.4,-0.7M585,759l-5.6,-3.2M806,764l-0.5,6.5M554,814l3.0,4.1M582,799l-0.5,5.4M624,352l3.5,-5.3M531,556l-4.2,2.6M605,498l4.9,0.9M339,816l5.3,1.9M529,307l1.2,6.6M535,313l1.7,6.7M553,477l-7.4,-3.4M539,357l-0.7,-4.9M506,754l-3.8,-3.7M516,456l-8.6,0.2M663,460l3.6,-5.6M560,306l5.8,2.9M576,458l-5.2,-4.8M461,772l3.6,1.7M341,712l-8.8,1.7M558,743l-2.4,7.7M611,528l6.2,-1.6M514,352l3.2,-7.0M281,772l5.2,1.4M539,814l-3.3,5.1M290,782l6.6,-0.2M608,618l-5.6,6.0M448,430l-4.5,-2.3M613,585l-0.7,-4.7M513,455l8.0,2.1M490,828l-5.4,-2.7M242,655l-5.6,-1.7M677,434l-1.7,-6.4M633,472l-7.7,-0.2M382,764l-4.1,-1.2M591,605l3.9,-6.1M548,501l-5.5,-5.2M552,426l5.1,0.1M681,733l8.1,2.9M419,629l6.0,1.1M480,734l2.8,-4.2M396,747l-3.0,-5.6M489,407l-7.1,4.3M594,608l6.7,-5.0M494,815l-0.8,-4.1M663,739l2.8,-5.4M308,778l-2.6,-3.8M343,763l0.6,4.3M367,631l1.5,-4.3M374,597l-7.9,3.4M655,455l-2.9,-7.6M227,717l-5.5,0.2M440,573l7.5,1.2M423,780l-7.0,0.4M540,515l-7.5,2.1M556,304l3.6,2.5M289,642l7.0,-0.7M565,346l1.8,-8.8M677,373l4.0,7.9M394,748l-0.5,-8.1M627,550l2.5,7.0M613,801l2.1,5.6M542,673l5.1,-3.8M636,722l-6.2,4.5M581,399l5.7,3.1M412,593l-0.3,5.7M626,546l6.2,-0.8M577,684l-4.3,-2.3M500,720l-8.5,1.8M377,673l1.9,5.1M762,706l4.2,-2.7M485,828l-8.4,-2.4M658,662l-6.1,-5.1M546,514l-5.8,-2.6M646,454l-2.1,-8.3M314,775l-2.5,-4.3M294,718l4.8,1.3M531,548l-4.1,-0.3M323,741l-6.2,-1.3M552,359l-1.8,-4.4M403,581l-3.1,6.7M526,813l-5.2,1.7M699,713l-4.3,2.9M237,736l-0.8,8.9M420,844l3.6,3.3M459,823l-7.1,5.5M583,382l7.0,-1.5M663,680l-6.1,0.8M545,822l3.9,6.5M601,402l-1.4,4.5M411,643l2.4,3.3M565,478l-4.2,-0.7M258,700l7.7,4.1M684,666l4.1,-3.8M635,589l5.1,-5.5M464,837l-6.9,0.2M466,844l-7.9,-0.8M489,360l-2.2,-5.1M358,634l-1.7,-7.2M465,841l-5.6,2.3M529,378l4.4,-3.5M446,742l-2.3,-8.0M609,440l-0.5,6.8M512,729l-4.6,7.0M557,632l-7.8,2.7M536,808l-3.3,7.1M419,593l6.9,5.1M677,702l0.2,8.8M647,581l-1.8,-5.4M558,688l-4.4,-6.0M237,757l-4.3,-3.5M730,744l-3.7,2.5M243,676l-1.6,-4.3M370,832l3.7,-3.3M445,590l6.9,0.7M511,392l6.1,-2.7M427,869l-0.7,7.9M539,661l-2.2,-7.0M529,802l-6.2,0.6M613,781l2.7,4.2M662,436l-0.0,-4.6M630,791l-3.2,5.9M309,833l0.8,7.6M518,835l4.2,-1.2M506,308l-2.2,6.1M508,783l-4.2,0.0M306,790l-6.7,-4.7M639,612l4.3,3.7M617,667l3.1,-7.7M554,785l7.0,-4.1M393,848l-0.7,6.7M593,668l0.6,-5.5M499,771l5.7,-4.3M409,748l2.8,-3.5M515,540l-5.2,-0.5M221,716l-4.0,1.1M569,343l2.9,-7.8M409,650l8.6,-1.3M611,391l-0.1,7.1M568,388l2.4,4.1M686,706l2.3,5.8M427,610l7.9,-2.8M507,743l-5.3,3.9M299,832l-7.1,2.8M505,803l3.5,-5.4M482,793l3.5,-4.4M446,585l7.3,3.4M538,634l-8.0,3.3M684,444l4.7,-4.2M525,773l-2.4,-3.3M690,673l6.8,-3.6M459,739l3.1,-5.5M312,690l7.3,4.6M615,441l-3.2,6.3M662,379l1.8,4.0M451,547l7.5,-0.4M602,329l-2.6,-3.9M584,407l5.3,-1.4M391,729l5.2,3.5M530,503l-6.7,-3.2M512,695l-5.7,2.4M506,412l4.8,3.6M493,762l0.7,-4.9M289,705l4.4,-4.3M399,655l4.1,-1.3M423,636l7.2,2.4M501,376l1.7,-8.1M706,737l-4.6,2.5M505,795l-6.0,-1.4M550,488l-4.3,0.7M546,341l-4.4,-7.8M501,545l-4.1,6.0M408,863l4.2,5.4M362,871l-0.9,5.1M513,739l1.0,4.5M566,765l-4.1,0.5M574,665l-5.5,-4.0M524,314l-2.1,4.7M365,757l6.8,3.4M488,788l3.1,-3.3M342,685l-3.7,-6.0M644,683l0.6,-4.1M397,775l-0.3,6.1M659,525l-1.2,4.2M591,667l-2.3,-4.9M591,673l-3.5,-2.8M409,590l3.8,6.7M375,671l-2.1,7.0M432,624l4.9,2.8M381,686l1.0,-6.7M455,560l3.8,-2.7M373,843l4.1,-1.4M568,336l2.7,-6.9M375,805l-2.9,-4.0M663,441l4.8,-7.1M604,544l4.1,1.3M560,665l6.9,-4.2M654,551l1.3,-7.9M455,780l-0.2,7.2M406,786l0.3,6.4M266,678l-1.6,6.0M656,366l1.9,6.7M819,736l5.7,-0.2M779,746l-0.6,4.5M532,557l-5.6,3.1M601,522l6.4,-4.8M222,691l-8.1,-2.5M540,508l-8.0,0.7M401,612l5.6,-0.2M487,859l0.7,6.5M512,333l0.8,5.5M566,670l0.2,-4.2M442,566l6.8,-2.4M628,791l-1.4,8.8M558,601l-5.9,-4.3M569,464l-4.7,-1.5M631,679l6.0,-5.7M581,554l-0.1,4.1M533,660l5.2,-5.9M518,461l-4.3,0.6M327,665l3.0,-6.2M676,436l2.2,-5.9M272,642l-0.4,-8.2M612,732l0.8,-4.5M397,769l-5.7,6.8M287,654l5.2,-0.3M537,408l-0.5,-4.5M531,272l-2.1,-6.9M649,406l0.9,-5.9M363,781l5.6,-3.5M547,331l1.5,5.4M586,751l-1.1,-4.4M651,396l6.5,3.2M682,660l2.8,-5.6M677,591l4.6,-1.8M623,721l3.2,4.9M264,689l3.3,-4.7M549,687l5.3,-1.7M382,792l-1.2,8.0M241,764l-5.3,-5.0M363,734l-1.5,4.8M630,529l8.2,3.6M286,779l5.6,5.1M352,823l1.4,-6.9M620,623l0.1,5.3M504,356l0.4,-5.4M573,459l-7.4,-2.1M557,541l-6.0,2.2M631,522l5.2,1.1M448,810l-4.7,4.5M617,347l1.3,-4.9M669,700l5.1,-0.3M523,801l-4.7,1.2M379,664l4.3,6.8M289,720l4.4,1.9M476,738l4.7,-1.1M680,406l4.4,-3.2M535,373l-4.9,-1.0M245,805l-0.3,5.5M405,808l1.8,-5.3M511,797l-7.7,4.1M305,797l-6.5,-2.3M541,527l-5.9,1.8M511,753l-1.5,-5.6M644,549l-2.8,-5.7M643,497l-0.2,8.1M580,569l-1.8,5.9M469,782l5.0,-6.3M474,383l-4.3,0.2M486,364l-1.1,-5.5M641,553l0.5,-7.5M610,647l-6.6,0.3M720,739l-1.3,6.0M593,456l-1.6,-7.0M378,853l6.4,-6.1M663,364l3.8,4.7M565,583l-0.6,-4.4M793,757l-4.2,6.8M678,640l4.2,2.5M601,715l3.8,6.1M766,747l-4.3,5.7M657,685l1.7,-5.8M268,795l1.3,5.8M635,519l4.9,1.8M652,447l0.1,-5.3M337,818l3.0,7.7M664,555l0.8,-4.2M422,743l3.1,-3.7M584,468l-1.3,-7.4M536,533l-5.3,4.7M657,752l5.3,-3.8M763,757l-4.4,6.6M522,354l0.8,-4.1M645,737l-0.8,-5.1M620,323l-8.0,-1.4M527,547l-5.8,1.1M402,633l3.7,6.5M413,657l6.4,0.7M540,304l3.5,6.9M605,724l1.6,5.3M345,802l5.0,-1.9M583,335l-3.0,-7.6M531,400l5.0,1.0M611,485l4.9,-1.7M430,755l-4.2,-1.3M592,740l-1.1,-6.1M829,770l1.3,4.6M645,389l7.6,2.6M635,413l7.6,-2.8M549,511l-4.2,-3.3M841,748l6.1,-1.7M598,650l3.3,4.2M435,585l8.0,-1.8M729,743l-5.5,4.1M569,364l4.2,-5.1M356,869l4.9,6.1M426,746l-5.2,-4.3M458,865l-4.4,6.8M362,623l-4.3,-0.1M323,686l5.2,-0.9M582,802l5.7,3.2M452,780l2.4,5.6M704,707l-5.7,-0.8M319,780l0.4,-8.5M269,707l-4.4,-7.4M315,827l-3.0,2.8M581,553l3.2,3.7M609,588l-6.4,-5.4M323,744l-5.1,2.4M345,790l6.8,-2.1M496,791l4.4,1.6M552,478l-5.4,1.1M236,781l-7.2,-0.9M486,854l-2.5,4.5M702,717l-8.7,1.4M314,700l2.2,5.3M351,726l1.7,-4.7M256,743l1.7,-4.0M611,475l3.2,-2.9M578,506l-0.2,-5.7M521,788l-7.8,-0.9M361,638l-2.5,-4.3M626,620l2.4,4.7M514,533l-4.9,-0.3M478,771l6.9,-5.4M451,790l-4.0,-1.2M613,559l1.4,-6.9M519,421l-5.8,-2.9M420,560l3.2,-3.7M661,505l5.9,6.6M548,314l7.4,3.2M384,673l2.5,3.2M611,710l2.7,5.3M729,710l7.6,1.9M635,621l-0.4,-6.2M636,619l-2.0,-7.3M215,723l-7.3,-0.0M515,441l-5.4,2.4M570,366l2.8,-3.5M509,846l4.9,3.7M501,291l-6.2,0.5M500,422l2.1,-4.5M240,756l-3.5,-5.7M543,670l5.6,-1.2M525,266l-2.7,-6.1M580,808l8.8,1.1M635,343l-6.3,1.1M359,625l-3.9,-6.3M348,867l0.0,5.6M518,315l-5.4,5.7M601,738l-1.6,-4.0M336,825l-0.4,8.1M565,772l4.9,-5.9M300,828l-4.3,4.0M655,355l0.3,4.5M586,331l-3.7,-5.2M477,374l-6.4,-5.0M707,703l-4.7,-1.4M342,730l-3.2,-3.5M523,761l-1.6,-4.7M528,829l4.0,-1.0M484,735l3.7,-1.9M618,581l0.6,-5.1M328,860l-5.1,3.9M591,625l7.7,0.0M674,452l6.7,-5.8M342,718l-1.5,-7.0M572,513l-4.9,-5.9M309,836l-4.4,4.0M546,696l1.5,8.4M662,559l2.2,-6.0M436,852l2.5,6.1M640,341l-5.4,-2.1M305,776l-6.3,-0.7M640,493l-2.0,4.6M434,625l4.6,-1.2M642,349l-2.6,4.1M587,395l7.8,4.4M465,747l4.7,-7.6M574,707l2.7,-3.0M303,757l-4.9,3.7M522,486l-2.7,4.1M654,621l0.5,7.1M689,717l-8.9,0.8M257,785l0.3,5.4M520,370l4.1,-5.4M245,676l-1.3,-4.6M561,528l-5.8,-1.1M412,719l8.5,2.3M297,830l-5.3,3.3M367,829l2.2,-7.5M685,622l1.3,5.8M449,805l-6.0,1.7M418,761l5.7,-1.9M258,701l7.1,-0.7M400,655l6.3,1.2M624,628l-5.8,-6.4M497,821l-6.1,-3.5M608,470l4.4,-2.7M378,587l-3.2,-5.6M458,773l3.7,4.3M371,707l-5.2,-5.6M451,797l-6.8,2.5M540,703l0.8,5.6M277,795l6.6,2.6M695,703l-7.1,-1.0M563,598l-2.9,-5.9M569,594l-0.6,-6.5M645,623l5.0,-7.4M624,667l7.0,-3.5M616,642l-7.8,-2.7M587,661l-4.0,-5.7M378,879l6.1,5.5M585,655l-3.1,6.1M568,474l-2.0,-4.0M505,301l-3.8,1.9M635,406l3.2,-4.1M625,374l7.4,-3.0M344,731l0.2,-4.1M584,435l-6.8,-5.7M320,769l-5.3,4.3M388,711l4.6,-1.0M611,745l4.1,-6.8M603,662l-0.1,-6.7M609,614l-3.0,3.5M451,801l-5.3,-0.8M711,719l-7.4,-0.6M499,366l-2.4,-6.2M634,712l-1.9,7.4M397,783l-2.4,5.8M400,799l-0.3,-5.3M412,598l0.5,6.4M634,514l4.5,5.1M563,759l-5.0,2.0M537,381l-4.5,1.4M676,359l4.6,5.2M565,805l6.3,4.3M448,426l-6.1,-2.6M544,327l4.7,6.8M430,623l7.6,-0.3M610,526l5.6,-1.1M358,718l-3.2,6.0M358,820l3.1,-5.7M607,609l-6.7,0.9M513,800l-4.9,-0.4M540,411l-0.7,-5.3M351,773l3.0,3.5M429,603l3.0,2.8M519,488l-0.5,8.1M627,766l-4.2,2.4M699,744l0.1,6.7M441,740l-0.4,-4.3M474,388l-6.5,-1.5M616,651l-8.2,-2.8M511,787l-5.3,-4.4M556,494l-6.1,0.6M709,725l-6.1,6.5M613,742l4.3,-6.7M420,561l5.2,-1.2M552,444l6.4,6.1M614,556l7.3,3.0M364,760l7.7,-0.2M247,710l-1.4,3.9M327,761l-3.9,5.2M373,721l1.2,6.7M502,293l-4.9,1.9M601,647l3.8,4.2M516,775l-4.6,-3.2M551,512l-5.0,0.6M236,766l-8.4,1.8M522,835l7.5,-1.8M645,625l2.1,-4.1M417,786l4.0,1.0M738,701l5.9,-2.1M603,549l2.3,6.4M366,874l3.3,4.0M571,511l-5.3,-3.5M268,796l-0.2,8.6M678,425l4.6,-7.2M557,568l-7.6,4.7M787,750l-1.9,6.0M555,825l3.4,3.5M661,526l0.3,7.1M364,612l-4.2,-0.3M557,691l-3.5,-4.5M615,340l0.9,-4.4M308,736l4.3,2.3M542,546l-7.8,4.1M384,802l-0.8,-8.8M458,543l3.8,-1.6M450,441l-5.6,-1.2M361,803l4.6,0.6M571,508l-3.9,-1.7M655,559l1.5,-7.6M425,625l5.5,2.6M697,704l-3.9,-3.5M540,438l-2.7,7.0M526,485l-0.9,4.5M417,621l4.8,-1.8M660,716l2.7,3.9M567,632l-5.5,6.5M529,478l-0.1,7.8M543,409l-1.2,-5.4M483,364l-0.7,-4.8M453,866l-3.1,3.7M396,797l1.7,4.0M577,541l-5.6,5.2M678,740l2.9,-4.6M681,457l5.7,-1.0M395,625l3.5,6.8M290,751l1.7,6.1M419,813l2.3,-6.6M350,874l-1.2,6.7M527,755l-2.5,-3.2M685,416l0.2,-6.2M478,864l-2.2,4.2M419,700l6.0,-3.7M386,757l-8.3,-2.1M678,614l4.5,6.0M670,353l2.8,4.4M603,595l-5.9,-0.7M420,834l5.4,-0.1M512,288l-5.9,-3.3M468,783l1.8,-7.7M593,373l-5.1,-1.1M527,379l8.2,-3.2M516,783l-4.1,-4.4M777,720l2.4,-4.3M592,600l3.6,-2.5M567,569l-3.2,3.9M533,767l-0.7,-3.9M357,873l1.5,8.8M487,795l6.9,1.0M645,481l-0.9,6.4M556,577l-2.0,-3.8M486,748l7.8,-4.3M714,728l-0.5,6.3M344,729l4.6,-4.2M347,782l3.4,-3.9M416,809l0.7,-7.7M651,423l4.5,-0.9M560,794l6.8,0.7M328,818l2.0,5.3M664,654l3.6,3.4M408,632l5.8,5.7M426,829l8.7,-0.7M531,415l-1.6,-4.4M443,808l-5.6,5.0M574,544l0.8,6.1M439,812l-2.5,3.9M535,648l1.9,-7.3M589,347l-4.9,-6.1M580,330l4.0,-3.5M543,315l1.3,5.3M610,517l8.3,1.9M401,824l0.9,-8.1M272,760l8.3,-2.3M828,770l0.1,8.4M654,497l3.0,3.9M524,502l-5.0,-0.8M525,402l6.5,0.1M640,375l8.4,-0.3M605,668l-1.6,-3.9M374,731l-0.4,8.7M563,476l-8.0,-2.8M659,344l1.6,5.5M682,394l2.4,3.5M378,787l-4.6,3.9M557,553l-5.8,3.1M599,433l-6.0,4.8M456,553l4.6,-0.9M261,676l-3.0,3.0M338,677l-6.8,5.3M490,408l-5.7,6.8M501,851l0.7,7.0M549,805l2.1,4.8M548,615l-5.7,-1.4M254,728l-4.6,4.9M608,416l-5.5,-7.1M595,810l-0.2,7.2M581,446l-5.4,1.6M641,717l-1.9,4.5M319,734l-3.5,-4.0M612,323l-2.5,-3.7M610,485l7.8,0.5M553,832l-0.5,4.7M525,538l-6.3,4.3M555,514l-5.6,-3.4M534,429l-5.2,1.0M527,484l-0.3,4.9M382,825l-3.5,-3.8M610,578l-3.2,-6.2M594,661l-1.8,-4.8M545,363l-3.4,-7.8M250,797l-1.7,5.5M619,487l5.7,-1.7M600,504l2.0,3.9M742,758l-0.3,5.5M385,825l-4.3,-1.3M420,847l5.1,3.2M407,569l6.2,0.1M676,738l7.8,-4.0M767,735l-3.3,4.5M802,766l-2.6,6.7M526,352l-4.7,-4.3M563,614l-5.1,-0.6M303,701l0.3,8.6M595,750l-2.0,-5.7M266,675l-4.7,6.5M359,875l-0.4,8.3M563,463l3.9,5.6M514,543l-6.3,-2.5M633,628l-2.8,-4.6M223,699l-7.9,-0.3M237,800l-4.7,7.2M417,759l6.9,-4.3M637,780l-3.5,7.9M610,792l3.3,6.8M280,667l-0.2,6.6M431,620l5.3,2.4M668,682l-5.3,0.7M557,485l-6.8,-1.0M385,772l-1.9,7.7M642,668l2.1,8.6M632,664l-2.5,6.8M624,363l3.1,-4.9M680,634l-1.7,6.8M531,755l-6.1,-4.3M413,624l5.7,2.0M328,666l4.8,-3.7M679,402l5.7,-3.0M519,421l-8.7,0.4M574,520l-3.8,-2.8M519,349l3.1,-5.1M656,355l0.9,8.7M569,834l6.1,2.2M737,732l-4.1,3.5M605,437l-4.8,3.9M436,785l-4.4,5.7M344,719l4.5,-5.2M530,448l-1.8,7.6M667,661l-2.9,-4.1M259,753l6.5,-5.5M488,546l7.5,0.9M532,724l-6.8,1.9M460,539l5.4,-7.2M399,763l1.2,-4.3M637,423l3.9,-5.7M345,764l-2.8,8.0M477,855l-4.8,6.8M582,689l-5.8,-4.6M530,522l-4.2,0.4M411,779l5.2,6.2M597,637l4.1,0.7M658,640l7.8,3.0M463,827l-6.8,5.8M608,574l-1.7,-5.6M413,621l4.9,1.2M243,653l-6.6,2.5M344,800l4.8,-0.1M512,279l-2.1,-5.0M360,722l-2.8,4.4M535,653l3.7,-4.0M641,522l-0.5,6.7M588,490l-6.4,-0.3M635,479l-5.1,3.5M615,707l1.9,6.2M517,742l-4.9,0.9M675,600l8.3,-2.8M311,777l-3.8,-6.9M496,787l5.6,-3.3M532,803l-8.4,2.9M360,776l3.0,3.3M518,352l-0.2,-5.0M683,609l6.8,1.0M547,289l6.7,-3.7M556,385l-8.7,-0.5M260,765l2.3,-6.5M303,814l-7.6,4.2M579,770l-4.8,2.9M575,602l-2.3,-4.4M459,542l7.3,-4.7M528,331l0.6,6.0M359,739l7.4,-1.7M472,840l-5.0,-2.0M754,754l-2.7,6.1M534,714l3.7,7.7M404,679l4.2,2.3M327,721l-1.3,-4.8M439,468l-5.2,6.8M283,736l3.5,6.3M619,487l8.8,-1.6M540,478l0.7,7.1M578,541l-5.9,2.4M646,736l4.6,-3.5M560,497l-4.4,1.9M358,796l5.0,-3.2M465,821l-1.2,4.1M674,751l3.9,-4.2M542,356l-0.5,-6.3M637,697l-8.4,-1.4M605,531l5.6,2.5M649,657l6.0,3.7M612,544l6.1,3.4M491,814l-4.1,-6.7M354,789l4.0,-3.4M738,725l-3.8,7.5M558,575l-6.5,-4.0M601,523l6.3,-2.9M598,462l1.2,-8.3M383,739l3.9,7.6M438,542l3.1,-2.9M348,866l1.2,4.1M537,483l-0.5,6.6M682,706l3.3,5.9M526,845l3.2,3.2M424,632l7.3,2.9M799,773l-0.9,6.5M425,857l7.6,4.0M326,688l5.1,0.2M664,368l1.3,3.9M513,714l-2.1,8.7M425,623l5.3,0.6M308,746l-5.2,-7.0M427,829l4.3,0.6M651,555l-4.8,-6.5M627,577l2.1,-7.4M277,778l5.4,3.6M637,558l0.1,-5.2M440,794l0.1,7.9M595,779l-2.1,7.9M652,708l4.1,5.9M615,486l5.9,-0.5M600,364l-0.2,-6.1M626,366l4.2,-6.7M494,381l-1.6,-4.9M326,858l-4.6,4.3M400,646l3.8,-2.2M291,715l8.7,-0.6M608,729l1.6,8.0M471,414l0.3,-4.2M676,608l7.1,3.2M551,518l-7.0,-3.0M449,411l-3.0,-5.4M615,548l5.9,4.3M297,775l-6.3,-4.4M642,598l-6.7,-0.2M634,712l-2.4,4.6M485,773l3.2,-4.0M599,770l0.3,6.3M495,809l-2.8,-5.6M598,660l-4.3,-7.0M528,846l5.5,3.5M636,783l-4.5,3.3" stroke="#646266" stroke-width="1.3" opacity="0.22"/><path d="M571,365l4.2,-5.4M563,484l-8.0,-3.7M532,357l-4.4,-3.6M554,362l-3.0,-6.9M340,739l3.1,-6.8M553,586l-3.3,-5.5M598,758l-2.1,-4.0M651,466l3.1,-3.9M234,726l-2.8,5.6M561,671l4.8,-6.3M550,628l-7.9,0.6M436,769l-6.0,2.2M313,717l4.0,7.2M336,749l-3.5,3.0M647,525l0.6,4.5M570,752l-7.2,-3.4M620,721l4.9,6.0M610,460l-3.0,2.9M573,820l4.3,6.7M241,702l-7.3,2.9M253,672l-0.9,3.9M585,668l-7.7,-4.5M826,764l-2.2,4.1M566,347l2.3,-8.2M374,699l-1.0,-5.9M619,370l5.1,-6.2M602,543l6.1,1.9M296,661l8.0,1.5M598,404l-2.8,6.7M544,791l7.0,-2.5M566,665l4.6,-2.5M460,434l-4.9,-3.6M541,533l-4.7,0.1M474,780l-1.0,-5.2M825,757l-4.5,6.0M415,770l7.5,4.4M611,386l3.5,2.2M508,349l-4.4,-5.5M627,481l-4.7,4.1M762,759l-2.9,6.7M589,739l0.8,-6.2M218,704l-4.4,-1.6M408,831l7.6,2.3M535,694l3.5,6.4M756,709l2.7,-5.0M450,534l5.4,-4.3M668,639l7.5,-1.6M369,663l0.3,4.4M455,825l-0.2,6.3M367,797l8.0,0.7M270,782l3.6,4.0M620,427l1.2,-7.8M551,464l0.9,5.4M541,282l3.8,-5.2M745,719l-3.7,4.0M430,807l2.7,-3.5M658,448l0.7,-4.6M247,694l-4.0,-0.8M537,430l-7.0,2.3M752,754l-6.3,5.8M252,665l-5.3,7.1M246,772l-5.4,-0.2M562,355l-3.5,-6.9M408,573l4.2,2.5M793,748l-6.3,5.2M549,717l-6.9,-0.5M584,539l-2.9,2.9M630,427l4.2,-1.9M315,796l-5.5,-1.6M363,813l6.1,6.5M383,749l-2.4,-3.8M529,308l0.9,6.4M648,607l-5.0,6.7M392,739l-3.3,-6.7M494,418l-0.2,4.4M541,289l8.0,2.4M412,605l8.7,2.2M664,377l0.3,6.9M508,769l-6.1,-5.9M386,744l-1.3,-8.2M642,608l-5.5,1.7M677,386l1.4,7.3M487,850l-4.2,4.6M465,770l7.6,1.4M374,644l4.5,-3.0M648,455l-1.1,-6.7M297,793l-7.4,-0.8M467,809l-2.1,3.8M435,594l5.0,2.6M275,789l5.5,5.7M491,747l8.6,-0.0M542,689l7.8,-2.7M334,754l-0.6,6.2M373,837l6.9,-3.0M490,724l-3.9,3.9M644,707l-4.1,0.6M630,348l-4.7,1.0M750,750l-1.4,7.2M615,681l4.5,-5.6M508,421l3.5,7.8M532,551l-5.5,3.6M735,712l7.9,-1.7M569,386l6.0,0.9M539,406l-2.6,-4.3M568,567l-1.1,6.5M570,812l5.0,-0.8M512,825l4.9,-3.9M337,821l1.3,5.2M582,417l4.4,6.4M648,544l-1.9,-6.8M521,809l-6.6,4.4M590,654l2.0,3.8M581,443l-2.9,3.0M534,472l1.3,4.2M463,542l3.4,-2.8M495,848l1.0,5.4M284,732l4.0,4.7M386,658l4.0,-0.4M315,817l-1.9,4.0M409,555l2.2,-3.4M630,609l4.2,4.7M656,516l0.1,5.8M585,538l2.9,3.6M621,793l4.0,3.6M590,350l-4.4,-6.9M553,784l6.5,0.7M381,634l4.8,-7.2M660,505l2.3,4.5M374,705l1.5,-7.7M741,698l2.7,-7.5M610,767l7.0,1.2M496,814l0.7,-7.8M284,703l3.2,-4.1M606,621l-5.7,6.7M533,312l1.0,8.8M701,705l-5.1,-0.8M518,483l-1.8,5.1M787,731l7.6,-0.0M335,745l-5.0,0.7M669,625l2.4,3.7M310,694l3.5,2.1M588,644l3.2,2.4M334,692l6.2,0.4M220,701l-4.8,-1.0M754,712l6.8,-5.2M465,831l-0.4,6.5M658,700l7.6,-2.9M698,726l-5.0,7.0M486,852l-4.1,5.2M308,651l-2.6,-8.1M246,752l-3.7,-8.0M508,840l7.1,5.1M386,619l1.7,5.4M566,593l-5.9,-5.8M583,505l-1.5,7.3M255,688l3.9,-6.4M552,776l3.4,-4.5M741,702l-7.8,-4.3M352,741l4.4,1.9M517,395l5.8,-4.7M411,833l4.5,0.9M496,805l6.8,4.3M568,384l5.7,-4.7M527,517l-6.1,0.0M738,707l4.5,-2.1M542,364l-4.2,-4.0M406,839l2.0,4.4M374,796l-2.8,3.9M355,749l5.2,-2.6M507,366l4.6,-4.2M794,733l-3.9,-4.5M627,402l5.9,3.1M526,815l-5.2,5.4M553,804l3.4,6.4M547,823l1.8,5.0M324,796l-5.9,-1.4M658,512l1.0,4.4M301,842l-5.6,-2.8M632,702l-6.8,-1.4M347,799l7.2,0.4M618,532l5.1,0.3M648,710l-0.5,7.5M426,578l8.0,0.7M391,724l6.6,5.1M563,566l-4.4,5.2M380,642l4.6,-3.8M806,747l2.5,7.4M552,302l3.3,3.6M354,694l-6.2,-2.6M681,413l3.9,-1.7M605,382l-4.3,0.4M218,746l-7.0,1.0M635,389l6.8,1.6M588,707l-4.0,0.9M471,740l3.9,-4.6M540,802l0.8,4.1M481,759l5.1,-3.5M606,322l-5.3,-4.1M364,853l5.9,-0.5M562,359l2.2,-8.0M580,679l-4.3,-4.5M513,830l7.0,-1.5M705,698l-6.3,-5.6M302,704l5.2,3.3M311,834l-1.8,4.0M469,777l-3.8,-7.6M492,760l6.5,-1.1M565,740l2.2,6.7M657,467l7.0,-4.0M594,692l-2.2,-6.7M649,689l0.6,-5.7M651,614l-5.1,5.5M521,334l-2.1,7.1M606,490l8.9,0.0M516,817l3.4,-4.6M362,741l5.8,-5.7M656,590l-0.1,-5.3M369,681l-1.6,7.0M268,781l7.2,4.9M550,820l0.1,5.6M699,723l-8.5,0.9M302,697l1.5,6.6M370,656l0.5,5.1M393,782l-6.0,3.0M686,444l4.1,-7.3M642,452l-3.3,-5.2M306,685l3.2,-2.7M684,667l0.1,-6.8M336,779l3.4,-3.9M550,796l5.0,3.8M464,812l-3.8,6.6M268,667l-1.3,5.5M595,657l-5.1,-4.6M347,699l-5.4,-0.9M330,716l-2.7,-3.3M458,796l-3.9,-3.9M365,811l5.0,4.8M248,777l-3.8,3.1M356,807l7.2,3.2M558,398l-1.5,4.8M820,761l-5.2,3.0M323,763l-7.0,4.2M574,656l-3.2,3.4M587,577l-1.3,-3.9M636,470l-3.9,-2.2M393,584l-3.8,4.4M674,385l4.2,6.3M532,643l-1.9,-3.7M654,690l4.5,-5.1M531,320l0.1,5.9M615,348l3.3,-7.3M225,758l-2.5,-3.5M235,656l-3.9,-2.9M544,842l3.1,3.6M562,388l0.7,4.4M536,540l-3.9,3.0M556,519l-4.7,1.3M596,715l-1.9,6.8M599,606l-8.6,0.3M510,406l5.2,6.1M376,714l5.1,2.6M309,747l-6.0,1.1M518,407l4.4,2.2M360,751l4.3,4.2M643,326l-3.1,-2.5M576,773l-7.4,2.4M533,527l-6.9,-5.2M585,762l-6.4,-2.0M706,712l-6.1,0.8M335,769l0.8,6.6M527,293l-3.2,7.6M642,425l7.1,-0.6M652,758l3.9,-0.7M339,728l0.9,-4.0M441,750l-2.8,-4.7M791,733l-0.1,-4.9M449,849l6.0,3.1M584,423l-8.0,2.9M400,766l5.3,1.6M465,808l-4.0,7.8M647,442l-1.1,-6.8M586,569l0.1,4.0M399,843l-0.4,6.1M329,790l-1.0,-6.2M361,848l6.2,3.7M353,834l1.7,-7.2M465,426l-1.9,-5.4M370,656l3.2,3.4M393,735l-1.4,-6.1M579,825l2.7,5.8M274,710l-1.2,-4.1M383,781l-5.1,6.1M641,748l-2.0,-4.6M647,442l1.2,-7.0M280,737l1.9,3.6M339,802l4.8,4.4M416,746l2.4,-5.1M339,725l1.2,-4.1M252,721l-0.1,4.3M449,785l-0.1,8.1M652,732l0.0,-7.1M370,713l-7.0,5.1M569,809l3.4,5.4M559,483l-5.9,2.1M432,729l-2.0,-4.9M605,559l2.5,6.6M398,759l0.0,-9.0M550,456l1.9,8.3M350,690l-5.8,-4.6M592,492l-3.8,5.2M407,687l3.0,-4.4M561,717l1.7,5.4M540,334l1.9,6.4M437,834l6.8,-0.3M376,810l-4.6,-5.2M525,842l8.5,-0.2M593,542l0.2,4.7M343,679l-2.1,5.5M551,643l-5.8,1.2M277,733l3.4,7.7M381,621l-0.6,4.2M576,347l1.5,-6.6M667,350l3.8,1.6M723,700l-0.2,-5.2M568,357l2.1,-4.0M614,660l0.2,-6.8M565,534l-5.8,2.7M661,765l5.0,3.4M383,629l0.7,7.0M539,387l-7.1,0.5M496,418l-2.8,7.5M519,761l-3.6,-2.4M391,620l0.4,4.9M501,702l-6.4,3.9M377,771l-3.9,4.1M396,628l3.1,3.0M760,709l5.8,-6.5M480,845l-3.8,2.8M580,626l3.7,2.2M732,709l6.3,-3.0M647,396l6.5,1.3M651,658l4.4,5.9M560,356l-1.3,-4.8M666,488l3.1,5.2M641,475l-3.4,5.5M658,334l4.3,-4.3M333,679l4.0,-2.4M363,652l-7.3,-0.5M810,757l4.6,1.4M405,777l1.9,4.5M291,715l6.7,-4.2M597,695l-4.3,-7.8M618,700l4.7,4.5M682,611l8.1,1.2M449,816l-4.8,5.3M558,546l-4.9,7.0M459,419l-4.0,-7.7M264,668l0.4,5.6M515,855l2.9,5.6M293,679l-0.0,-5.9M437,613l3.8,-2.3M314,705l3.7,6.7M677,716l3.1,3.8M672,626l3.3,7.3M352,793l4.2,-1.5M639,342l-4.8,2.8M567,563l-2.1,3.9M600,586l-5.0,-5.0M310,693l4.9,2.2M662,726l0.7,6.8M512,444l-7.0,3.7M494,847l-3.4,5.7M426,771l-8.3,0.6M633,597l5.1,-2.3M387,644l7.4,-3.6M305,839l-5.3,-0.7M319,862l-5.3,1.2M302,713l-2.6,5.5M267,663l-3.7,6.1M594,361l-5.6,-6.9M298,690l-4.0,-1.0M246,788l-2.9,4.9M610,511l7.4,3.8M338,846l-4.6,-1.5M597,718l-1.5,6.1M550,491l-7.2,-3.8M540,630l-8.3,3.0M641,343l-4.7,3.7M215,721l-3.2,2.5M360,674l0.8,4.9M470,828l-1.5,5.6M685,653l0.3,-6.1M591,500l-0.9,7.2M601,605l-6.1,-0.6M590,696l-6.8,-3.3M413,711l6.4,-0.4M525,711l-0.4,9.0M432,593l0.5,5.1M233,675l-4.0,-4.1M317,682l6.1,-0.5M387,800l-2.8,-3.3M584,597l1.7,-8.5M578,741l-3.8,-3.6M698,740l-6.5,4.5M623,437l3.8,6.9M779,731l2.6,4.0M323,689l5.4,-0.5M573,725l4.6,2.9M477,780l-0.1,-8.5M764,724l-5.5,-6.1M607,590l-2.4,-5.7M503,815l-0.1,-7.5M628,400l3.0,2.8M510,745l-5.5,-4.9M252,785l-1.6,5.9M540,304l4.9,3.3M499,826l1.9,-6.6M230,765l-4.1,1.5M769,741l-2.0,3.5M628,408l1.0,-4.9M235,657l-5.8,0.9M642,533l6.3,2.4M598,607l-3.9,4.9M473,417l-1.9,-5.7M621,694l4.6,0.6M664,460l5.8,-3.6M402,855l1.7,6.5M319,732l-4.3,-5.3M565,788l6.4,-1.3M505,723l-5.6,6.1M605,659l-1.9,-5.0M558,656l-1.8,7.8M600,393l-2.9,7.3M540,782l0.5,-7.4M413,654l6.6,0.7M634,757l-3.6,-4.2M417,772l4.6,1.3M450,550l5.2,-3.9M384,604l0.9,-4.1M282,730l3.9,5.1M398,702l3.3,-7.6M631,538l8.2,-0.7M395,740l-0.1,-4.4M527,844l4.2,1.4M600,603l-5.2,2.7M459,756l1.9,-7.0M497,355l-3.3,-3.6M608,430l-8.7,0.3M319,759l-2.6,3.8M561,429l8.5,2.8M572,555l-1.0,6.2M320,853l-5.6,-2.4M594,750l-2.4,-6.5M510,812l5.1,-5.8M633,563l2.3,-6.6M581,489l-8.1,-2.7M537,527l-6.0,-3.3M642,476l-5.8,3.5M778,727l6.2,-6.2M656,529l-0.3,6.9M748,759l-0.3,4.3M291,821l-4.2,3.4M610,486l7.1,-4.6M641,414l5.5,-2.5M390,774l-6.0,3.5M556,779l5.0,-3.4M653,724l3.1,5.7M492,427l5.4,-5.7M588,653l0.7,4.0M394,666l4.9,3.4M610,800l1.1,5.8M270,746l-3.5,7.5M616,428l-7.9,-2.0M660,595l-2.2,-4.5M565,585l-2.9,-5.4M550,549l-2.3,5.2M465,807l-5.1,4.5M569,423l4.6,-2.9M275,661l5.3,1.6M245,748l1.3,-3.9M783,759l-4.3,1.3M257,741l-0.2,-4.2M541,664l6.2,-4.7M391,692l4.9,-1.4M748,715l-5.2,-4.3M391,845l-5.2,4.2M604,749l1.4,-8.8M652,387l6.6,-2.2M643,735l1.3,-4.9M545,786l3.8,-2.2M670,729l-0.8,5.7M376,873l1.4,4.9M240,712l-6.5,6.1M648,512l2.3,7.9M465,401l-4.9,4.8M310,723l5.5,-0.9M779,753l-1.3,6.4M253,745l-3.3,-7.7M275,716l-3.2,-5.4M473,773l4.8,-0.2M273,709l-3.7,-5.3M624,512l4.0,4.4M456,435l-7.0,-2.5M563,701l3.4,-4.3M548,800l3.3,5.0M313,760l-5.7,6.4M515,539l-4.6,-1.4M585,358l-8.3,-3.4M669,492l5.2,6.9M643,606l-3.8,1.5M513,840l5.0,-1.0M645,329l-6.8,-2.6M603,748l0.6,-5.1M650,422l4.3,3.8M462,769l4.3,-0.5M413,754l5.6,-1.6M370,846l6.7,-2.7M527,728l-7.7,3.5M444,809l-4.4,3.0M652,478l-0.8,4.4M356,709l-4.2,0.3M652,471l6.6,2.8M501,778l3.7,-3.7M650,331l-8.1,-2.3M632,775l-1.3,5.3M571,626l-1.9,6.3M673,681l-2.4,4.1M596,808l-2.9,5.5M523,291l-7.8,2.5M638,532l5.3,0.2M333,825l0.3,8.9M367,772l-8.4,0.4M662,604l1.6,7.5M642,449l0.7,-8.1M338,704l-4.4,-1.6M483,804l8.1,1.3M463,798l-7.4,2.2M762,761l-1.8,7.9M600,482l4.3,-6.3M535,675l0.7,-4.5M568,673l-5.4,-3.2M623,713l5.0,5.4M271,661l6.6,3.4M417,698l3.3,-3.0M666,556l0.8,-8.4M367,664l-0.6,5.1M661,373l-2.0,3.6M662,511l1.5,8.1M399,660l7.8,0.3M621,406l4.7,-7.6M307,807l-4.9,2.9M519,739l-3.9,1.7M497,425l4.1,-3.7M351,842l1.5,-7.9M555,399l-4.3,1.8M314,760l-5.7,3.4M628,793l-3.4,2.3M722,730l6.6,5.9M410,865l1.4,8.1M580,462l1.6,-7.4M569,555l0.7,6.6M499,808l3.3,-3.0M536,297l4.2,3.0M594,565l0.7,7.3M564,774l4.0,-4.2M703,710l-7.3,1.1M500,386l-0.1,-6.0M596,769l-3.4,7.7M513,766l-4.5,-4.5M225,675l-2.6,-3.5M389,835l-5.5,1.6M605,351l-5.7,-6.0M384,731l1.5,4.0M260,741l-8.5,1.2M421,814l3.2,-7.9M650,671l-7.8,-1.2M372,801l-7.2,-4.2M610,603l-4.3,-0.8M824,752l-5.0,0.1M612,758l5.2,-1.9M528,510l-5.0,-1.1M602,598l-3.9,-1.0M391,856l-1.1,5.7M272,721l-7.7,0.3M302,763l-4.5,4.5M377,604l-7.0,-5.1M557,423l5.6,-3.2M320,813l-4.3,7.2M740,756l0.7,5.0M614,385l7.8,4.3M534,414l-0.5,-4.7M409,601l6.5,-0.1M737,712l4.6,-0.7M451,795l-5.5,1.1M362,639l-6.5,-5.6M562,821l3.4,2.5M624,435l4.7,6.1M583,533l-2.6,3.8M647,638l4.7,-0.1M633,568l2.9,-6.1M803,757l-1.9,4.5M551,507l-4.5,-2.0M595,534l3.6,3.7M518,307l-2.8,4.0M607,774l3.0,6.1M629,345l-7.0,1.5M512,373l-1.1,-7.7M423,648l6.7,3.5M389,712l4.2,-0.1M621,417l0.9,-6.7M533,791l-5.3,-1.8M599,768l-0.3,5.9M659,704l6.9,4.7M497,398l-4.2,6.5M491,776l7.1,-2.5M676,688l-0.2,4.8M511,849l3.4,8.3M343,843l-5.7,-3.3M631,693l-3.1,-3.3M361,671l-3.3,6.5M726,707l1.6,-8.1M340,814l0.6,5.5M473,786l-2.4,-5.3M325,870l-4.0,6.6M507,855l4.9,6.9M262,794l0.8,4.1M225,781l-4.1,0.4M361,744l8.8,-2.0M504,837l3.3,7.2M412,797l1.8,8.4M411,837l6.2,-0.7M737,726l-6.6,4.3M666,688l-7.5,0.8M387,724l7.1,4.4M618,381l8.5,0.4M371,805l-5.0,-4.9M538,802l-3.1,4.3M571,812l1.9,3.9M541,831l0.1,7.8M591,428l-4.3,-2.6M559,781l5.6,-5.0M492,404l-6.5,6.1M478,770l-0.7,-8.6M540,724l-4.5,1.7M355,626l-0.5,-5.3M694,740l-3.0,3.9M593,618l6.6,-2.3M283,711l4.0,-2.3M790,760l-2.2,3.5M614,619l-0.3,7.1M513,472l1.7,6.6M600,691l-0.3,-8.3M249,704l-4.1,5.9M695,712l-7.7,-1.9M822,755l-7.8,4.3M589,346l-4.6,-0.6M680,372l2.1,3.6M652,713l-1.9,7.3M489,744l3.8,-1.9M561,340l3.2,-7.6M762,706l4.0,-3.2M530,472l-4.3,3.7M571,569l-2.5,6.1M302,766l-6.7,4.5M376,612l-5.0,-1.2M653,348l1.5,4.2M398,613l5.6,1.7M600,480l2.5,-5.1M512,780l-5.8,-4.4M539,787l-2.0,-3.5M629,346l-8.1,3.6M513,727l-3.2,6.4M596,523l4.0,-3.7M295,687l-7.2,-4.4M493,814l-4.6,-1.7M533,501l-4.4,-0.1M373,756l-4.1,-0.7M259,771l6.7,-0.9M528,672l-5.4,-6.6M506,769l-8.1,-2.3M437,738l-7.8,-3.9M672,654l-2.2,-7.5M261,762l5.4,-3.3M526,420l-4.9,-1.8M283,797l5.7,0.9M525,685l-6.2,-0.7M460,792l-1.5,-4.4M362,768l5.2,6.6M573,722l5.4,1.8M405,563l-2.4,-6.8M619,411l1.0,-5.2M557,756l5.5,-5.1M528,356l-3.3,-3.8M652,592l-0.7,-6.5M542,286l3.3,-6.9M520,837l5.7,0.4M437,607l3.7,4.6M406,823l5.8,-3.3M245,796l-2.7,5.2M640,708l-3.3,2.4M427,739l-4.3,-6.1M494,756l6.4,-1.4M592,506l-1.4,4.2M561,642l-3.2,5.0M268,656l8.1,-0.7M259,726l-5.1,0.7M304,772l-1.5,-4.8M562,724l1.7,4.0M315,687l7.1,0.6M572,351l-0.1,-5.2M239,673l-3.4,-6.5M235,796l-3.6,4.9M291,706l3.0,-4.5M678,406l8.4,-2.3M424,842l5.4,5.0M580,731l6.7,4.6M307,685l4.8,-0.7M347,825l-1.0,-6.3M549,366l-4.2,-3.1M398,841l-5.4,5.4M594,721l-2.2,6.2M744,709l-5.0,-4.5M429,816l6.2,2.4M563,391l-2.1,3.5M517,789l-4.4,0.4M580,529l-6.7,-2.2M665,461l5.0,0.5M634,337l-7.4,1.6M600,473l-3.0,-6.8M524,383l2.8,-5.9M554,579l-2.9,-8.0M425,752l-5.1,-3.0M601,536l6.1,5.8M419,719l7.7,1.2M626,548l6.5,-0.1M658,356l0.4,4.4M565,557l-2.2,4.1M436,588l7.6,-0.2M308,709l4.6,3.8M650,475l-3.0,6.2M543,671l5.5,-5.3M639,460l-2.8,-4.6M348,736l6.8,-5.9M635,395l5.9,5.0M584,336l-3.6,-4.3M231,766l-5.0,-0.6M272,734l-0.5,5.4M582,385l5.3,-1.1M219,692l-4.0,-2.3M579,540l-2.1,4.6M557,512l-4.4,-4.3M405,715l6.1,-0.6M632,519l6.4,2.3M626,399l-1.2,5.2M678,738l4.0,-2.4M539,540l-4.3,2.0M563,359l0.3,-6.4M416,861l1.2,8.4M394,833l-3.7,2.4M605,444l-4.6,6.1M653,722l1.2,6.1M356,628l1.2,-8.3M674,466l5.5,-1.3M415,869l0.9,6.3M381,631l-3.4,5.7M546,415l1.7,-4.7M570,389l7.7,3.6M522,355l0.8,-8.9M365,605l-7.6,-2.4M645,720l-0.6,7.9M618,376l4.2,-1.7M607,452l-5.4,6.9M477,413l-0.8,-5.9M626,400l4.3,7.6M663,618l-4.3,4.9M304,691l4.7,5.4M577,521l-5.2,-2.3M556,720l-3.8,3.5M632,760l-8.1,-0.8M762,721l7.1,1.7M609,602l-4.6,0.8M543,287l4.8,-1.1M426,652l2.4,3.9M638,679l-1.9,-8.6M666,604l4.5,0.5M380,580l-6.4,1.7M541,835l5.1,-0.1M280,678l-6.8,-3.0M331,751l-8.2,2.8M492,386l-3.6,-4.0M686,703l3.1,6.3M415,792l3.7,2.0M375,646l3.8,-7.9M399,826l2.5,-7.9M506,397l8.5,2.3M263,779l5.3,7.1M614,608l-6.0,5.9M531,696l5.6,7.0M669,465l7.1,-2.3M536,643l-5.0,0.4M281,667l4.0,2.2M749,760l-1.4,6.3M575,679l-4.9,-3.4M314,769l-3.7,-3.4M396,627l2.7,3.7M562,358l1.9,-6.5M542,547l-4.1,2.8M521,483l-6.4,5.8M260,787l3.3,7.0M595,769l-2.8,4.2M289,725l8.2,1.4M681,615l1.9,5.3M316,783l-4.1,-1.3M402,790l-1.0,4.8M587,415l-6.0,-3.4M457,836l-1.0,6.0M600,566l-1.8,-6.4M680,470l6.4,-3.3M600,511l1.8,3.6M572,642l-3.9,6.1M819,765l-5.0,4.8M521,717l-4.9,2.9M604,482l1.9,-6.2M323,742l-6.5,-2.9M414,863l3.3,6.9M775,729l-3.4,4.6M666,761l7.1,0.7M535,794l-3.6,3.3M293,822l-3.4,2.5M314,821l-3.6,4.3M507,819l0.2,-8.0M503,544l-7.8,1.8M319,732l-1.0,-5.4M697,733l-2.5,4.2M657,358l1.9,6.5M486,794l6.0,-2.1M489,845l-4.5,5.7M607,378l-6.3,-5.8M354,703l-7.0,-3.2M361,788l6.0,-0.3M828,753l-2.2,7.0M580,537l-2.9,3.3M472,752l4.5,-5.7M640,678l-6.4,-1.5M398,784l0.7,4.0M731,707l5.7,1.7M223,755l-4.3,-0.3M776,739l-2.1,6.0M517,824l7.0,-2.1M624,454l2.5,6.9M467,784l-1.4,-7.9M656,390l6.5,3.1M620,624l0.9,5.0M462,420l-2.4,-3.8M414,839l3.4,6.4M433,582l4.4,1.4M686,718l-3.8,2.9M280,731l-1.6,5.2M496,723l-6.6,3.7M618,478l4.6,-4.4M486,761l5.0,0.5M361,874l5.0,6.5M378,601l-3.3,-2.9M633,372l7.0,-2.1M436,830l4.3,-2.2M378,622l-2.8,6.9M510,811l0.3,-5.3M602,616l-5.2,1.6M687,440l3.5,-3.6M535,804l-0.4,8.6M264,654l-3.8,-2.8M611,674l1.1,-3.9M569,652l-2.2,3.6M317,811l-3.8,1.3M627,437l4.7,4.7M596,706l-3.4,5.0M640,647l-2.4,5.4M661,610l-0.9,8.8M607,687l-4.8,-1.0M656,341l6.6,6.1M831,752l5.0,1.6M606,666l-2.1,-4.7M677,630l3.2,4.1M544,799l2.2,4.8M323,787l-4.9,-3.7M330,872l-5.3,5.5M595,732l-0.6,-8.2M540,506l-7.0,-4.4M342,753l4.0,6.1M468,792l-1.5,-3.9M418,680l2.8,-3.3M610,407l1.3,-5.1M800,736l-7.2,-1.1M645,327l-5.2,-3.1M426,639l6.4,1.9M245,770l-4.0,-0.7M262,743l-2.0,-7.7M637,627l3.1,-8.0M637,454l-4.8,-6.0M434,588l5.9,6.0M454,413l-3.8,-7.1M245,729l-3.5,7.1M527,482l2.1,5.0M332,833l-0.7,-6.8M771,750l4.0,7.4M319,661l2.3,-4.6M271,644l-2.8,-6.0M503,839l3.4,3.4M791,772l-7.1,2.4M571,391l7.7,0.3M522,308l-2.1,4.8M287,751l-0.7,5.4M648,491l0.7,4.4M389,831l-6.8,-2.7M636,324l-6.9,-0.6M523,754l-2.7,-4.7M323,710l3.8,8.1M668,695l-2.7,6.9M352,766l4.0,6.5M379,734l2.7,6.9M394,828l-4.0,-2.1M663,421l6.5,-4.8M534,647l0.2,-4.8M450,798l-6.0,-0.1M577,380l5.0,-1.4M627,629l-4.2,-2.8M388,612l6.6,2.0M479,755l5.3,2.3M660,343l4.9,4.9M602,324l-5.1,1.3M634,471l-8.1,1.3M547,727l-6.8,5.0M485,823l-2.9,-3.2M654,596l-6.0,-1.7M598,472l-0.9,-3.9M767,723l-6.3,-2.2M536,712l4.3,7.6M518,410l2.6,3.6M534,833l4.0,2.4M537,660l1.5,-5.5M598,468l-0.3,-5.3M656,603l-4.5,6.6M596,559l1.2,7.7M569,345l-0.3,-6.5M270,764l4.3,-1.5M615,718l3.7,2.2M599,537l3.9,3.0M560,387l-3.5,4.5M512,687l-6.4,-2.4M247,773l-3.6,2.8M324,702l4.2,1.1M401,757l2.1,-4.7M756,715l8.4,-2.6M561,710l-0.3,-5.1M452,769l3.6,7.8M518,395l4.8,-0.6M296,762l7.1,-2.7M383,834l-9.0,0.2M404,869l0.6,5.0M503,740l-5.7,4.6M678,678l4.3,-3.7M659,530l2.3,6.8M506,846l2.1,7.0M435,775l-2.4,6.2M635,496l-2.9,4.9M546,614l-4.4,1.5M717,703l-6.3,-4.1M541,484l1.5,5.5M304,756l-7.3,4.9M583,575l-4.7,-2.3M509,403l1.9,4.5M608,387l0.6,7.9M453,836l-1.2,4.7M664,459l2.9,-3.3M530,848l3.8,1.2M629,645l-6.5,5.2M295,688l-5.8,0.3M371,814l-7.0,-3.4M596,387l-8.4,0.1M559,807l3.3,3.0M675,650l0.4,-6.8M359,722l-3.1,5.1M417,859l4.2,6.2M651,719l5.7,6.4M487,408l-4.6,5.5M244,689l-6.2,-2.3M370,601l-3.6,-3.1M491,389l-4.0,-6.2M378,782l-4.7,0.9M567,603l-4.4,-2.5M579,479l-4.4,-2.8M653,697l3.0,-5.1M612,806l2.3,5.6M391,565l-7.7,-4.4M560,542l-2.9,3.5M523,401l4.0,1.8M497,742l5.3,-2.2M576,407l2.9,8.0M550,652l-0.3,5.0M429,602l3.5,8.2M643,468l-4.5,-4.0M627,597l5.2,-2.2M600,623l6.2,6.2M469,798l-3.9,-5.8M584,708l-7.9,-1.4M562,327l1.5,6.9M305,754l-4.5,-2.2M561,771l5.2,-6.5M251,670l-6.2,2.5M387,613l2.3,3.4M618,733l2.4,-4.9M529,351l-4.4,-3.3M466,766l5.8,2.4M515,269l-3.3,-2.4M609,386l2.0,7.1M308,738l-5.7,0.0M349,840l0.9,-8.4M627,689l7.0,-2.1M579,404l2.3,6.3M660,625l1.1,3.9M605,354l2.6,-5.2M557,672l6.2,-2.9M645,406l4.6,-3.3M273,669l3.7,6.7M494,750l4.5,0.2M655,651l5.7,5.1M396,666l3.7,1.5M416,572l4.9,-3.8M751,707l1.0,-5.8M589,544l2.4,3.5M590,448l-8.2,2.6M707,691l-4.8,-3.2M371,706l0.3,-4.9M818,753l-8.9,-0.0M473,386l-4.2,-1.2M584,549l-7.8,4.4M487,843l-4.5,3.4M826,763l-2.9,6.8M556,689l7.4,-2.5M378,744l-3.7,-2.2M566,477l-8.1,-2.6M370,816l-6.4,2.2M399,609l5.2,-3.3M543,360l-3.3,-5.2M223,717l-6.6,4.7M418,673l5.7,6.1M278,652l8.5,-2.3M396,835l-4.7,5.9M682,377l1.6,4.4M369,628l3.1,-8.3M290,670l-0.3,-8.1M345,758l1.7,4.3M598,419l-7.7,-2.9M641,691l-7.1,-0.2M450,802l-4.9,-0.9M626,587l2.8,-4.3M294,794l-8.7,-2.2M522,736l-3.3,2.7M591,487l-4.7,-1.1M499,725l-4.3,2.2M481,801l3.5,3.5M684,452l7.8,-3.5M569,332l-1.0,-7.6M488,805l6.6,-1.7M609,463l2.7,-7.7M405,682l4.0,-2.6M665,438l4.2,-5.4M378,622l-6.9,5.3M689,656l2.2,-4.2M785,745l7.0,4.0M321,702l5.0,3.2M608,444l-4.4,4.5M490,396l-4.9,-2.0M589,660l-3.2,-2.6M620,375l8.8,-0.2M348,746l6.2,1.4M410,726l8.4,0.2M603,520l8.8,-0.4M297,687l-6.3,-4.7M368,618l-7.7,4.2M650,467l-1.2,-8.9M284,725l4.6,6.8M378,701l2.4,-3.5M766,725l-5.6,-1.6M373,862l4.5,5.9M369,874l1.8,5.7M556,726l-1.6,7.0M412,833l6.5,-0.6M336,779l0.1,-7.3M669,635l5.3,-2.3M302,800l-7.4,-4.0M590,437l-6.6,2.5M296,652l5.6,4.6M251,697l-5.0,-6.7M403,863l3.2,8.3M520,457l-4.5,7.3M540,425l-6.9,-3.9M443,564l4.1,-2.5M421,729l5.3,-6.9M566,557l-4.0,8.0M623,489l7.1,-2.1M555,786l7.6,-2.8M419,643l6.0,1.6M411,864l0.2,6.2M366,627l-1.4,4.4M651,472l2.3,6.5M551,514l-5.9,-4.4M511,314l-3.5,3.7M540,458l0.1,4.9M611,808l1.3,7.2M581,400l6.9,4.7M373,853l8.0,1.8M376,640l3.6,-4.9M664,430l6.4,-6.0M568,491l-7.1,-1.5M598,384l-5.5,4.1M576,749l-5.9,-0.9M609,338l5.1,-6.5M529,682l0.4,-7.9M252,656l-7.4,-0.8M836,764l0.1,4.5M620,553l5.5,3.0M392,617l6.1,2.5M268,642l1.1,-4.3M676,591l2.2,-5.9M464,844l-3.3,2.6M507,434l5.1,-2.5M665,652l7.5,3.0M652,738l0.2,-8.1M635,470l-5.5,1.0M581,410l4.8,6.6M641,541l8.3,-0.3M757,746l-4.2,1.0M245,755l-1.0,-6.4M619,378l7.1,1.0M445,740l-1.9,-6.2M552,770l4.4,-3.7M303,729l5.4,2.0M528,720l2.5,4.1M629,752l-6.3,-2.2M534,827l0.4,4.2M428,571l4.2,1.0M539,789l-4.3,-7.6M585,684l-3.8,-4.7M478,823l4.4,4.7M539,526l-4.9,1.6M446,851l7.4,1.3M215,737l-5.2,6.8M532,770l-0.5,-7.7M494,826l-0.7,-6.3M333,838l-4.3,-4.8M393,845l-5.9,3.8M298,653l8.8,1.2M561,378l-2.8,-4.1M550,838l3.8,3.2M591,539l3.9,4.8M421,795l3.7,4.0M541,296l6.5,5.1M447,819l-4.2,1.8M516,812l2.7,-4.8M664,434l0.7,-6.5M644,337l-5.1,-0.0M589,707l-4.5,1.0M428,622l3.9,-1.8M399,837l-4.3,7.8M546,393l-6.9,-0.9M516,396l6.1,0.7M246,653l-5.7,-3.2M469,807l-3.6,5.5M816,754l-6.4,2.4M527,280l-2.6,-4.5M550,653l0.0,-6.1M570,370l-0.0,-4.2M517,703l-5.7,3.1M599,331l-3.1,-8.1M637,594l5.3,-3.0M592,420l-5.9,-2.8M547,347l-4.2,-6.9M823,750l-6.9,-1.7M586,586l5.1,-5.7M610,370l-1.5,-6.0M464,789l-1.6,-7.5M656,702l4.3,1.7M398,751l0.1,-5.7M422,716l7.8,1.0M562,598l-4.9,-3.0M532,320l2.0,8.3M649,446l2.8,-5.0M478,833l-5.7,4.6M522,282l-5.7,-2.0M262,693l2.4,-3.9M802,752l-1.9,7.2M233,677l-5.0,-4.7M280,734l1.8,7.0M650,750l3.4,-3.0M537,721l-6.3,-0.3M575,389l7.6,1.2M384,835l-3.1,2.8M573,803l4.1,0.9M442,772l-6.1,0.7M653,710l-2.7,5.6M623,337l-4.9,4.4M639,439l7.0,3.7M594,444l-5.3,1.9M576,522l-4.8,-1.0M410,560l3.1,-5.8M756,719l8.6,-0.8M512,845l3.1,4.6M586,518l1.2,-5.8M529,316l-0.2,8.9M714,705l-4.3,1.2M395,628l0.8,6.6M596,705l-1.7,5.7M581,451l1.4,-3.8M602,540l4.3,1.0M659,659l-1.7,-4.6M813,751l2.4,4.1M413,862l2.2,3.6M641,647l1.1,6.6M625,421l1.9,-5.7M575,629l0.4,6.4M539,526l-5.7,0.8M320,827l-2.4,3.3M651,341l-3.9,4.7M588,664l-5.1,-7.4M531,290l6.4,1.8M671,697l-0.5,5.4M615,457l1.8,7.2M572,752l-5.6,-4.0M702,705l-8.0,-2.4M675,639l5.3,-1.3M574,514l-4.3,-3.7M517,428l-6.8,0.7M254,807l2.3,5.4M744,719l-4.8,0.0M655,450l-1.1,-7.5M270,763l4.8,1.5M326,756l-5.2,4.4M544,335l-1.9,7.0M595,488l1.9,-6.0M631,585l2.8,-4.3M583,408l6.0,4.7M514,329l-2.1,6.4M520,348l-0.7,-6.9M529,294l-6.6,5.7M652,630l4.9,-1.7M606,753l3.1,-7.5M521,355l2.6,-5.5M258,705l5.8,6.5M622,669l3.7,-4.8M285,704l3.8,-6.6M652,708l2.2,6.5M220,698l-6.4,-0.3M421,649l4.2,7.4M624,670l4.0,-5.6M429,595l6.3,4.8M416,743l7.3,-4.6M304,690l5.2,-0.8M227,783l-3.7,4.2M542,311l3.5,3.9M694,720l-7.3,3.5M644,402l5.1,-2.1M527,428l-5.1,-1.8M662,486l2.2,4.9M466,810l-0.8,7.8M227,691l-4.3,-7.5M594,718l-1.6,7.4M600,704l-2.3,3.9M527,685l-6.5,-3.2M555,651l-2.3,3.9M414,669l4.0,0.6M581,402l3.8,4.3M389,813l-3.0,-5.8M553,789l7.8,-2.0M646,556l-2.2,-4.6M562,564l-2.8,3.2M759,707l5.8,-1.2M366,849l8.2,-2.2M293,665l-4.2,-6.2M626,791l-2.4,6.0M729,709l4.8,-1.5M653,643l4.5,1.7M527,275l0.6,-8.4M626,373l6.2,-2.3M215,746l-5.1,-2.4M460,798l-7.9,-3.8M482,824l-4.6,-5.6M585,480l-4.0,-7.5M417,576l4.2,0.1M652,505l0.2,7.9M643,759l4.0,-6.1M529,763l-3.2,-4.7M792,736l-4.2,-3.2M293,794l-6.2,-3.2M662,499l2.8,5.9M598,564l-0.7,6.4M542,667l1.5,-5.9M635,638l-5.5,-5.0M620,405l-1.1,-5.0M668,710l5.2,2.9M604,447l-8.5,2.5M546,329l-0.3,7.7M271,750l5.8,-2.4M629,454l3.6,6.8M544,476l-2.4,6.2M408,835l6.7,2.8M294,654l4.5,2.2M590,569l2.8,5.0M363,756l7.2,2.9M666,344l6.8,3.6M560,362l3.6,-7.3M809,770l-3.2,3.6M575,521l-4.0,-2.7M575,338l0.2,-5.0M783,727l5.4,1.6M502,406l0.5,5.1M501,711l-5.7,3.8M415,638l6.3,5.4M600,793l-3.0,5.6M562,777l4.8,-1.0M428,829l6.5,-3.5M578,486l-5.0,-3.1M425,567l5.5,-0.3M597,754l-3.3,-6.3M620,417l-0.5,-5.8M617,372l1.0,-8.7M595,414l-5.6,-4.4M279,651l8.1,-2.2M565,315l4.6,4.0M544,805l1.4,4.6M441,763l-6.4,-1.6M313,825l-5.2,4.6M630,418l2.9,-7.8M399,690l3.6,-3.1M389,722l3.1,2.6M627,543l7.2,2.0M461,858l-4.7,-1.4M431,802l-4.6,-4.2M633,325l-6.1,1.7M619,561l-1.5,-6.4M627,327l-2.7,-4.0M575,491l-4.4,2.9M724,711l6.2,3.2M533,796l-3.9,1.1M343,722l1.1,-8.2M422,787l5.5,5.3M647,572l-3.0,-8.0M599,525l4.9,-1.0M243,656l-7.2,3.4M226,682l-3.5,-3.2M574,403l5.6,3.7M404,561l-1.7,-8.5M535,502l-5.2,-1.0M661,489l-2.5,5.4M540,681l1.2,-5.0M833,745l3.1,-8.0M522,523l-6.9,-0.9M518,295l-5.3,0.7M819,731l4.9,-4.4M669,742l3.7,-1.6M674,483l5.7,1.9M392,836l-3.5,2.8M245,693l-3.5,-6.4M327,813l-5.1,4.6M608,391l1.0,4.0M820,750l-3.7,-2.2M263,733l-5.3,2.5M593,477l1.7,-6.8M555,744l-2.8,5.4M240,704l-4.2,2.8M667,601l6.6,3.0M344,713l-3.8,1.7M620,744l-3.6,-3.7M594,686l-2.7,-6.0M661,599l5.6,-4.9M354,710l-5.5,-4.3M580,689l-5.8,-0.4M480,837l-7.0,-4.8M591,670l-2.3,-5.6M600,642l1.4,3.9M647,563l-4.2,-6.1M623,780l-5.2,6.2M618,704l0.2,7.7M313,841l-6.2,-1.2M319,759l-7.7,4.5M306,783l-5.8,-2.7M571,460l-2.2,-7.4M574,455l-2.8,-7.0M628,616l1.8,8.7M327,810l-0.5,5.7M242,762l-6.1,-1.7M649,709l2.1,6.6M688,683l3.8,4.0M577,597l2.4,-6.1M726,704l2.1,-4.8M674,420l6.8,-0.7M487,795l2.0,-3.5M466,797l-5.1,-3.7M225,734l-3.2,5.2M409,812l-0.6,-4.1M551,714l-5.2,-1.9M535,456l-3.9,7.7M501,419l7.2,4.8M350,798l5.9,-1.3M420,610l6.1,1.1M494,399l-3.2,3.8M388,867l-2.0,7.2M599,387l-4.1,4.6M779,740l4.2,6.6M362,656l-4.3,2.6M592,713l-5.6,1.6M662,702l6.1,-2.1M561,348l3.2,-7.9M605,387l-6.2,2.7M434,557l8.4,-0.4M491,778l3.5,-3.8M580,538l-1.5,4.4M385,599l-1.8,-5.1M660,668l-3.8,-2.1M563,720l4.6,5.0M464,406l-6.5,5.5M268,725l-7.0,5.5M586,706l-4.9,7.5M546,422l4.7,-0.8M603,495l6.5,2.2M263,730l-6.1,3.9M651,440l0.2,-8.1M632,631l-6.3,-3.6M534,797l-2.9,6.3M559,373l-0.2,-4.4M605,564l0.1,-8.9M495,404l-0.7,7.3M736,704l8.8,2.0M601,600l-6.9,-2.0M657,329l1.0,-3.9M756,717l2.4,-6.3M593,675l-8.5,0.9M663,414l7.3,2.3M382,615l-6.0,5.2M546,334l2.8,8.0M520,455l-4.0,4.7M447,760l-4.3,-4.4M379,740l6.2,5.9M829,744l-2.9,-6.1M633,361l7.4,-3.1M216,722l-7.6,0.3M597,495l2.1,5.5M770,761l-0.5,4.9M550,449l4.4,3.6M540,374l-4.6,-4.4M682,728l4.0,5.0M545,515l-4.1,-1.3M357,622l-5.8,2.2M640,699l-8.3,-0.5M261,729l-3.2,5.0M567,402l1.5,5.1M415,635l2.6,4.8M412,566l6.2,-4.5M444,867l5.0,5.5M724,733l-1.3,8.3M620,540l6.3,3.6M658,413l6.8,-3.6M593,503l-1.8,4.2M570,707l5.4,-0.4M553,568l-1.2,4.0M675,678l-1.1,-7.6M659,404l6.4,-4.0M632,424l7.9,-2.1M600,709l2.6,5.8M512,701l-8.0,1.1M657,357l2.5,8.0M525,288l-7.1,-1.9M610,527l7.7,1.5M561,412l-1.4,7.4M536,635l-8.1,0.5M388,869l0.2,4.3M280,681l-6.6,-3.1M411,594l1.5,8.8M284,679l-2.5,-6.0M623,588l3.1,-3.4M239,717l-2.2,4.5M271,649l3.0,-6.8M800,750l-3.6,4.0M324,761l-4.3,4.7M366,666l-0.5,5.4M552,321l0.6,6.4M266,685l3.8,-3.6M379,831l-5.1,2.5M600,724l1.2,5.2M278,659l5.1,3.8M521,294l-4.9,1.5M382,664l6.0,4.3M348,809l4.9,5.7M368,830l3.2,-3.2M543,659l5.7,-6.6M428,832l6.3,-1.2M278,776l3.1,3.4M562,770l2.7,-6.0M260,770l4.2,0.7M290,769l4.5,0.5M334,755l-4.8,3.5M245,703l-8.6,0.9M412,730l1.6,-4.7M620,800l-1.9,4.8M331,822l3.1,5.1M503,390l2.7,-8.2M537,782l-2.1,-3.4M527,390l5.0,0.0M275,650l5.3,-2.5M247,699l-5.3,-2.3M634,604l6.4,2.7M578,540l-5.0,6.0M555,583l0.4,-6.3M616,619l0.7,8.8M647,510l-3.0,4.9M381,624l-0.7,5.2M442,592l6.1,1.5M377,626l-5.0,4.3M614,775l2.4,4.9M511,839l6.8,5.6M435,846l6.8,3.5M646,448l0.5,-7.8M402,867l-2.0,5.4M681,676l6.4,-1.7M572,822l4.1,2.2M685,666l2.4,-4.0M596,702l-1.6,3.8M593,789l-3.3,6.3M634,776l-1.5,6.1M521,742l-4.1,0.0M529,796l-5.0,0.7M474,821l-1.5,8.7M539,547l-7.5,1.9M562,653l-1.9,5.3M508,814l-1.9,-6.8M599,557l5.4,6.7M367,671l-1.0,4.4M637,424l5.3,-5.1M543,698l6.7,5.9M361,716l-5.4,3.2M534,677l2.7,-8.6M535,793l-4.0,-0.1M524,744l-1.3,7.8M347,832l0.6,-6.5M250,650l-5.1,-1.8M470,788l1.3,-4.7M641,771l-1.3,4.2M312,832l-2.9,7.9M619,509l3.7,1.7M533,295l-1.1,7.1M597,755l0.7,-7.9M480,830l-5.0,1.2M385,808l-3.0,-5.6M506,322l-3.4,6.4M547,486l-2.9,-6.2M312,745l-7.2,-3.1M601,809l5.1,6.3M263,696l7.2,-2.8M336,867l-0.7,5.1M394,820l-2.3,-6.8M404,734l-0.3,-6.0M595,744l-0.3,-8.3M310,813l-3.8,2.7M424,671l5.6,3.4M574,378l5.7,-5.0M615,364l0.6,-5.6M513,836l4.6,6.7M443,555l4.4,-4.2M451,575l7.6,1.2M750,730l2.3,8.2M591,566l-1.2,7.4M484,790l5.8,-3.2M783,767l-4.8,6.5M526,276l-2.4,-8.0M779,728l5.1,-2.2M495,427l4.6,-6.3M715,708l-3.6,-2.0M558,424l5.6,-6.9M489,758l6.3,-2.5M674,638l7.4,-4.0M496,764l7.1,-2.8M548,791l5.5,1.4M391,831l-3.4,4.3M532,758l-1.2,-4.6M605,799l1.8,7.8M651,722l0.8,4.9M614,325l-5.9,-3.5M589,768l-3.0,2.8M326,848l-8.7,-1.4M604,618l-4.7,3.6M562,677l8.0,-0.0M288,709l4.4,-1.0M586,628l2.2,4.2M319,709l3.1,2.9M751,710l-0.4,-6.8M435,760l-5.2,-5.2M745,713l-3.8,-2.6M417,863l1.5,4.1M531,748l-3.2,4.3M564,707l2.4,-4.7M527,733l-8.6,-0.9M758,720l8.0,-2.7M276,646l3.5,-3.5M619,624l4.9,5.4M552,318l5.8,3.0M380,647l7.7,-2.7M514,277l-4.4,-2.3M544,308l1.0,4.4M501,427l6.7,-5.7M534,488l-1.9,6.3M592,779l3.6,6.7M488,774l4.3,-3.4M593,723l-1.6,7.3M641,349l-6.7,2.1M646,577l-1.9,-5.5M397,659l8.0,1.3M340,842l-4.4,-0.8M752,722l4.0,3.5M644,340l-6.2,-1.8M629,535l7.0,3.7M513,698l-4.6,2.2M287,806l-6.7,0.9M458,427l-4.0,-4.3M583,391l6.3,5.5M576,597l-0.3,-5.6M303,832l-2.1,5.6M527,345l-3.8,-3.5M745,750l-0.4,4.6M522,828l7.6,-4.4M543,564l-1.8,7.5M501,383l-1.0,-7.0M533,423l-2.7,-5.6M600,641l8.4,1.6M448,822l-4.4,3.9M491,846l-3.8,6.5M442,826l-3.0,2.9M322,809l-3.8,3.7M284,746l3.8,6.8M433,544l4.2,-3.9M342,702l-5.7,-2.2M531,537l-5.2,2.3M342,852l-5.9,1.2M554,333l5.1,3.8M699,707l-5.7,0.1M590,611l7.9,0.9M449,858l-7.0,-2.9M402,710l4.8,-1.5M441,795l-5.5,0.5M437,811l-5.7,0.3M594,672l-7.1,-3.7M556,383l-7.3,-1.7M645,579l-6.9,-5.7M275,791l3.7,3.0M322,749l-6.9,-0.4M664,366l0.6,7.1M243,685l-4.3,-6.4M497,808l1.2,-6.4M568,576l-3.4,-8.2M552,702l-2.9,-3.2M649,436l7.1,-1.5M712,717l-4.5,4.2M282,704l-1.2,-5.1M252,761l-6.5,-5.1M340,860l-3.4,3.1M500,825l0.4,-4.0M614,329l-5.1,-2.3M464,775l0.7,5.5M522,543l-7.1,0.7M539,846l6.5,0.8M674,384l6.0,6.0M621,785l3.5,2.0M551,652l-3.1,4.7M493,757l6.2,3.1M503,790l5.4,-1.5M388,749l-4.7,-4.4M405,721l4.5,6.7M475,392l-7.9,-0.3M505,429l5.6,-5.3M311,685l4.3,-3.1M662,675l-8.2,-1.6M579,771l-6.1,5.6M557,492l-7.1,-2.0M248,701l-5.2,0.4M260,647l-2.4,-3.3M678,675l3.8,-6.7M663,701l8.3,-1.0M666,470l5.1,0.2M491,764l2.4,-4.1M556,536l-5.8,0.9M628,622l-4.8,-4.6M624,367l2.8,-8.1M561,793l5.3,0.4M486,824l-6.3,-1.9M277,653l3.3,-4.2M446,441l-7.1,1.5M628,467l-8.9,-0.2M536,300l3.5,6.4M405,686l3.0,-2.8M579,823l3.8,1.8M746,708l-2.1,-3.8M243,777l-4.2,-0.1M490,752l8.4,1.1M645,518l-0.1,5.1M328,836l-7.0,-3.6M574,463l-1.6,-7.6M510,336l0.1,6.7M374,697l1.2,-4.6M826,748l-3.3,-3.0M360,842l6.9,-3.3M691,698l3.8,2.7M314,826l-3.3,7.0M343,823l-0.0,-5.9M591,352l-5.2,-6.8M258,770l5.0,-1.3M579,554l-2.8,5.4M437,598l3.1,3.4M540,759l0.7,-4.8M767,714l-2.1,-3.6M590,770l-5.8,2.5M264,765l3.8,-4.2M350,832l1.2,-5.4M618,784l4.9,5.7M663,332l8.0,-1.0M418,673l6.7,3.8M613,548l6.9,-0.1M322,670l8.2,-1.3M653,410l7.4,-4.6M508,386l4.4,-4.5M348,747l4.4,0.2M392,662l7.7,-0.2M794,747l-3.9,1.2M637,328l-6.5,-6.2M391,800l-2.3,-3.7M540,435l0.5,6.4M566,568l-0.4,5.4M668,434l2.9,-6.5M522,785l-5.9,-1.1M611,732l0.1,-8.3M452,440l-7.4,-1.0M666,749l6.4,-1.0M233,789l-3.9,4.7M578,688l-5.7,-5.0M526,476l-2.9,4.2M404,571l-3.1,-7.3M391,764l-6.5,1.7M557,349l-2.3,-8.5M538,489l-7.2,4.5M535,277l2.6,-5.8M417,614l6.9,-0.4M586,494l-7.6,-1.1M829,762l2.4,7.5M822,764l-3.2,2.5M541,454l-0.7,6.4M248,703l-5.4,6.2M329,701l7.3,4.7M633,343l-8.0,2.7M647,476l-5.4,2.2M388,579l-5.9,4.4M626,754l-5.0,-1.4M476,760l4.1,-0.5M720,698l-1.7,-4.4M484,362l-3.1,-5.2M401,776l1.5,8.1M591,736l1.8,-5.6M576,600l-2.3,-7.8M636,562l4.0,-2.3M669,695l-7.7,2.7M557,712l-2.4,-8.5M683,683l7.2,5.3M281,665l5.7,3.3M752,756l-6.0,4.2M544,311l4.0,4.0M680,620l2.7,4.8M584,568l3.3,4.7M437,837l7.5,0.7M491,801l4.9,-0.5M352,850l4.0,1.9M617,715l4.7,4.4M503,840l4.3,7.2M521,702l-4.4,4.5M612,523l7.2,-1.2M665,495l2.8,4.3M502,434l4.1,-2.3M336,831l-2.0,-4.1M624,433l4.0,1.5M355,649l-4.5,-2.1M385,854l-3.0,5.2M346,771l2.6,5.6M618,584l-3.4,-2.7M519,452l-5.4,3.7M222,746l-4.1,-6.3M397,841l-6.7,5.1M495,811l0.8,-6.8M579,558l-1.7,5.2M661,575l0.3,-5.0M618,450l-3.9,6.6M686,686l4.2,-0.9M611,568l-3.3,-3.7M310,830l-3.0,5.8M641,742l0.3,-7.2M412,632l7.4,0.8M624,776l-4.2,2.2M506,699l-5.0,1.8M247,782l0.3,8.8M626,761l-4.9,-2.3M521,300l-6.9,5.7M335,794l3.6,-3.6M563,676l3.0,-3.4M585,815l2.8,3.5M371,871l5.7,5.4M608,606l-8.4,3.1M552,343l0.0,-5.6M497,391l-5.1,-7.3M396,765l-4.8,2.2M346,812l4.3,2.7M619,379l3.2,-4.0M466,841l-6.6,3.9M659,547l4.4,-4.6M441,771l-6.2,6.2M514,396l4.8,3.3M516,698l-4.3,7.4M571,825l5.5,2.2M356,652l-5.2,0.5M517,410l6.0,5.5M312,687l8.5,-1.8M658,768l4.0,2.2M398,770l-1.2,5.6M419,630l7.1,5.5M280,646l2.0,-4.0M510,282l-6.1,-4.4M657,470l7.5,-0.5M727,711l4.9,1.5M615,695l1.3,8.3M493,417l-5.2,4.0M390,766l-5.1,-0.2M558,393l-4.1,6.1M537,501l-8.6,0.8M234,786l-2.9,6.7M532,761l-4.7,-6.7M291,803l-7.5,1.5M770,734l-3.4,3.8M682,689l5.9,5.9M613,626l-0.6,4.5M295,663l6.0,3.8M545,771l0.3,-4.7M375,781l-7.2,4.9M675,491l1.5,5.0M663,569l-3.8,-5.4M674,701l-0.7,3.9M575,619l4.4,-5.3M309,833l-2.4,7.3M648,701l-3.6,5.4M662,696l4.0,-1.1M516,442l-6.9,1.3M724,706l2.5,-7.4M809,767l-6.9,1.3M665,387l1.0,4.3M333,751l-7.6,-0.5M632,443l2.6,4.6M342,681l-8.3,-0.2M527,435l-4.2,0.7M376,617l-6.5,-0.3M512,370l4.2,-3.5M258,699l7.6,-1.5M598,504l1.1,7.8M261,769l5.7,-1.8M244,663l-5.7,-0.6M340,745l2.6,-4.0M605,337l-1.6,-5.1M830,748l2.3,-6.0M578,662l-2.5,-6.6M737,726l-2.6,3.7M657,759l4.7,-1.6M566,567l-2.2,8.3M365,831l3.5,-2.9M372,589l-2.7,-7.9M594,622l7.5,-1.7M344,757l-2.0,3.6M525,758l-6.3,-2.9M389,611l2.6,-4.4M637,641l-8.5,2.9M514,820l3.2,-3.9M453,843l-3.9,5.1M366,732l-3.7,8.0M371,859l4.0,7.5M510,764l-5.9,-2.0M348,830l0.9,-5.9M577,420l3.7,3.3M374,767l-4.1,-2.0M607,707l3.3,4.1M569,390l-1.6,7.4M305,663l-2.3,-5.4M457,431l-4.6,-0.6M615,667l-0.1,-6.9M403,587l0.2,8.1M377,826l-5.3,0.4M565,665l6.5,-5.0M621,392l1.4,4.1M583,365l5.1,-3.2M633,506l-5.9,3.0M396,845l2.9,7.2M495,362l-0.3,-5.2M833,751l3.1,-3.4M589,770l-5.8,4.4M302,688l3.7,-6.0M361,748l5.6,-3.1M296,832l-5.1,6.8M541,773l-1.1,-4.8M567,808l4.7,3.8M578,768l-7.2,4.0M282,688l-6.2,-5.4M250,708l-4.4,7.8M232,734l-1.0,5.5M662,508l2.2,5.8M802,756l2.3,5.8M307,684l7.0,-2.3M377,624l-5.8,2.1M568,758l-7.7,-3.7M339,679l-4.4,0.7M569,488l-6.9,2.7M589,480l-2.9,-4.9M559,420l4.1,-1.0M574,551l-3.7,6.7M538,731l-4.1,6.2M456,755l-4.4,-7.6M497,781l2.4,-3.3M707,737l-0.7,6.3M401,591l0.1,8.1M635,748l-0.7,-5.7M632,573l4.8,-2.2M254,738l-6.0,1.5M392,643l7.0,-4.9M305,676l1.0,-6.2M374,706l6.1,-5.3M663,694l5.7,-4.5M326,865l-3.8,2.0M350,799l7.1,-0.7M469,848l-6.6,2.0M590,481l-1.5,-7.0M430,613l6.3,0.5M499,354l0.9,-5.8M661,442l2.2,-3.9M549,343l-0.5,-8.6M487,730l5.4,-3.1M587,364l-5.0,-2.1M512,839l4.8,4.2M518,428l-4.6,2.5M503,412l-1.5,5.1M411,657l7.4,0.7M659,417l5.6,-1.3M237,712l-5.8,6.0M356,766l2.8,4.5M523,352l-0.2,-4.3M619,744l5.2,-6.4M299,792l-4.0,1.2M455,795l-5.5,-2.4M647,662l0.9,5.9M325,792l-4.1,-7.2M599,544l7.6,4.0M485,751l6.6,1.6M558,628l-5.7,0.6M227,767l-4.9,-0.1M534,810l0.8,6.6M507,722l-5.0,1.2M781,735l4.5,7.3M498,376l-2.7,-6.5M600,541l5.1,2.7M548,686l8.5,-0.2M618,379l7.3,-2.5M662,622l-2.1,8.4M330,689l5.0,-1.4M482,546l6.6,-4.4M305,765l-5.0,1.0M342,726l1.6,-8.1M523,683l-5.1,-1.3M647,650l1.1,5.4M512,454l8.0,-1.1M611,440l-3.5,3.0M728,699l0.7,-6.4M572,545l-7.3,3.7M786,731l5.4,-0.8M382,839l-7.2,3.4M521,674l-5.4,-5.4M559,758l4.0,-4.2M422,547l4.9,-4.2M614,453l2.1,3.8M376,714l4.0,1.3M396,767l-4.1,6.2M585,629l4.8,1.0M242,802l1.7,5.8M432,627l4.9,3.4M500,358l-2.9,-4.7M653,644l5.8,4.5M615,392l2.9,7.0M464,786l-1.2,-4.9M260,776l2.4,5.2M774,766l2.4,5.6M364,857l5.6,6.7M307,665l-0.3,-5.6M565,512l-3.2,-2.7M241,654l-3.0,3.1M331,706l4.7,0.4M357,656l-7.0,-0.4M238,775l-8.5,1.4M593,801l-3.2,5.0M501,743l6.6,-4.7M411,766l4.1,-0.2M327,840l-7.0,-3.3M591,783l-2.4,4.2M430,813l7.0,-3.5M527,339l-3.2,6.2M214,733l-8.2,2.5M602,562l1.8,3.7M546,311l6.8,5.0M641,585l-1.8,-3.9M670,397l1.8,-4.1M489,374l-2.6,-4.6M610,700l2.1,4.0M457,797l-8.0,-0.8M559,709l-2.8,-5.7M558,417l6.6,-2.4M535,833l5.3,3.5M232,701l-7.9,2.9M580,674l-2.2,-8.7M521,548l-7.3,1.9M326,856l-6.0,4.0M262,652l-2.1,-3.6M713,741l-1.6,5.2M398,581l-2.8,6.4M288,689l-5.1,-1.0M236,689l-7.6,-4.5M534,542l-4.1,1.3M287,743l3.2,3.3M228,690l-3.4,-2.7M406,869l0.4,4.1M454,409l-8.7,1.5M222,685l-5.7,-2.2M541,706l6.9,1.1M230,715l-5.7,5.3M801,764l-0.0,6.8M543,825l-1.5,3.9M240,708l-5.2,6.0M474,420l-2.9,-4.4M379,647l5.8,-3.2M386,758l-8.4,-0.5M309,791l-3.8,-3.2M637,643l-4.3,-0.3M242,753l-4.0,-0.6M572,365l1.7,-6.5M399,841l-0.4,7.6M649,602l-6.2,4.2M233,774l-8.0,1.1M734,756l-4.3,6.7M351,672l-4.9,3.3M331,804l0.2,5.8M260,773l3.7,2.1M415,799l-3.8,-5.6M264,783l0.9,4.1M374,608l-3.4,-3.8M646,675l0.8,-7.5M544,439l-0.8,4.5M519,691l-3.5,2.5M518,523l-8.1,-3.3M601,485l4.8,-4.0M244,705l-6.3,2.7M497,757l5.1,-2.2M391,771l-7.1,1.6M774,728l-4.4,-1.3M484,418l2.9,-4.2M346,689l-4.4,-1.7M500,376l-4.1,-4.3M391,723l5.5,1.8M368,654l2.4,6.2M417,804l2.3,-6.7M677,735l0.7,7.1M539,652l2.4,-4.3M384,720l4.1,4.2M217,714l-4.9,1.1M558,534l-5.4,3.8M257,693l-0.5,-7.8M637,704l-5.2,3.1M635,365l5.4,-4.3M292,781l3.9,5.4M256,679l1.3,-6.3M596,715l0.4,5.6M570,618l-3.5,-4.3M539,499l-4.1,-1.2M837,760l5.3,6.2M255,657l-7.0,-2.0M615,593l-7.2,-5.2M360,717l-8.7,-0.9M563,614l-4.4,-3.8M653,492l-2.7,6.8M562,774l2.9,-3.1M387,585l-5.2,3.6M584,357l-3.2,-3.0M546,390l-3.8,2.0M230,726l-3.9,7.4M618,365l-1.1,-5.1M643,559l-6.5,-5.1M310,684l3.3,-3.0M344,746l4.8,-0.8M526,371l7.9,-2.5M593,541l1.1,8.7M510,367l-0.2,-7.9M618,352l4.3,-5.3M552,681l4.0,-3.3M234,708l-6.3,4.1M469,812l-4.0,5.6M531,384l-8.1,-0.3M583,454l-1.7,-7.9M271,798l2.2,4.6M587,541l0.2,4.6M414,697l5.5,-1.4M637,465l-5.4,-1.1M626,440l3.0,3.3M255,778l-1.6,7.0M337,733l-1.6,-3.7M433,579l5.3,4.0M622,553l7.3,1.8M626,465l-5.3,-0.9M346,854l-6.0,2.8M625,659l-0.7,7.3M772,725l-3.4,-2.6M313,719l2.8,5.2M372,617l-5.5,6.4M537,490l-8.0,3.7M367,636l1.2,-5.2M360,638l-3.5,-3.7M544,449l2.1,7.5M458,850l-3.6,4.2M830,732l2.7,-4.6M609,701l-1.2,7.3M636,502l-3.7,3.9M333,763l-4.4,5.5M686,623l2.6,6.8M530,847l4.7,2.9M664,761l6.7,-0.1M415,717l8.3,1.3M574,673l-3.1,-6.9M598,462l4.3,-4.4M658,525l0.2,4.3M525,323l-3.7,5.9M372,795l-2.4,4.7M619,691l4.4,0.0M354,863l-0.6,6.2M738,710l4.3,-0.8M534,433l-4.3,1.8M477,776l3.4,-3.6M558,436l5.4,-2.9M545,656l-2.0,-7.1M527,691l-5.2,1.7M566,495l-5.9,1.3M565,737l1.4,7.9M333,730l-4.0,-2.3M244,723l-3.0,8.4M604,689l-3.7,-3.4M648,769l2.0,5.1M611,696l1.0,4.0M324,720l-3.3,-7.1M640,668l-0.9,6.1M842,746l8.0,0.4M596,584l-6.9,-2.7M502,401l-0.3,6.1M321,794l-8.1,-1.6M547,555l-6.6,2.7M654,625l5.3,-2.2M629,796l-0.8,5.6M531,376l-6.1,-0.4M235,670l-6.7,-5.8M572,512l-5.6,-6.7M581,771l-5.5,5.3M566,542l-2.6,7.6M557,726l0.0,5.1M620,681l8.4,-1.0M769,760l-0.8,6.6M489,395l-5.1,2.0M839,742l3.4,-7.4M601,489l3.9,-2.4M505,839l-0.1,6.3M279,651l4.9,0.5M401,793l-3.1,5.5M652,704l4.1,7.1M505,415l-1.8,6.2M557,420l3.8,-4.4M405,575l2.6,5.1M585,775l-3.6,2.4M410,825l3.8,-7.4M608,376l-2.8,-3.3M661,642l4.5,0.1M356,673l-2.0,4.7M768,763l-2.3,6.5M384,596l-2.0,-7.6M248,762l0.2,-7.7M612,704l2.2,7.7M626,587l0.8,-5.9M564,826l6.9,5.4M596,694l-4.1,-6.5M605,502l1.7,4.4M346,846l-4.5,-2.0M478,809l2.3,6.1M469,833l-6.2,0.9M427,848l4.0,5.4M510,843l3.5,4.7M831,758l0.2,7.8M626,471l-4.6,1.7M623,524l8.0,1.6M320,774l1.6,-8.2M435,870l4.1,7.5M555,386l-6.4,-1.9M509,837l6.5,1.2M608,432l-7.8,2.1M510,747l-5.4,-5.2M519,545l-4.8,4.6M640,618l0.9,-6.4M654,611l-2.5,5.7M303,835l-6.1,3.8M303,701l7.0,4.7M629,694l1.7,7.9M255,742l-1.8,-6.2M371,677l-2.4,5.2M580,384l5.7,0.6M486,371l-2.1,-3.7M629,775l-1.9,6.1M320,854l-5.3,-0.3M581,613l4.5,-7.7M332,761l-2.7,4.0M718,717l0.2,6.2M550,354l0.2,-8.0M542,284l4.8,-3.7M785,723l4.0,-2.9M642,391l5.4,-0.3M250,658l-7.7,-1.2M629,769l-5.0,1.9M586,666l-2.8,-5.9M591,582l-5.6,-3.1M596,740l-2.1,-7.2" stroke="#e6e5e7" stroke-width="1.1" opacity="0.30"/></g>
<g clip-path="url(#catclip)"><g filter="url(#rag)"><g filter="url(#gb8)"><path d="M310.0,862.0 C325.0,862.7 373.3,867.0 400.0,866.0 C426.7,865.0 446.7,860.7 470.0,856.0 C493.3,851.3 518.3,846.7 540.0,838.0 C561.7,829.3 581.7,816.3 600.0,804.0 C618.3,791.7 641.7,770.7 650.0,764.0" fill="none" stroke="#46464b" stroke-width="34" stroke-linecap="round" opacity="0.28"/></g><g filter="url(#gb5)"><ellipse cx="588" cy="466" rx="20" ry="13" fill="#46464b" opacity="0.22" transform="rotate(-10 588 466)"/></g><g filter="url(#gb3)"><path d="M452.0,548.0 C449.8,555.0 443.2,577.0 439.0,590.0 C434.8,603.0 430.5,614.0 427.0,626.0 C423.5,638.0 419.5,656.0 418.0,662.0" fill="none" stroke="#46464b" stroke-width="14" stroke-linecap="round" opacity="0.62"/><path d="M515.0,552.0 C522.5,554.0 544.2,562.0 560.0,564.0 C575.8,566.0 594.2,566.5 610.0,564.0 C625.8,561.5 647.5,551.5 655.0,549.0" fill="none" stroke="#46464b" stroke-width="12" stroke-linecap="round" opacity="0.53"/><path d="M360.0,676.0 C364.7,677.7 378.7,684.7 388.0,686.0 C397.3,687.3 411.3,684.3 416.0,684.0" fill="none" stroke="#46464b" stroke-width="8" stroke-linecap="round" opacity="0.56"/><path d="M336.0,678.0 C333.0,682.0 323.2,691.3 318.0,702.0 C312.8,712.7 308.2,726.5 305.0,742.0 C301.8,757.5 300.0,786.2 299.0,795.0" fill="none" stroke="#46464b" stroke-width="9" stroke-linecap="round" opacity="0.53"/><path d="M492.0,730.0 C496.7,733.7 508.7,746.3 520.0,752.0 C531.3,757.7 545.7,761.7 560.0,764.0 C574.3,766.3 592.7,768.3 606.0,766.0 C619.3,763.7 629.7,757.0 640.0,750.0 C650.3,743.0 663.3,728.3 668.0,724.0" fill="none" stroke="#46464b" stroke-width="8" stroke-linecap="round" opacity="0.5"/><ellipse cx="673" cy="574" rx="7" ry="19" fill="#46464b" opacity="0.4" transform="rotate(-20 673 574)"/><ellipse cx="680" cy="638" rx="7" ry="16" fill="#46464b" opacity="0.4" transform="rotate(-15 680 638)"/><ellipse cx="676" cy="676" rx="8" ry="12" fill="#46464b" opacity="0.38" transform="rotate(-20 676 676)"/><path d="M440.0,840.0 C446.7,840.5 466.7,844.2 480.0,843.0 C493.3,841.8 507.3,837.2 520.0,833.0 C532.7,828.8 550.0,820.5 556.0,818.0" fill="none" stroke="#46464b" stroke-width="9" stroke-linecap="round" opacity="0.28"/><path d="M566.0,808.0 C571.7,804.3 589.3,794.0 600.0,786.0 C610.7,778.0 621.0,768.3 630.0,760.0 C639.0,751.7 650.0,740.0 654.0,736.0" fill="none" stroke="#46464b" stroke-width="9" stroke-linecap="round" opacity="0.28"/><ellipse cx="470" cy="768" rx="8" ry="28" fill="#46464b" opacity="0.31" transform="rotate(-25 470 768)"/><ellipse cx="512" cy="772" rx="8" ry="24" fill="#46464b" opacity="0.31" transform="rotate(-40 512 772)"/><ellipse cx="560" cy="772" rx="8" ry="20" fill="#46464b" opacity="0.25" transform="rotate(-50 560 772)"/><ellipse cx="436" cy="742" rx="10" ry="18" fill="#46464b" opacity="0.56" transform="rotate(-20 436 742)"/><path d="M560.0,650.0 C566.3,648.0 584.3,641.3 598.0,638.0 C611.7,634.7 634.7,631.3 642.0,630.0" fill="none" stroke="#46464b" stroke-width="8" stroke-linecap="round" opacity="0.2"/><path d="M516.0,694.0 C518.7,690.3 525.3,677.7 532.0,672.0 C538.7,666.3 552.0,662.0 556.0,660.0" fill="none" stroke="#46464b" stroke-width="7" stroke-linecap="round" opacity="0.2"/><ellipse cx="588" cy="588" rx="36" ry="7" fill="#46464b" opacity="0.25" transform="rotate(-25 588 588)"/><ellipse cx="668" cy="470" rx="9" ry="50" fill="#46464b" opacity="0.31" transform="rotate(5 668 470)"/><ellipse cx="541" cy="300" rx="5" ry="22" fill="#46464b" opacity="0.31" transform="rotate(-28 541 300)"/><ellipse cx="712" cy="714" rx="5" ry="20" fill="#46464b" opacity="0.18" transform="rotate(15 712 714)"/><ellipse cx="737" cy="723" rx="5" ry="20" fill="#46464b" opacity="0.18" transform="rotate(18 737 723)"/><ellipse cx="762" cy="733" rx="5" ry="20" fill="#46464b" opacity="0.18" transform="rotate(20 762 733)"/><ellipse cx="790" cy="745" rx="5" ry="20" fill="#46464b" opacity="0.18" transform="rotate(22 790 745)"/><ellipse cx="300" cy="740" rx="11" ry="55" fill="#46464b" opacity="0.44" transform="rotate(8 300 740)"/><ellipse cx="255" cy="796" rx="26" ry="8" fill="#46464b" opacity="0.38" transform="rotate(15 255 796)"/><ellipse cx="346" cy="795" rx="8" ry="20" fill="#46464b" opacity="0.19" transform="rotate(10 346 795)"/><ellipse cx="372" cy="815" rx="6" ry="16" fill="#46464b" opacity="0.15" transform="rotate(-20 372 815)"/><ellipse cx="420" cy="792" rx="8" ry="40" fill="#46464b" opacity="0.19" transform="rotate(-12 420 792)"/></g><g filter="url(#gb2)"><ellipse cx="655" cy="560" rx="20" ry="5" fill="#46464b" opacity="0.3" transform="rotate(18 655 560)"/><ellipse cx="662" cy="640" rx="6" ry="26" fill="#46464b" opacity="0.31" transform="rotate(10 662 640)"/><ellipse cx="517" cy="361" rx="4" ry="10" fill="#46464b" opacity="0.25" transform="rotate(18 517 361)"/><ellipse cx="536" cy="348" rx="6" ry="3" fill="#46464b" opacity="0.25" transform="rotate(-20 536 348)"/><ellipse cx="553" cy="343" rx="7" ry="3" fill="#46464b" opacity="0.25" transform="rotate(5 553 343)"/></g></g></g>
<g clip-path="url(#catclip)"><g filter="url(#rag)"><g filter="url(#gb5)"><ellipse cx="372" cy="706" rx="42" ry="16" fill="#f4f3f5" opacity="0.38" transform="rotate(12 372 706)"/><ellipse cx="268" cy="654" rx="28" ry="11" fill="#f4f3f5" opacity="0.35" transform="rotate(-10 268 654)"/><ellipse cx="560" cy="383" rx="44" ry="18" fill="#f4f3f5" opacity="0.28" transform="rotate(-15 560 383)"/><ellipse cx="500" cy="396" rx="18" ry="10" fill="#f4f3f5" opacity="0.25" transform="rotate(-35 500 396)"/><ellipse cx="654" cy="334" rx="22" ry="13" fill="#f4f3f5" opacity="0.32" transform="rotate(20 654 334)"/><ellipse cx="560" cy="716" rx="52" ry="24" fill="#f4f3f5" opacity="0.2" transform="rotate(-5 560 716)"/><ellipse cx="608" cy="686" rx="26" ry="24" fill="#f4f3f5" opacity="0.12" transform="rotate(0 608 686)"/><ellipse cx="578" cy="618" rx="26" ry="20" fill="#f4f3f5" opacity="0.14" transform="rotate(20 578 618)"/><ellipse cx="386" cy="612" rx="14" ry="30" fill="#f4f3f5" opacity="0.3" transform="rotate(18 386 612)"/><ellipse cx="590" cy="520" rx="50" ry="14" fill="#f4f3f5" opacity="0.25" transform="rotate(-5 590 520)"/><ellipse cx="620" cy="480" rx="28" ry="26" fill="#f4f3f5" opacity="0.16" transform="rotate(0 620 480)"/><ellipse cx="828" cy="752" rx="13" ry="10" fill="#f4f3f5" opacity="0.25" transform="rotate(0 828 752)"/></g><g filter="url(#gb3)"><ellipse cx="524" cy="272" rx="10" ry="7" fill="#f4f3f5" opacity="0.3" transform="rotate(0 524 272)"/></g></g></g>
<g filter="url(#furW)"><g clip-path="url(#catclip)"><path d="M468.0,546.0 C461.0,548.2 461.5,554.3 458.0,562.0 C454.5,569.7 451.0,581.0 447.0,592.0 C443.0,603.0 437.5,616.0 434.0,628.0 C430.5,640.0 428.5,652.0 426.0,664.0 C423.5,676.0 419.2,690.0 419.0,700.0 C418.8,710.0 420.5,717.8 425.0,724.0 C429.5,730.2 438.5,734.8 446.0,737.0 C453.5,739.2 463.0,739.3 470.0,737.0 C477.0,734.7 483.5,728.3 488.0,723.0 C492.5,717.7 493.0,711.8 497.0,705.0 C501.0,698.2 505.2,694.5 512.0,682.0 C518.8,669.5 531.2,645.0 538.0,630.0 C544.8,615.0 551.0,601.7 553.0,592.0 C555.0,582.3 553.8,578.0 550.0,572.0 C546.2,566.0 538.3,559.8 530.0,556.0 C521.7,552.2 510.3,550.7 500.0,549.0 C489.7,547.3 475.0,543.8 468.0,546.0Z" fill="#f5f4f2"/>
<g filter="url(#gb5)"><ellipse cx="536" cy="606" rx="8" ry="34" fill="#dddcdc" opacity="0.7" transform="rotate(28 536 606)"/><ellipse cx="436" cy="690" rx="10" ry="30" fill="#d6d5d6" opacity="0.7"/><ellipse cx="470" cy="730" rx="26" ry="8" fill="#cfcfd1" opacity="0.7"/><ellipse cx="495" cy="553" rx="42" ry="10" fill="#8f8f94" opacity="0.85" transform="rotate(6 495 553)"/></g>
<path d="M480.0,423.0 C475.2,423.2 470.7,425.8 466.0,429.0 C461.3,432.2 456.0,436.8 452.0,442.0 C448.0,447.2 444.3,454.0 442.0,460.0 C439.7,466.0 439.0,471.7 438.0,478.0 C437.0,484.3 435.5,491.8 436.0,498.0 C436.5,504.2 439.0,510.0 441.0,515.0 C443.0,520.0 444.2,523.7 448.0,528.0 C451.8,532.3 458.7,538.0 464.0,541.0 C469.3,544.0 475.2,545.3 480.0,546.0 C484.8,546.7 488.5,546.3 493.0,545.0 C497.5,543.7 503.3,540.8 507.0,538.0 C510.7,535.2 513.0,532.7 515.0,528.0 C517.0,523.3 519.2,516.3 519.0,510.0 C518.8,503.7 515.3,496.0 514.0,490.0 C512.7,484.0 511.2,479.0 511.0,474.0 C510.8,469.0 513.7,465.5 513.0,460.0 C512.3,454.5 510.0,446.3 507.0,441.0 C504.0,435.7 499.5,431.0 495.0,428.0 C490.5,425.0 484.8,422.8 480.0,423.0Z" fill="#f8f7f6"/>
<g filter="url(#gb3)"><ellipse cx="470" cy="472" rx="26" ry="5" fill="#dedddc" opacity="0.7" transform="rotate(-8 470 472)"/><ellipse cx="500" cy="450" rx="5" ry="16" fill="#e0dfdf" opacity="0.6" transform="rotate(-15 500 450)"/></g></g></g>
<path d="M438.0,490.0 C434.0,492.1 435.5,496.8 436.0,502.0 C436.5,507.2 437.7,515.0 441.0,521.0 C444.3,527.0 449.5,533.7 456.0,538.0 C462.5,542.3 472.2,546.0 480.0,547.0 C487.8,548.0 497.0,546.5 503.0,544.0 C509.0,541.5 513.4,537.3 516.0,532.0 C518.6,526.7 518.8,518.8 518.5,512.0 C518.2,505.2 517.6,495.4 514.5,491.0 C511.4,486.6 505.8,486.2 500.0,485.5 C494.2,484.8 486.7,486.3 480.0,487.0 C473.3,487.7 467.0,489.0 460.0,489.5 C453.0,490.0 442.0,487.9 438.0,490.0Z" fill="url(#muzg)" filter="url(#bs)"/>
<path d="M439,479 Q450,481 460,486.5 Q452,493 444.5,501 Q438,492 439,479Z" fill="#e8bdb7" filter="url(#bs)"/>
<path d="M446,503 Q450,517 462,521 Q470,521 476,514" fill="none" stroke="#d6d2ce" stroke-width="1" opacity="0.7"/>
<path d="M512.5,295 Q528,300 538,316 Q540,324 535,328 Q526,333 518,338 Q512,318 512.5,295Z" fill="#e3b7a9" filter="url(#bs)"/>
<path d="M520,304 Q525,318 523,334" stroke="#c8968a" stroke-width="2" fill="none" filter="url(#bs)"/>
<path d="M514.5,300 Q515,318 519,336" stroke="#efcfc5" stroke-width="2" fill="none" filter="url(#bs)"/>
<path d="M615.0,357.0 C616.5,354.7 619.0,352.3 622.0,351.0 C625.0,349.7 629.0,348.2 633.0,349.0 C637.0,349.8 642.2,352.3 646.0,356.0 C649.8,359.7 653.8,364.0 656.0,371.0 C658.2,378.0 658.7,388.8 659.0,398.0 C659.3,407.2 659.2,417.8 658.0,426.0 C656.8,434.2 654.2,446.3 652.0,447.0 C649.8,447.7 647.0,435.8 645.0,430.0 C643.0,424.2 641.7,418.7 640.0,412.0 C638.3,405.3 637.0,395.5 635.0,390.0 C633.0,384.5 630.5,381.2 628.0,379.0 C625.5,376.8 622.2,377.8 620.0,377.0 C617.8,376.2 615.7,376.0 614.5,374.0 C613.3,372.0 612.9,367.8 613.0,365.0 C613.1,362.2 613.5,359.3 615.0,357.0Z" fill="#e5b9a9" filter="url(#bs)"/>
<path d="M621,356 Q626,366 627,378" stroke="#cc9c8e" stroke-width="4" fill="none" opacity="0.7" filter="url(#b2)"/>
<path d="M633,380 Q642,398 646,428" stroke="#bf8f82" stroke-width="3" fill="none" opacity="0.55" filter="url(#b2)"/>
<path d="M646,358 Q656,374 657,400 Q657,420 654,436" stroke="#f0cfc3" stroke-width="3" fill="none" opacity="0.9" filter="url(#bs)"/>
<ellipse cx="526.5" cy="468" rx="15" ry="15.5" fill="#454549" opacity="0.7" filter="url(#b2)"/>
<ellipse cx="526.4" cy="468" rx="12" ry="12.6" fill="#1c1310"/>
<ellipse cx="526.4" cy="468" rx="10.8" ry="11.4" fill="url(#cateye)"/>
<ellipse cx="527.4" cy="468.4" rx="8.6" ry="9.3" fill="#0a0706"/>
<rect x="522.6" y="463.4" width="4.6" height="6" fill="#d8d8d8" opacity="0.92" transform="rotate(8 525 466)"/>
<path d="M231,696 Q224,715 226,738 Q230,757 237,765 Q245,750 244,735 Q243,712 238,699 Q235,694 231,696Z" fill="#e8e5e1" filter="url(#bs)"/>
<path d="M316,734 Q304,752 302,775 Q301,800 306,815 Q310,828 315,828 Q324,812 327,790 Q330,768 328,750 Q324,734 316,734Z" fill="#ebe8e4" filter="url(#bs)"/>
<path d="M683,722 L688,720 L714,754.5 L694,784 L667.5,745 Z" fill="#22307f"/>
<g clip-path="url(#tagclip)"><g transform="translate(679.5,722.5) rotate(53.5)" font-family="Liberation Sans, sans-serif" font-weight="bold" fill="#f2f2f6" font-size="7.4"><text x="0" y="0" textLength="39" lengthAdjust="spacingAndGlyphs">VERMONT</text><text x="-9" y="8.4" textLength="54" lengthAdjust="spacingAndGlyphs">TEDDY BEAR</text></g><path d="M672,742 q3,2 4,6 q2,-1 3,3 q2,0 3,4 q2,-1 3,4 q2,0 3,4 q2,0 2,4" stroke="#b8934a" stroke-width="1.1" fill="none" opacity="0.9"/></g>
<path d="M683,722 L667.5,745" stroke="#a9a9ad" stroke-width="3" opacity="0.8" filter="url(#bs)"/>
<g fill="none" stroke="#cfcfcf" stroke-width="0.9"><path d="M440,506 Q432,512 430,524"/><path d="M437,499 Q430,495 424,493"/></g>
<g fill="none" stroke="#fff" stroke-width="1.1" opacity="0.95"><path d="M484,528 Q490,538 510,541"/><path d="M468,512 Q488,503 512,506"/></g>
<g id="arrows">
<path d="M385,94.5 H386.5 A16,16 0 0 1 402.5,110.5 V356 C402.5,378 411,384 426,392" fill="none" stroke="#6f9bd6" stroke-width="6.6" stroke-linecap="round" stroke-linejoin="round"/>
<path d="M0,0 L-31.5,-20.5 Q-39,-24 -39,-16.5 L-29.5,-2.5 Q-28.5,0 -29.5,2.5 L-39,16.5 Q-39,24 -31.5,20.5 Z" fill="#6f9bd6" transform="translate(448,404.5) rotate(34)"/>
<path d="M609,110.5 H594 A13.3,13.3 0 0 0 580.7,123.8 V240" fill="none" stroke="#6f9bd6" stroke-width="6.6" stroke-linecap="round" stroke-linejoin="round"/>
<path d="M0,0 L-31.5,-20.5 Q-39,-24 -39,-16.5 L-29.5,-2.5 Q-28.5,0 -29.5,2.5 L-39,16.5 Q-39,24 -31.5,20.5 Z" fill="#6f9bd6" transform="translate(580.7,266) rotate(90)"/>
<path d="M171.4,432 V480.5 A13.5,13.5 0 0 0 184.9,494 H380" fill="none" stroke="#6f9bd6" stroke-width="6.6" stroke-linecap="round" stroke-linejoin="round"/>
<path d="M0,0 L-31.5,-20.5 Q-39,-24 -39,-16.5 L-29.5,-2.5 Q-28.5,0 -29.5,2.5 L-39,16.5 Q-39,24 -31.5,20.5 Z" fill="#6f9bd6" transform="translate(407.6,494) rotate(0)"/>
<path d="M786,467 H751.5 A13.5,13.5 0 0 0 738,480.5 V560 C738,580 728,590 713,599" fill="none" stroke="#6f9bd6" stroke-width="6.6" stroke-linecap="round" stroke-linejoin="round"/>
<path d="M0,0 L-31.5,-20.5 Q-39,-24 -39,-16.5 L-29.5,-2.5 Q-28.5,0 -29.5,2.5 L-39,16.5 Q-39,24 -31.5,20.5 Z" fill="#6f9bd6" transform="translate(692,614.5) rotate(141)"/>
<path d="M63,892.5 H57 A13.5,13.5 0 0 0 43.5,906 V947.5 A13.5,13.5 0 0 0 57,961 H334 A13.5,13.5 0 0 0 347.5,947.5 V912" fill="none" stroke="#6f9bd6" stroke-width="6.6" stroke-linecap="round" stroke-linejoin="round"/>
<path d="M0,0 L-31.5,-20.5 Q-39,-24 -39,-16.5 L-29.5,-2.5 Q-28.5,0 -29.5,2.5 L-39,16.5 Q-39,24 -31.5,20.5 Z" fill="#6f9bd6" transform="translate(347.5,884) rotate(-90)"/>
<path d="M946,905 H951 A14,14 0 0 0 965,891 V834 A14,14 0 0 0 951,820 H868" fill="none" stroke="#6f9bd6" stroke-width="6.6" stroke-linecap="round" stroke-linejoin="round"/>
<path d="M0,0 L-31.5,-20.5 Q-39,-24 -39,-16.5 L-29.5,-2.5 Q-28.5,0 -29.5,2.5 L-39,16.5 Q-39,24 -31.5,20.5 Z" fill="#6f9bd6" transform="translate(839.6,820) rotate(180)"/>
</g>
<g id="icons">

<circle cx="104.9" cy="114" r="75.2" fill="url(#eyeg)"/>
<circle cx="104.9" cy="114.3" r="46.3" fill="#000"/>
<path id="ring" d="M108.6,64.2 A50,50 0 1 1 104.8,64.2" fill="none"/>
<text font-family="Liberation Sans, sans-serif" font-weight="bold" font-size="19.6" fill="#1b1e2c" stroke="#1b1e2c" stroke-width="0.7"><textPath href="#ring" startOffset="0" textLength="297" lengthAdjust="spacing">VERMONT TEDDY BEAR</textPath></text>


<g fill="#ee4477">
<rect x="656.2" y="59" width="34.8" height="101.4" rx="8" ry="8"/>
<rect x="622.8" y="92.9" width="101.2" height="34" rx="8" ry="8"/>
</g>
<rect x="657.2" y="95" width="33" height="30.8" rx="7.5" ry="7.5" fill="#fff"/>
<path d="M673.6,120.2 C668,115.5 662.8,111.5 662.8,106.6 C662.8,102.5 666,101 668.3,101 C670.6,101 672.6,102.3 673.6,104.6 C674.6,102.3 676.6,101 678.9,101 C681.2,101 684.4,102.5 684.4,106.6 C684.4,111.5 679.2,115.5 673.6,120.2 Z" fill="#ee4477"/>

<g transform="translate(800,300) scale(0.16)" fill="url(#recg)"><path d="M150,213 L228,252 L285,138 Q305,118 335,122 Q362,128 378,152 L437,245 L395,340 L455,382 L270,392 Z"/><path d="M388,120 L570,118 Q612,120 640,160 L755,335 L625,440 Z"/><path d="M920,432 L700,428 L598,605 L680,570 L715,665 L840,662 Q880,655 895,620 Q905,595 890,565 L845,478 Z"/><path d="M478,690 L865,678 L795,825 Q775,858 735,862 L482,868 Z"/><path d="M345,590 L450,770 L345,950 L345,870 L245,870 Q205,868 182,835 Q165,805 180,775 L235,675 L345,680 Z"/><path d="M165,375 L325,440 L235,665 L155,800 L68,640 Q50,605 65,570 Z"/></g>

<g fill="#3a3a3c" stroke="none">
<path d="M78,392.3 Q58,382 40,383.6 Q58,383.6 77,394.5 Z"/>
<path d="M79,400.6 Q55,400 31,405 Q55,401.8 79,403 Z"/>
<path d="M78,411.5 Q62,418 51.5,432.5 Q63,420 79,413.8 Z"/>
<path d="M261,392.3 Q281,382 301,383.6 Q281,383.6 262,394.5 Z"/>
<path d="M260,400.6 Q286,400 311,405 Q286,401.8 260,403 Z"/>
<path d="M261,411.5 Q277,418 287,432.5 Q276,420 260,413.8 Z"/>
</g>

</g>
<g class="lbl">
<text x="193.5" y="104.5" font-size="41" textLength="178" lengthAdjust="spacingAndGlyphs" text-anchor="start">Signature</text>
<text x="195.5" y="145.3" font-size="41" textLength="83" lengthAdjust="spacingAndGlyphs" text-anchor="start">Eyes</text>
<text x="737" y="101.3" font-size="41" textLength="217.5" lengthAdjust="spacingAndGlyphs" text-anchor="start">Guaranteed</text>
<text x="739" y="143" font-size="41" textLength="134" lengthAdjust="spacingAndGlyphs" text-anchor="start">for Life</text>
<text x="84" y="419" font-size="41" textLength="175" lengthAdjust="spacingAndGlyphs" text-anchor="start">Whiskers</text>
<text x="798" y="478" font-size="41" textLength="163" lengthAdjust="spacingAndGlyphs" text-anchor="start">Recycled</text>
<text x="804" y="520" font-size="41" textLength="148" lengthAdjust="spacingAndGlyphs" text-anchor="start">Stuffing</text>
<text x="76" y="906.8" font-size="41" textLength="172" lengthAdjust="spacingAndGlyphs" text-anchor="start">Premium</text>
<text x="77.2" y="948" font-size="41" textLength="64" lengthAdjust="spacingAndGlyphs" text-anchor="start">Fur</text>
<text x="816" y="917" font-size="41" textLength="116" lengthAdjust="spacingAndGlyphs" text-anchor="start">Fluffy</text>
<text x="862" y="958.4" font-size="41" textLength="70" lengthAdjust="spacingAndGlyphs" text-anchor="start">Tail</text>
</g>
</svg>
</body></html>
